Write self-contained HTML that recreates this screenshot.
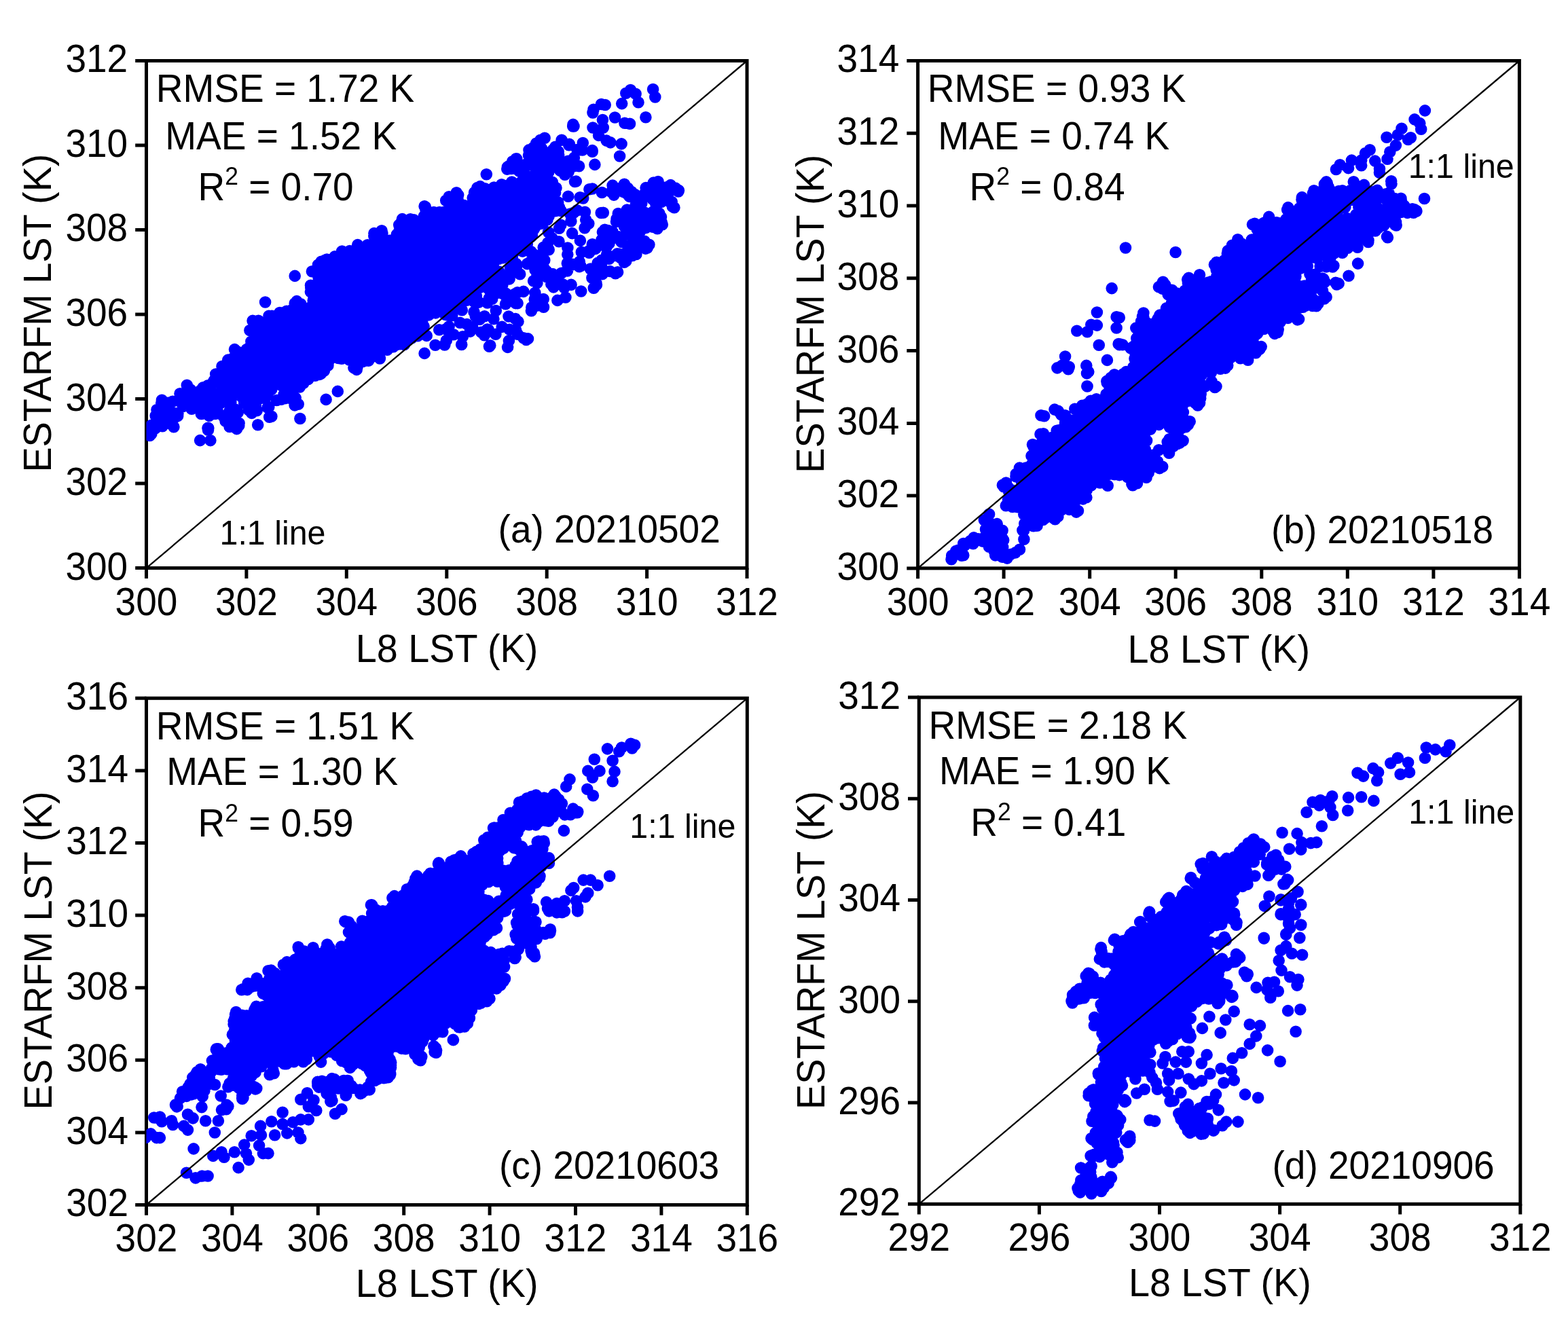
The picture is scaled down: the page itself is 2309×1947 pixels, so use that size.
<!DOCTYPE html>
<html lang="en">
<head>
<meta charset="utf-8">
<title>ESTARFM LST vs L8 LST scatter plots</title>
<style>
html,body{margin:0;padding:0;background:#fff;}
body{width:2309px;height:1947px;overflow:hidden;}
svg{display:block;}
text{font-family:"Liberation Sans", Arial, Helvetica, sans-serif;font-size:55px;fill:#000;}
.fr{fill:none;stroke:#000;stroke-width:5;}
.tk{stroke:#000;stroke-width:5;fill:none;}
.d{stroke:#000;stroke-width:2.3;fill:none;}
.p{fill:none;stroke:#00f;stroke-width:17.6;stroke-linecap:round;stroke-linejoin:round;}
.ax{font-size:55.8px;}
.sm{font-size:48.4px;}
.sup{font-size:35.5px;}
</style>
</head>
<body>
<svg xmlns="http://www.w3.org/2000/svg" width="2309" height="1947" viewBox="0 0 2309 1947">
<rect x="0" y="0" width="2309" height="1947" fill="#fff"/>
<g id="panel-a">
<rect class="fr" x="215.5" y="89.5" width="884.5" height="747.1"/>
<path class="tk" d="M215.5 836.6v15.3M215.5 836.6h-16.3M362.9 836.6v15.3M215.5 712.1h-16.3M510.3 836.6v15.3M215.5 587.6h-16.3M657.8 836.6v15.3M215.5 463.1h-16.3M805.2 836.6v15.3M215.5 338.5h-16.3M952.6 836.6v15.3M215.5 214h-16.3M1100 836.6v15.3M215.5 89.5h-16.3"/>
<clipPath id="clip-a"><rect x="215.5" y="89.5" width="884.5" height="747.1"/></clipPath>
<path class="p" clip-path="url(#clip-a)" d="M345.5 514.6h0M372.1 472.4h0M396 465.3h0M437 443.6h0M457.5 420.2h0M459.4 399.8h0M468.5 390h0M473.1 385.2h0M503.7 370h0M526.7 360.6h0M550.9 343.6h0M562.1 339.8h0M587.7 331.3h0M592.4 322.6h0M604.3 322.8h0M626.4 304.8h0M625.1 303.8h0M656.7 295.3h0M661.2 289.8h0M672.2 283.8h0M674.7 287.1h0M698.6 283.4h0M702.8 276.6h0M707 274.6h0M738.7 271.8h0M766.1 270.7h0M788.7 270.7h0M805.5 275.6h0M814.9 285.2h0M821.7 297.8h0M823.6 305.5h0M806 323.6h0M756.5 372h0M728.8 401.8h0M700.1 428.5h0M662.6 461.1h0M615.1 494.7h0M595.4 507.5h0M559.4 528h0M525.2 544.4h0M472.6 550.4h0M441.4 570h0M427.2 571.2h0M346.4 581.6h0M335.2 575.5h0M326.3 567.1h0M323.5 552.4h0M327 539.5h0M765.6 282h0M769.5 280h0M780.3 280.6h0M787.3 282.2h0M712.2 284.2h0M717.5 286h0M729.7 284.2h0M735 285.2h0M745.6 286.3h0M753.1 287.7h0M759.8 287.9h0M770.8 283.7h0M779 287.5h0M782.2 285.8h0M793.1 288.6h0M799.7 286.5h0M706.1 293.1h0M714.9 291.2h0M724.6 292.7h0M731.6 292.5h0M740.6 291h0M746.6 293.8h0M757.2 293.2h0M766.5 293.7h0M774.5 291.5h0M781.8 294.9h0M790.8 292h0M795.3 295.6h0M802.7 296h0M699.4 300.8h0M705.6 301.6h0M715.3 297.1h0M721.1 301.4h0M726.9 299.4h0M733.7 298.2h0M743.6 297.6h0M750.9 302.4h0M760.7 300h0M771.2 300.4h0M779.4 300.8h0M786.3 297.4h0M793 301.5h0M797.7 302.6h0M806.4 299.8h0M667.6 306.8h0M674.7 306h0M685.9 308.9h0M702.2 307.7h0M710 305.2h0M715.9 305.5h0M726.3 306.1h0M733.3 309.8h0M739.3 307.2h0M749.9 309.4h0M756 306.1h0M762 309.2h0M769.9 304.4h0M780.8 306.8h0M789.5 305.7h0M798 304.4h0M802.7 307.9h0M809.9 305.7h0M665.8 316.8h0M671.6 311.8h0M678.6 313.4h0M687.1 316.7h0M693.7 312.7h0M702.1 314.7h0M714 311.9h0M717.8 313.6h0M728.9 316.3h0M733.6 311.5h0M742.5 312.1h0M750.8 315.1h0M761 312.2h0M766.5 312.5h0M774.4 315.4h0M783.3 314.1h0M794.3 313.7h0M799 316.2h0M651.6 321h0M659.2 319.8h0M667.7 321.8h0M674.9 319h0M685.8 319.7h0M695.1 321.1h0M701.7 319.8h0M710.4 318.3h0M714.2 318.3h0M725.5 322h0M730.5 320.2h0M742.4 321.3h0M745.9 319.1h0M754.3 318.5h0M763.8 318.2h0M774.9 320.3h0M780.5 321.7h0M790 322.7h0M795.7 319.8h0M632.8 325.7h0M640.5 326.3h0M648.8 326.7h0M657.2 324.9h0M665.4 325.6h0M675.1 328.3h0M680.2 327.2h0M689.1 328.8h0M697.9 329.2h0M704.3 330.7h0M714.4 329.8h0M719.8 327.3h0M728.8 330.1h0M736.5 327.8h0M744 330.1h0M751.3 325h0M761.7 330.1h0M769.8 328.3h0M777.9 326.5h0M785 325.1h0M597.7 332.8h0M602.5 333h0M613.4 336.4h0M619.6 335.6h0M630.7 335.2h0M634.8 333.4h0M647 335.6h0M651.1 335.5h0M657.9 337.5h0M668 334.8h0M676.6 331.9h0M685 333.3h0M690.9 336.4h0M697.9 333.3h0M709.9 333.1h0M715.1 334.9h0M722.5 337h0M735.3 331.8h0M740.2 336.1h0M747.7 337.2h0M756.4 332.7h0M764.7 335.5h0M771.6 335.6h0M602 343h0M606.8 340.1h0M616.7 340h0M624.2 344.1h0M631.6 340.6h0M643.3 342.2h0M645.6 341h0M657.3 338.9h0M663.5 342.7h0M674.6 342.1h0M682.7 341.3h0M687.8 343.6h0M695.7 343.2h0M702.7 340.6h0M710.5 341.8h0M718.4 339.8h0M726.7 341.4h0M735.2 341.2h0M747.4 342.6h0M754.6 339.8h0M759.7 339h0M769.5 340.7h0M775 338.7h0M594.8 346h0M603.4 348h0M610.3 349h0M621.6 348.8h0M629.6 345.6h0M635.7 347.7h0M641.8 347.9h0M649.7 348.5h0M660.9 348.3h0M667.3 347h0M673.5 347.6h0M686.7 348.9h0M691 349.5h0M698.5 348.3h0M709.1 351.2h0M715.6 348.9h0M727 350.1h0M733.2 349.2h0M739.9 348h0M747.1 350.5h0M758.7 347.8h0M766.9 345.7h0M561.6 356.1h0M570.4 357.2h0M585.4 353.8h0M590.5 352.5h0M600.9 358.1h0M611.2 353.2h0M617.5 354.9h0M625.2 354.8h0M635 358.3h0M637.7 356.7h0M646.1 352.7h0M655.1 356.8h0M667.4 353.1h0M671.4 352.6h0M680.6 355.3h0M687.6 354.3h0M698.2 357.4h0M703.1 354.8h0M713.1 357h0M723.3 354.7h0M729.6 355.7h0M738.2 353.3h0M742.4 353.1h0M755 353.9h0M760.3 353.1h0M555.6 363.2h0M563.5 361h0M574.8 361.3h0M578 361.3h0M589.8 360.6h0M597.9 362.6h0M605.5 360.4h0M610 360.2h0M619.5 361.9h0M625.5 362.4h0M635.8 361.3h0M644.6 365h0M650.6 364.6h0M659.3 363.9h0M666 365.3h0M676 365.1h0M682.7 361.8h0M693.6 360.4h0M699 363.4h0M711.1 361.3h0M714.5 361.5h0M727.3 360.2h0M733.2 361.6h0M741.3 360.6h0M749.1 364.7h0M538.6 371.3h0M551.7 371.4h0M561.1 371.7h0M565.8 372.2h0M574.6 370h0M586.7 370.6h0M590.6 370.3h0M600 366.4h0M607.4 368.2h0M617.2 367.9h0M625 370.4h0M630.5 367h0M641.6 369.1h0M646.2 367h0M659 369.9h0M663.5 367.4h0M675.4 370.4h0M681.8 368.4h0M687.3 368.7h0M694.3 370.1h0M703.9 371.2h0M711.8 369h0M720.4 371.9h0M727.5 370.5h0M734.8 369.7h0M743.1 371.5h0M517.8 373.7h0M522.4 377.1h0M533.1 377.6h0M538.9 378.1h0M549.8 377.8h0M554.1 376h0M561.5 378.4h0M575.1 378.6h0M577.5 375.3h0M588.6 376.4h0M594.1 377.9h0M603.2 376.2h0M610.1 376.6h0M618.2 373.7h0M628.5 375h0M638.1 374.7h0M643.9 373.5h0M650.7 375.9h0M660.7 375.9h0M670.5 373.8h0M678.5 374.1h0M687.2 376.3h0M691.8 376.9h0M702.6 379h0M707.9 373.3h0M714.3 378.1h0M725.8 377.5h0M730.3 376.4h0M737.6 373.9h0M506.2 382.7h0M514.6 382.5h0M519.1 384.2h0M525.9 386h0M538.4 382.1h0M543.3 385h0M554.1 384h0M557.7 384.7h0M565.7 383.9h0M576.7 385.7h0M585.2 380.3h0M595 384.6h0M600.9 380.2h0M609.8 382.6h0M617.5 386h0M626.9 380.6h0M634.1 382.8h0M641.9 382.4h0M648.1 382.7h0M654.1 382h0M665.8 380.5h0M670.1 385.1h0M681.4 383.4h0M686.1 380.8h0M695.3 385.8h0M704.8 385.7h0M710.7 382.6h0M720.6 385.2h0M726.1 385.4h0M736.2 380.3h0M490.6 390.3h0M501.1 387.8h0M510 390.5h0M518.8 392.6h0M525.5 389.2h0M535.1 391.4h0M539.1 392.2h0M549.8 388.6h0M554.9 387.2h0M564.6 388.6h0M571.2 388.6h0M578.2 390h0M587 388.8h0M595.1 390.1h0M606.6 388h0M614.6 392.2h0M621 390.3h0M629.8 390.3h0M637.4 392.6h0M646 388.6h0M649.7 392.7h0M659.6 391.8h0M666.8 389.8h0M675.6 391.4h0M687.1 390.1h0M692.8 389.1h0M698.8 392.7h0M706.1 392.7h0M717.3 387.5h0M726.8 387.7h0M481.9 398.8h0M485.4 394.4h0M498.2 399.8h0M506.4 396.4h0M511.4 396.1h0M517.5 398.6h0M527 397.5h0M536.6 396h0M545.4 396.7h0M550.8 399.3h0M558.4 394.9h0M566.9 396.8h0M578.1 396h0M582.8 397.9h0M591 397.1h0M598.9 399.2h0M606.5 395.4h0M615.2 396h0M625.8 398h0M634.1 397.2h0M637.9 398.6h0M646.9 395.3h0M655.9 399.9h0M663.6 396.1h0M674.9 399.9h0M679.7 394.8h0M690.1 398.7h0M695.4 398.7h0M703.7 395.7h0M713 398.4h0M471.3 401.1h0M478 403.3h0M481.7 401.9h0M490.4 405.3h0M498.7 401h0M506.7 405.7h0M516.4 404.8h0M524.2 402h0M529.5 402.7h0M537.6 402.5h0M549.1 403.1h0M556.2 404.6h0M563.3 403h0M574.7 404.4h0M579.9 404.1h0M588.2 402.9h0M598.9 402.3h0M607 406h0M614.7 401.9h0M620.4 406.8h0M627.1 401.9h0M637.7 402.3h0M644.9 401.8h0M655.1 402.6h0M658 405h0M667.5 404.3h0M676.4 406.4h0M684.5 403.2h0M689.4 403.9h0M699 404.3h0M709.2 403.7h0M713.9 403.9h0M474.6 412.4h0M482.1 413.1h0M488.8 413.5h0M497.2 410.8h0M503.7 410h0M509.5 408.8h0M522.2 409.2h0M529.3 412.5h0M537.6 410.9h0M543.3 409.5h0M550.5 411.7h0M561.5 413.5h0M567.4 413.4h0M578.9 409.6h0M587.1 411.5h0M595.2 412.5h0M599.4 409.5h0M608.5 410.8h0M613.6 413h0M624.6 410.7h0M633.9 409.3h0M638.6 411.3h0M646.8 409.8h0M653.8 408.1h0M663.5 411h0M675.1 411.7h0M679.9 410.3h0M686.8 410.7h0M699.1 408.6h0M704 411.9h0M467.8 420.1h0M474.9 419.5h0M485.6 417.5h0M491.6 417.4h0M500.1 416.7h0M509.1 417.2h0M515.2 419.4h0M524.1 417.6h0M534.7 417.5h0M539.6 420.1h0M551.3 419.5h0M555.8 418.8h0M565.8 416.5h0M573.7 420.5h0M581.3 418.8h0M588 418.7h0M594.7 419.4h0M604.6 420.6h0M611.4 419h0M617.5 417.3h0M630 416.3h0M637.1 416.1h0M643.8 420.7h0M650.6 420.2h0M657.8 418.3h0M670.3 419.8h0M675.7 418.3h0M685.7 419.3h0M693.9 418.2h0M472 426.6h0M480.8 425.3h0M491.3 423h0M494.7 425.4h0M502.3 427.5h0M511.4 424.3h0M520 426.7h0M530.9 425.8h0M534.4 423.8h0M545.6 423h0M554.7 426.9h0M558.8 423.9h0M566.8 426h0M573.7 425.9h0M581.8 426.7h0M592.7 425.2h0M598 422h0M607.5 427.6h0M617 426.9h0M621.8 422.3h0M629.5 425.9h0M638.5 423.3h0M649.4 425.9h0M655.3 424.5h0M663.1 425.1h0M671.5 423.8h0M678.9 423.4h0M687 421.8h0M470.8 432.7h0M474.7 431.3h0M484.7 430.6h0M492.9 432.4h0M497.5 429.9h0M509.3 429.9h0M513.8 433.2h0M523.4 434.4h0M532.7 429.2h0M541.2 430.2h0M550.3 433h0M557.9 429h0M561.6 433.4h0M570.2 429.8h0M577.6 429.6h0M588.2 434.4h0M595.3 430.2h0M606.4 429.7h0M613.2 432.3h0M623 428.9h0M628.8 430.9h0M638.3 430.1h0M645.7 429.7h0M652.4 434.4h0M658.8 430.3h0M670.9 432.7h0M673.8 429.7h0M682.8 430.4h0M473.1 436.7h0M479.4 435.6h0M490.7 439.1h0M495.7 438.8h0M507 436.3h0M511.7 439.8h0M519.6 439.8h0M530.8 435.8h0M535.1 437.3h0M545.9 440.2h0M553.6 441.1h0M558.5 437.9h0M570.5 440.1h0M574.1 441.4h0M585.8 440.7h0M591.6 439.2h0M603.1 440.9h0M608.9 440.9h0M619.4 440.6h0M625.3 441.3h0M630.3 438h0M640.8 436.3h0M650.1 435.9h0M657.2 437.2h0M663.3 439.2h0M670.5 438.2h0M468.9 447.7h0M477.5 448.3h0M483.1 447.1h0M493.2 445.3h0M497.5 445.3h0M507 446.1h0M516.5 445.5h0M521.7 443.3h0M533 446.6h0M543.3 447.2h0M547.1 445.2h0M556.4 447.3h0M563.8 448h0M572.3 444.9h0M580.3 444.6h0M591.4 442.8h0M595.8 442.9h0M605.5 443.4h0M610.3 445h0M621 447.1h0M628.1 444.2h0M635.6 447.8h0M642.7 442.5h0M654.7 445.4h0M658.2 443.3h0M450.7 455.2h0M455.8 453.3h0M463.6 451.9h0M471.6 453.3h0M479.5 451.5h0M490.5 454.2h0M497.5 454.5h0M503.7 453.3h0M510.9 451.3h0M518 454.2h0M530.9 451.2h0M535.7 450.1h0M542.2 453.2h0M554.7 449.9h0M558.9 454h0M566.7 454.7h0M575.5 452.2h0M582.6 451.1h0M591.9 451.1h0M601.8 449.6h0M609.2 454.2h0M615.4 450.5h0M622.1 449.9h0M634.1 453h0M637.5 452.1h0M649 451.3h0M653.6 451.9h0M433.4 462.3h0M446.4 458.6h0M450.3 461.3h0M463.3 457.4h0M469.9 461.2h0M479 457.6h0M482.1 457.3h0M490.8 461.7h0M502.9 459.2h0M506.2 458.4h0M514.8 460.2h0M525.7 461h0M532 459.1h0M540.2 458.5h0M548.1 460.4h0M557.7 458.3h0M564.8 457.2h0M569.7 458.6h0M579.5 456.5h0M585.9 458.9h0M599 461.4h0M601.6 458.2h0M611.6 458.2h0M618.2 459.9h0M630.4 458.6h0M634.5 457h0M641.5 460.9h0M418.7 465.4h0M424.1 466.4h0M429.5 463.9h0M442.1 466.6h0M448.4 465.3h0M457.9 466.3h0M466.1 468.3h0M474.8 467.6h0M481.4 466h0M488.6 466.7h0M496.5 468.2h0M506.5 463.6h0M513.9 467h0M521 468.7h0M525.7 466.1h0M535.6 468.9h0M542.4 466.6h0M550.3 467.8h0M560.3 467.7h0M567.2 468.6h0M573.4 464.6h0M585.8 468.5h0M594.1 464.9h0M597.9 467.5h0M609.8 463.6h0M619 466.4h0M621.6 466.1h0M631.4 463.9h0M401.8 474.6h0M412.3 475.5h0M423.3 472.9h0M429.4 474.2h0M437.6 472.4h0M445.2 470.6h0M454.8 474.5h0M462.2 473h0M466.6 472.9h0M477.5 473.5h0M482 470.2h0M491.8 471.7h0M498.8 471.5h0M507.9 474.4h0M518.9 474.2h0M521.5 475.4h0M533 474.6h0M541.1 472.3h0M547.4 470.6h0M557.4 470.5h0M565.5 475.7h0M573.4 473.8h0M582.2 475.9h0M590.3 476.1h0M596.2 470.3h0M605.1 474h0M614.6 473.9h0M619.6 470.2h0M381.8 481.1h0M391 478.4h0M399.2 480.8h0M407.3 481.1h0M418.8 483.1h0M426.7 482.6h0M430.9 482.1h0M437.9 480.6h0M445.8 477.7h0M459.1 477.9h0M465.7 480.3h0M469.4 481.9h0M477.8 482.4h0M490.3 480.1h0M496.1 477.3h0M505.6 477.3h0M512.5 482.7h0M521.5 477.8h0M529.7 481.3h0M535.4 481.7h0M544.9 479.6h0M552.5 478.8h0M559.1 482.4h0M567.5 481.7h0M575.6 478.3h0M581.4 482.9h0M593.9 483h0M600.9 477.5h0M606.4 477.4h0M617.1 480.8h0M379.1 487.4h0M385.9 488.2h0M395.9 484.3h0M402.1 489.7h0M414.5 489.3h0M419.7 489.9h0M426.4 488.4h0M439 485.3h0M441.4 484.8h0M449.9 488.9h0M461 486.9h0M466.1 487.9h0M474.2 484.8h0M485 487.9h0M494.2 489h0M498.2 485.9h0M506.3 487h0M513.6 489.2h0M525.5 488.9h0M532.3 489.5h0M542.4 489h0M550.2 485.3h0M555.5 484.4h0M566 486.9h0M575.3 485.8h0M580 489.2h0M591.2 488.6h0M598.7 489.6h0M603 487.7h0M609.8 488.1h0M374.9 496.2h0M385.5 496.3h0M391.5 496.7h0M400.9 492.5h0M409.3 492.8h0M414.1 491.2h0M425.1 492.4h0M430 495.6h0M438.2 495.5h0M447 493.1h0M459 495.9h0M466.4 496.8h0M473 496.6h0M481.1 494.5h0M487.3 493.2h0M496.8 492.5h0M505.2 496.2h0M513.7 492.3h0M517.6 493.2h0M528 496h0M536.7 494.1h0M545 494.3h0M553.5 494.3h0M560.7 492.4h0M566.1 493.6h0M578.7 496.6h0M583.2 494.4h0M592.5 493.7h0M369.9 503h0M377.4 503.8h0M390.8 500.6h0M397.2 500.7h0M402.4 500h0M412 503.1h0M418.1 501.1h0M428.2 501.2h0M438.1 501.5h0M443.3 503.6h0M453 499.5h0M460.7 503.1h0M465.7 501.8h0M476.3 499.6h0M482.3 499.3h0M492 500.4h0M501 499.5h0M509.1 500.7h0M518.2 502.7h0M522.8 503.8h0M532.7 499.9h0M538.9 502.2h0M548 502h0M554.9 503.1h0M563 503.1h0M572 500.3h0M580.9 501h0M588.7 501.3h0M369.6 509.9h0M378.1 506.3h0M386.1 505.4h0M390.2 507.9h0M398.5 508.2h0M407.1 510.5h0M416 509.7h0M427.1 507.5h0M434 507.8h0M439.8 505.6h0M449.3 510.4h0M457.5 506.7h0M464.5 507h0M471.7 509.5h0M477.4 507.7h0M488.5 505.7h0M497.8 506.3h0M503.8 506.3h0M513 507.4h0M521.5 507.4h0M530.1 508.1h0M534 507.8h0M542.9 506.6h0M555.1 507.7h0M561.8 505.8h0M569.2 505.5h0M574.7 505.6h0M363.1 514.6h0M375.1 512.6h0M382.8 517.6h0M390.1 513.4h0M393.5 517h0M401.8 513.5h0M415 515.8h0M422.3 516.8h0M426.5 514.8h0M434 514h0M444.4 516.7h0M451.1 515.8h0M458.2 513.3h0M465.7 515.2h0M476.9 516h0M483.9 517.4h0M493.7 515.2h0M502.6 512.8h0M507.1 515.1h0M517 517.5h0M525.5 512h0M535.1 514.6h0M538.6 516.3h0M549.2 516.9h0M556.7 513.3h0M564.2 514.5h0M360.4 522.8h0M369.4 519.2h0M373.7 519.7h0M383.2 519.8h0M391.1 519.4h0M397.6 521.8h0M409.9 519.6h0M414 523h0M421.9 519.5h0M432.3 520.5h0M442.1 521.7h0M448.5 520.9h0M453.6 523.6h0M463.7 523.6h0M470 521.3h0M480.6 519.6h0M485.8 524.3h0M499 524.7h0M504.7 523.1h0M513 521.5h0M518.4 522.5h0M528.1 522.8h0M533.6 520.4h0M542.1 523.3h0M552.3 520.4h0M354.9 531.3h0M363.9 528.3h0M375 529.5h0M380.2 530.1h0M389.8 527.5h0M393.8 530h0M405.9 529.2h0M410.1 530.1h0M418.4 530.4h0M429.1 529.4h0M433.8 527.8h0M445.8 526.3h0M449.6 528.1h0M462.5 529.4h0M466.8 526.1h0M478.4 530.7h0M485.6 526.8h0M493.9 525.7h0M498.4 527.5h0M511.1 525.8h0M514.4 530h0M526 527.2h0M347.3 537.3h0M351.5 534.1h0M361.2 533.3h0M366.5 533.1h0M377.3 534.9h0M386.9 537.4h0M392.6 534.6h0M399.3 532.9h0M406.1 537.8h0M415.2 532.6h0M427.3 534.8h0M434 535.3h0M443.2 533h0M448.2 536.4h0M453.5 538h0M463.4 536.6h0M469.9 533h0M343.1 540.3h0M351.2 543.2h0M353.4 541.8h0M363.6 541.3h0M369.8 540.9h0M377.5 542.2h0M388.3 540.9h0M398.9 544.8h0M404.4 544.3h0M411.5 544h0M422.1 541.6h0M429.8 541.6h0M434.4 542h0M442.1 543.8h0M450.9 542.4h0M462.2 543.1h0M333.9 550.2h0M347.1 547.3h0M350.5 549.2h0M362.1 549.8h0M369.4 546.7h0M374.6 549.9h0M385.7 546.9h0M389.9 548.3h0M399.9 548.4h0M406.4 546.8h0M417.3 552.1h0M425.2 551.9h0M430.2 550.1h0M439.6 551.5h0M449 550.1h0M335.4 558.2h0M338.8 559.2h0M349.1 553.5h0M354.6 559.1h0M366.2 557.8h0M373.4 553.5h0M383 555.1h0M390 556.6h0M396.3 556.5h0M406.9 558.3h0M411.8 558.4h0M418.4 555.4h0M427.3 553.6h0M435.8 553.3h0M337.7 562.3h0M345.8 562.4h0M353.1 560.9h0M359.3 563.6h0M369.1 563h0M373.6 563.5h0M386.6 561.9h0M390.6 564h0M398.8 560.9h0M405.8 564h0M434.5 561.9h0M342.5 567.3h0M347.3 569h0M808.1 318.5h0M504.5 377.3h0M446.1 561.1h0M376.6 487.2h0M542.8 531.1h0M430 563.4h0M627.7 311.3h0M594.3 497.4h0M768.8 343.8h0M711.4 282.7h0M667.7 449h0M794.2 275.5h0M647.2 312.5h0M696 415.3h0M552 354.6h0M783.3 283.8h0M577.3 356.1h0M700.7 304h0M328.9 551.9h0M688.4 309.2h0M665 311.3h0M345 576.4h0M581.1 357.2h0M821.6 299.3h0M708 421.1h0M330.4 538.6h0M498.9 383.5h0M672.4 448.7h0M503.1 528.3h0M412.8 562h0M488.2 385h0M663 307.1h0M793.8 322.7h0M450.9 546.3h0M790.5 322.2h0M417.7 468.2h0M343.7 527.2h0M563 514.2h0M783.4 329.6h0M633 318.6h0M461.6 440.7h0M400.3 465.2h0M610.5 329.3h0M765.4 275.1h0M346.6 570.4h0M665.4 303.5h0M584.2 355h0M381.4 478.2h0M406 468.9h0M671.4 296.6h0M761.9 353.6h0M526.9 530h0M412.1 465h0M734.3 381.3h0M726.1 278.2h0M391 571.3h0M675.1 447.7h0M673.9 291.5h0M619.9 332.1h0M687.5 422.8h0M354.6 522.9h0M671.7 439.8h0M545 520.7h0M655.6 463.4h0M329.5 562.3h0M592.7 339h0M472.8 399.4h0M384.4 567h0M669.7 288.1h0M748.4 279.2h0M374.5 486.7h0M603.8 486.2h0M708.1 408.7h0M674.2 445h0M598.9 337.1h0M417.2 460.5h0M646.9 320.6h0M380.6 472.2h0M741.4 280.3h0M700.4 298.5h0M566.6 510.4h0M612.4 485.4h0M748.8 367.1h0M778.5 277.4h0M717.3 409.6h0M612.5 491.2h0M589.3 506.8h0M766 280.2h0M624.4 318.5h0M483.1 535.5h0M661.4 451h0M566.1 508.8h0M478.5 383.4h0M682.9 302.3h0M482.9 538.4h0M469.1 409.3h0M768.1 349.8h0M457.4 429.7h0M432.8 569.3h0M546.9 526.1h0M800.7 289.1h0M618.9 485.1h0M398.2 472.3h0M626.8 308.2h0M735.1 284.1h0M743.3 282.5h0M787.9 334.7h0M576 503.1h0M493 377.9h0M778.2 335.1h0M446.3 457.6h0M788.4 274.6h0M692.5 308.7h0M675.2 297.4h0M439.6 555.1h0M375.3 479.2h0M587.5 348.1h0M539.3 528.7h0M427.1 559.6h0M589.8 329.1h0M776.8 279.3h0M426.8 466.8h0M541.3 520.1h0M450.4 552.1h0M675.4 444.2h0M597.5 499.3h0M525.8 537.4h0M679.2 306.9h0M748.7 286.1h0M481.3 382h0M644.8 457.9h0M363.5 565.1h0M622 334.8h0M577.4 354.1h0M504.1 381.2h0M700.6 294.6h0M436.4 447.3h0M713.1 401.3h0M434.2 446.7h0M570.2 515.2h0M786.1 337.9h0M706.2 412.2h0M583.3 507.7h0M562.9 344h0M682.7 426.1h0M505.6 381.1h0M740.6 379.7h0M550.8 347.4h0M496.4 385.1h0M419.2 566.6h0M335.4 558.4h0M454.3 549.2h0M525.7 369.4h0M587.7 340.6h0M688.5 436.9h0M396.6 562.3h0M725.6 402.8h0M600.3 493.9h0M493.8 381.4h0M684.9 308.8h0M759.8 283.8h0M701.4 302.1h0M457.8 424h0M657.3 449.1h0M444.1 451.4h0M669.2 447h0M630.4 326.4h0M353.7 576h0M763.9 354.5h0M688.5 308.3h0M746.7 362.6h0M465.1 541.3h0M486.9 527.4h0M355.6 577.4h0M636.5 314.9h0M470.3 424.5h0M464.6 435.1h0M719.7 288.2h0M632.3 321.6h0M682.5 302.5h0M382.7 480h0M470.7 541.4h0M677 430.9h0M534.1 532.5h0M786.1 278.8h0M466.6 445.6h0M708.4 280.4h0M771.3 275.2h0M471.1 423.4h0M744.6 274h0M806.9 292.2h0M484 393.9h0M776.9 335.8h0M750.3 376.7h0M349.5 517.9h0M807 303.3h0M361.4 571.5h0M795.8 329.5h0M638.8 312.5h0M776.4 345.5h0M621.7 474.8h0M710 277.5h0M429.4 465.1h0M345.5 530.6h0M446.3 552h0M461.2 443.1h0M747.2 285.7h0M573.9 506.8h0M766.2 282.3h0M714.3 277.7h0M641.8 317.2h0M658.7 458.5h0M758.2 364.4h0M759.8 282h0M525.9 368.4h0M609.9 494h0M388.6 573.6h0M652 458.1h0M660.4 310.9h0M696.1 300.1h0M380.6 487.9h0M441.5 455.7h0M330.5 555.1h0M349.9 518.3h0M501.5 379.2h0M778.8 279.9h0M799.6 328.3h0M376.1 477.1h0M523 533.5h0M718.2 394.9h0M675.3 306.6h0M326.4 549.1h0M496.4 380.7h0M675.7 436h0M477.4 546h0M811.4 305.4h0M529.3 524.4h0M429.1 456.8h0M475.9 389.9h0M579.1 510.7h0M808 302h0M375.4 479.9h0M562.5 355.5h0M472 401.2h0M772.6 276.9h0M804.2 293.8h0M532 532.3h0M745.6 285.9h0M549.2 366.6h0M413.8 567.4h0M804.2 309.1h0M495.5 378.7h0M809 281.7h0M748.8 369.4h0M341.8 528.9h0M771 276.2h0M422 458.2h0M720.7 281.9h0M453.8 558.5h0M465.9 429.7h0M659 447.3h0M698.6 305.5h0M468.6 399.3h0M511.7 527.2h0M542.5 372.4h0M465 420.5h0M765.5 341.9h0M329.4 554.3h0M712.9 288h0M520.9 541.6h0M815.5 291.7h0M760.1 276.9h0M660.1 314.5h0M661.7 457.7h0M781.2 271.5h0M725 398.4h0M550 368h0M696.2 291.4h0M584.3 345.5h0M410.9 565.6h0M393.1 564.6h0M335.5 540.7h0M430.6 561h0M587.8 350.1h0M383.1 565.6h0M711.2 287.4h0M562.3 510.8h0M515 369.5h0M473.7 404.4h0M529.2 369.2h0M602.4 499.7h0M479.5 397.2h0M335.5 567.6h0M467.9 543.8h0M658.5 452.6h0M560.6 513.9h0M353.1 527.9h0M333.5 539.5h0M617.2 482.5h0M621.6 473.4h0M797.6 321.5h0M383.8 572.5h0M699.8 306.1h0M552.8 516.3h0M337.3 560.5h0M728.6 400.3h0M589.4 330.4h0M422.9 558.5h0M750 363.1h0M447.2 564.1h0M669.1 302.5h0M620.1 327.4h0M765.5 277.4h0M633.9 315.9h0M618.6 482.4h0M794.5 328.1h0M561.2 343.2h0M524.9 541.7h0M368.9 572.7h0M470.6 551.4h0M592.9 493.3h0M815.8 301h0M525.9 370.2h0M504.7 382.1h0M354.5 529h0M780 341.6h0M701.1 424.3h0M492.7 525.7h0M404.4 561.3h0M573.5 354.4h0M682.7 304.3h0M595.7 499.7h0M367.9 486.5h0M486.3 528.2h0M345.9 529.8h0M647.1 315.5h0M606.4 497.7h0M526.2 540.1h0M654.1 312.2h0M380.3 477.7h0M786.4 283.2h0M742.8 378.3h0M673 294.8h0M709.2 286h0M546.2 362.3h0M812.5 304.3h0M588.1 356.3h0M454.2 458.3h0M770.8 284.1h0M675.7 431.9h0M350.2 529.5h0M390.7 480.6h0M588.2 496.2h0M795.6 285h0M469.9 426.4h0M501.8 523.8h0M765 349.2h0M782.4 333.2h0M328.7 548.3h0M609.5 323.9h0M671.8 452.2h0M711.5 283.2h0M441.2 456.7h0M722 280.9h0M631 326.5h0M493.9 526.1h0M624.1 480.6h0M529 365.2h0M471.6 419.2h0M527.3 536.6h0M355.9 578.7h0M669.3 298.7h0M613.3 487.8h0M772.2 276.6h0M411.9 460.5h0M727.4 276h0M586.1 499.4h0M541.2 360.8h0M770.5 355.9h0M663.5 452.7h0M485.8 525.8h0M798 283.6h0M619.6 485.5h0M368.5 510.1h0M708.8 403.1h0M494.4 386.4h0M782.4 282.5h0M534.3 530.3h0M513.2 378.7h0M519.7 374.9h0M472.2 386.8h0M553.2 358.7h0M466.1 425.9h0M515.5 378.2h0M436.9 457.6h0M376.5 481.4h0M656.3 320h0M791.4 283.1h0M442.9 447.8h0M464 553.2h0M629.1 329.8h0M543.9 525.4h0M812.5 302.8h0M223 626.2h0M231 603.5h0M238.4 589.2h0M275.3 567.3h0M335.8 530.1h0M441.5 557.3h0M439.2 595.3h0M434.1 596.9h0M399.9 613.2h0M396.7 614.2h0M370.7 608.4h0M351.8 626.9h0M348.6 631.6h0M338.1 628.5h0M306.8 630.4h0M306.5 633.2h0M306 630.4h0M255.9 628.7h0M220.3 639.3h0M220.6 641.5h0M350.3 607.6h0M407.5 589.5h0M356.9 540.3h0M271.5 590.7h0M430 577.2h0M364 586.2h0M253.2 592.1h0M385.3 586.2h0M278.1 586.8h0M232.9 619.6h0M304.4 577.9h0M393.8 583.1h0M257.5 614.8h0M307.9 592.5h0M319.2 585.1h0M328.6 612.8h0M328.2 577.1h0M428.7 587.1h0M311.6 587.8h0M355.5 583.9h0M376.4 596.7h0M297.1 609.5h0M337.4 625.2h0M280.6 573.9h0M435.2 586.1h0M261.7 612.5h0M259.3 608.9h0M335.9 588.3h0M403.3 555.6h0M308.1 612.4h0M381.6 584.4h0M313.4 579.9h0M316.7 609.5h0M237.7 593.7h0M316.2 581.9h0M321.4 579.2h0M358.2 573.9h0M295.8 581.5h0M294.9 575.4h0M278.7 592.5h0M395.8 599.4h0M419.5 586.8h0M343.9 553.2h0M327.9 585.2h0M261.9 609.3h0M352.7 562.1h0M414 588.3h0M242.9 606.3h0M351.7 574.2h0M309.7 569h0M398.9 572.8h0M317.7 551h0M366.2 603.8h0M382.1 576.8h0M394 600.4h0M270.4 596.5h0M379.2 574.1h0M374.2 591.3h0M346.9 606.6h0M296.7 601.7h0M373.3 598.3h0M280.1 579.6h0M332.1 620.2h0M369.1 587.9h0M369 560.1h0M348.6 558.9h0M310.2 572.7h0M384.1 574.4h0M298.9 570.9h0M247.7 593.2h0M371.8 549.4h0M338.7 557.9h0M334.5 582.1h0M431.8 571.8h0M228.8 630.8h0M338.5 559.4h0M331.2 586.8h0M296.3 609.5h0M368.2 572.6h0M295.9 607.1h0M326.3 592.9h0M329.7 540.2h0M361.6 585.7h0M357.6 586.4h0M330.4 545.6h0M361.1 562.8h0M389 576.2h0M423.6 561.6h0M235.3 608.1h0M243.1 618.7h0M326.8 584.6h0M338.3 613h0M426.4 569.3h0M276.2 585.1h0M282.2 602.2h0M278.9 586.5h0M231.7 608.9h0M375.4 550.5h0M237.2 615.7h0M370.2 598.6h0M421.6 556.5h0M239.2 627.8h0M399.8 573.6h0M261.5 590h0M353.4 550.4h0M243.5 605.2h0M278.8 597.2h0M337.8 605.6h0M265 579.7h0M335.3 547.3h0M286.9 597.4h0M400 557.7h0M380.3 550.5h0M380.1 550.1h0M232 619.9h0M328.8 588.8h0M336.2 587.6h0M272.4 592.9h0M396.9 555.2h0M336.8 552.7h0M406.6 564.3h0M418 581.3h0M338.7 554.8h0M315.4 560.3h0M292.3 594.9h0M346.1 619.9h0M313.6 563.2h0M352.6 580.8h0M339.9 591.9h0M352.1 623.2h0M244.1 623.8h0M237 601.8h0M361.6 579.3h0M254.2 591.3h0M302 595.7h0M339 594.4h0M428.6 560.6h0M229.2 612.2h0M354.3 554.5h0M331.1 586.5h0M284.8 582.7h0M359.7 593.8h0M314.7 590.3h0M378.4 556.7h0M346.1 602.8h0M349.5 535.8h0M354.4 540.1h0M342.5 562.7h0M384.2 584h0M335.1 539.3h0M230.6 625.5h0M300.9 605.4h0M378.4 578.4h0M312.6 605.5h0M288.6 594.3h0M380.6 574.7h0M319.9 603.1h0M378.2 604.7h0M306.1 567.8h0M364.8 586.8h0M250.8 605.6h0M269.4 598.6h0M335.1 621.6h0M340.3 619.2h0M361 564.3h0M370.6 550.5h0M339.6 580.3h0M428.9 569.1h0M441.9 616.5h0M379.7 625.7h0M497.3 576.4h0M480.1 588.4h0M309.9 648.6h0M294.6 648.6h0M434.2 406.4h0M390.6 445h0M221 628.6h0M222.9 639.1h0M961.6 131.5h0M964.8 143h0M928.5 132.5h0M921.8 137.3h0M936.1 138.2h0M940 150.7h0M915.7 152.6h0M885.5 153.5h0M891.2 154.5h0M874 161.2h0M873 166h0M950.9 172.7h0M905.5 173h0M887.4 176.5h0M919.9 181.3h0M927.5 182.2h0M888.3 188h0M873 188h0M881.6 199.4h0M893.1 207.1h0M898.9 209.9h0M915.1 211.9h0M912.6 230h0M875.9 242.4h0M716.3 256.8h0M836.7 289.3h0M867.9 278.8h0M746.8 249.1h0M760.8 234.1h0M779 220.9h0M789.8 211h0M795.8 206.3h0M802.1 203.2h0M827.1 206.3h0M843.7 186h0M843.9 183.4h0M845 186h0M858.3 210.5h0M872.2 223.2h0M872.2 221.6h0M852.6 244.7h0M846.5 267.5h0M848.3 267.1h0M817.6 283.8h0M766.5 283.1h0M760.1 275.8h0M753.7 268h0M831.8 257.2h0M775.8 260.1h0M752.9 248.5h0M787.8 272.5h0M837.8 213.8h0M791.2 258.3h0M799.9 233.7h0M790.3 239.6h0M797.2 267.2h0M814.2 220.8h0M791.1 266.9h0M817.8 216.3h0M793.9 236.5h0M816.2 245.8h0M776.4 281.6h0M822.2 223.3h0M799.4 222h0M754.6 246.7h0M768.8 255.4h0M805.8 257.8h0M797.5 245.2h0M797.5 218.4h0M799.6 227.2h0M793.1 280.8h0M838.5 212.4h0M857.6 221h0M823 238.7h0M794.3 229.4h0M825 251.4h0M785.6 217.2h0M780.5 260.5h0M771.7 245.6h0M850 220.5h0M845.4 232.4h0M811 231.4h0M852.1 221h0M747.4 245.9h0M748.8 244.9h0M754.7 237.8h0M760 233.7h0M778.5 228.7h0M822.7 228.5h0M838.2 237.9h0M844.9 244.9h0M837.1 253h0M819 276.7h0M804.9 287.7h0M759.6 279.9h0M753.9 244.5h0M813.3 268.3h0M798 283.6h0M805.4 262.9h0M801.9 280.5h0M795.9 268.6h0M792.8 246.1h0M766.2 269.4h0M795.4 252.7h0M758.3 242h0M780 242.2h0M829.7 239.3h0M836.4 237.3h0M783.5 236h0M775.6 258.8h0M807.7 253.9h0M775 241.8h0M802.3 272.1h0M764.3 251.7h0M778.2 263.5h0M786.2 244.9h0M774.7 275.2h0M814.4 272.2h0M808.9 240.3h0M807.5 251.9h0M782.8 239.9h0M811.9 237h0M854.1 290.8h0M872.3 278h0M902.1 273.1h0M919.4 271.3h0M962.3 269.1h0M969.1 267.5h0M987.5 272.6h0M994.8 277.1h0M999.4 280.4h0M998.9 282h0M989.2 297.3h0M988.6 299.9h0M974.4 327.7h0M970.3 331.8h0M961.6 334.3h0M953.2 365h0M951.1 364.4h0M931.2 376.5h0M921.8 384.6h0M919.2 386.2h0M908.9 373.9h0M909.3 350.6h0M858.7 292h0M952.5 316h0M928.5 284h0M934.2 307.5h0M964.1 279.5h0M940 306h0M926.8 370.3h0M941.3 321.1h0M948.9 317.4h0M935 309.1h0M974.8 296.7h0M965.6 299.8h0M938.7 309.5h0M938 335.6h0M935.1 362h0M962.3 316.3h0M982.3 275.5h0M974.7 292h0M919.3 333.2h0M915.1 356.4h0M917.5 282.4h0M940.9 363.3h0M951.1 276.6h0M914.2 277h0M924.4 277h0M970.6 314h0M977.8 281.5h0M932 352.7h0M931 346.8h0M926.1 376.4h0M923.5 323.3h0M929.1 362.3h0M937.3 305.6h0M941.7 309.5h0M961.6 311.9h0M981 277.4h0M926 344.9h0M941.8 324.6h0M926.9 289.4h0M921 328.8h0M963.6 323.3h0M960.1 315.1h0M935.9 291.7h0M944.8 299.5h0M971.5 291.7h0M941.4 343h0M985.7 276.7h0M927 368.1h0M930 282.5h0M921.7 284.2h0M942.4 323.5h0M964.2 312.9h0M936.4 301.2h0M957.1 275.7h0M949.4 313.1h0M974.1 297.4h0M955.1 288.6h0M954.9 316.2h0M936.1 322.8h0M967.9 289.4h0M935.3 286.6h0M984.9 283.5h0M987.9 274.4h0M949.7 284.7h0M967.2 319.2h0M886.4 283.5h0M947.8 288.3h0M944.4 330.6h0M912.9 375.2h0M911.6 374.1h0M927.8 367.1h0M951.4 335.4h0M900.2 282.8h0M940.1 329.3h0M961.1 293.5h0M927.1 288.9h0M904 287.1h0M925.1 364.6h0M941 327.4h0M950.5 330.3h0M814.7 308.1h0M702.3 421.3h0M664.4 455.4h0M628.2 494.4h0M625.1 520.4h0M654.8 508h0M720.5 510.2h0M747.6 511.4h0M774.9 500.5h0M777.5 498.9h0M763 473.6h0M782.4 457.8h0M800.5 452.3h0M820.9 442.4h0M832.9 438h0M855.7 429h0M874.3 424.3h0M878.4 419.5h0M906.3 402.8h0M909.6 400.7h0M922.6 381.7h0M936.9 374.5h0M950.7 366.1h0M955.9 360.2h0M975.3 330.7h0M990.4 304.4h0M992.9 305.8h0M717.6 485h0M812.8 350.5h0M706.5 470.4h0M769.5 370.1h0M762.1 446.6h0M853.3 385.4h0M825.8 331.2h0M692.4 488.1h0M751.4 393.5h0M817.1 408h0M841.3 390.3h0M712.5 489.1h0M933.2 333.6h0M708.7 489.3h0M887.5 355.9h0M785.6 413.8h0M733.2 408.1h0M849.8 309.7h0M732.9 406.8h0M704.7 421.9h0M723.4 440.1h0M835.9 365h0M817.9 310.8h0M790.7 407.1h0M896.9 381.3h0M907.5 326.4h0M727.3 434.1h0M935.5 312.6h0M739.9 419.4h0M681.3 495.9h0M674.4 453.7h0M726.9 469.7h0M713.3 493.8h0M853.1 392.7h0M942.2 341.4h0M835.3 387.7h0M890.6 338.3h0M897 358.5h0M781.8 370.5h0M659.4 486.6h0M877.9 416.9h0M785 373.9h0M807.5 342h0M780.6 370.9h0M892.3 364h0M781.9 348.8h0M749 466h0M701.4 436.3h0M835.8 374.8h0M736.5 431.2h0M908.1 322.3h0M656.4 484.8h0M854.4 354.4h0M750.7 402h0M831 423.8h0M871.9 409.3h0M791 408h0M804.8 321.2h0M893.6 374.7h0M659.2 464.1h0M698.5 444.5h0M794.1 445.5h0M695.6 481.3h0M828.8 418.8h0M826.7 402.2h0M744.5 447.8h0M706.8 423.3h0M760.5 392.8h0M698 459.4h0M881.8 401.4h0M720.1 439.8h0M914 379.8h0M805 407.8h0M801 394.9h0M823.5 336.3h0M693.1 483.4h0M758.9 469.6h0M734.8 400h0M761.9 430.7h0M811.8 418.4h0M973.5 319.4h0M770.9 497.8h0M800.2 440.5h0M724.7 440.2h0M872.3 359.7h0M862.7 323.7h0M724.4 436.4h0M776.3 388.6h0M668 492.7h0M951.3 320.6h0M760 388.5h0M798.1 386.2h0M687.6 477.6h0M787.9 431.3h0M780.2 386.2h0M757.2 396.5h0M646.7 485.7h0M876.8 366.4h0M839.5 315h0M895.6 339.5h0M946.8 335.6h0M769.3 369.8h0M836.3 395.3h0M754.4 437.3h0M920.9 334.7h0M869.4 396h0M687 442.2h0M790.7 450.1h0M783.4 347h0M744.9 432.1h0M757.7 400.1h0M896.4 341.8h0M867.4 369.5h0M855 391.7h0M835.4 399h0M800.2 364.4h0M790 414.9h0M730.3 457.5h0M867.5 372.3h0M892.3 346.3h0M887.4 341.7h0M749.4 501.9h0M902.1 348.3h0M933.9 328.7h0M700.2 465.5h0M750.1 410.9h0M936.5 346.7h0M910.3 314.5h0M661.1 481h0M804.6 403.5h0M724.8 421.3h0M720.5 426.8h0M721.8 508.8h0M886 353.3h0M906.2 376.4h0M750.3 485.2h0M804.8 399.4h0M680.3 456.7h0M717.3 423.9h0M759.4 446.6h0M938.4 310.7h0M885.5 391.8h0M795 376.2h0M844.8 313.3h0M741.8 433.4h0M733.6 412.2h0M790.9 416.9h0M765.7 403.8h0M739.2 481.4h0M677.4 475.2h0M840.9 325.7h0M717.4 486.6h0M698.2 430.7h0M887.2 403.6h0M713.5 465.7h0M923.4 309h0M793.6 440.7h0M823 355.7h0M902.1 341.4h0M758.1 433h0M870.1 368.7h0M792.6 445.7h0M813.9 403.6h0M759.5 485.6h0M770.9 429.4h0M776.3 359.3h0M826.3 310.6h0M861.4 312.2h0M795.1 383.7h0M788 397.5h0M933.6 355.2h0M719.3 485.6h0M856.3 371.2h0M801.8 383.2h0M922.7 371.6h0M861 335.7h0M806.7 357.8h0M842.6 343.6h0M949.1 355.3h0M641 508.3h0M787.2 440.7h0M866.8 329.2h0M885.2 313.5h0M815.1 422.9h0M898.2 399.5h0M705.1 445.1h0M968 336.8h0M911.6 348.8h0M754.3 379.3h0M808.2 367.7h0M753 402.2h0M841.1 419.4h0M746.6 443.3h0M717.7 446h0M880.1 387.4h0M921.6 323.6h0M927.3 370.2h0M698.2 441.6h0M665.8 464.7h0M843.7 389.2h0M729.9 492.3h0M885.8 383.4h0M888.3 313.3h0M657.3 501.4h0M762.2 492.2h0M741.6 406.2h0M782.8 452.8h0M893.3 363.2h0M679.7 507.5h0"/>
<line class="d" x1="215.5" y1="836.6" x2="1100" y2="89.5"/>
<text transform="translate(215.5 905.8) scale(1 1.04)" text-anchor="middle">300</text>
<text transform="translate(188.2 853.5) scale(1 1.04)" text-anchor="end">300</text>
<text transform="translate(362.9 905.8) scale(1 1.04)" text-anchor="middle">302</text>
<text transform="translate(188.2 729) scale(1 1.04)" text-anchor="end">302</text>
<text transform="translate(510.3 905.8) scale(1 1.04)" text-anchor="middle">304</text>
<text transform="translate(188.2 604.5) scale(1 1.04)" text-anchor="end">304</text>
<text transform="translate(657.8 905.8) scale(1 1.04)" text-anchor="middle">306</text>
<text transform="translate(188.2 479.9) scale(1 1.04)" text-anchor="end">306</text>
<text transform="translate(805.2 905.8) scale(1 1.04)" text-anchor="middle">308</text>
<text transform="translate(188.2 355.4) scale(1 1.04)" text-anchor="end">308</text>
<text transform="translate(952.6 905.8) scale(1 1.04)" text-anchor="middle">310</text>
<text transform="translate(188.2 230.9) scale(1 1.04)" text-anchor="end">310</text>
<text transform="translate(1100 905.8) scale(1 1.04)" text-anchor="middle">312</text>
<text transform="translate(188.2 106.4) scale(1 1.04)" text-anchor="end">312</text>
<text transform="translate(658 975.2) scale(1 1.04)" text-anchor="middle" class="ax">L8 LST (K)</text>
<text transform="translate(75 461.1) rotate(-90) scale(1 1.04)" text-anchor="middle" class="ax">ESTARFM LST (K)</text>
<text transform="translate(229.7 150.1) scale(1 1.04)">RMSE = 1.72 K</text>
<text transform="translate(243.2 219.7) scale(1 1.04)">MAE = 1.52 K</text>
<text transform="translate(291.4 294.5) scale(1 1.04)">R<tspan class="sup" dy="-21.8">2</tspan><tspan dy="21.8"> = 0.70</tspan></text>
<text transform="translate(323.5 801.6) scale(1 1.02)" class="sm">1:1 line</text>
<text transform="translate(733.6 798.8) scale(1 1.04)">(a) 20210502</text>
</g>
<g id="panel-b">
<rect class="fr" x="1351.6" y="89.5" width="885.8" height="747.4"/>
<path class="tk" d="M1351.6 836.9v15.3M1351.6 836.9h-16.3M1478.1 836.9v15.3M1351.6 730.1h-16.3M1604.7 836.9v15.3M1351.6 623.4h-16.3M1731.2 836.9v15.3M1351.6 516.6h-16.3M1857.8 836.9v15.3M1351.6 409.8h-16.3M1984.3 836.9v15.3M1351.6 303h-16.3M2110.9 836.9v15.3M1351.6 196.3h-16.3M2237.4 836.9v15.3M1351.6 89.5h-16.3"/>
<clipPath id="clip-b"><rect x="1351.6" y="89.5" width="885.8" height="747.4"/></clipPath>
<path class="p" clip-path="url(#clip-b)" d="M1522 658.1h0M1536.5 638.7h0M1558.3 605.4h0M1582.8 602.2h0M1629.8 561.4h0M1641 551.7h0M1650 507h0M1647.2 506.5h0M1648.6 507.8h0M1672.8 483.1h0M1682.5 466.1h0M1683.9 461h0M1711.5 425.1h0M1706.4 422.6h0M1710.2 419.7h0M1712.6 415.3h0M1715.7 419.5h0M1748.7 411.7h0M1750.6 409.2h0M1766.5 404.8h0M1788.4 389.7h0M1791.5 386.2h0M1808.1 369.4h0M1814.5 361.3h0M1822.7 352.7h0M1844.5 330.6h0M1847.6 329.3h0M1868.6 319.4h0M1896.8 305.6h0M1917.3 290.6h0M1934.9 280.8h0M1950.4 271.1h0M1953.1 267.9h0M1954.3 269.8h0M1994.7 270.6h0M2003.9 277.1h0M2008 278.4h0M2005.1 287.7h0M1962.5 336.4h0M1944.1 373.4h0M1937.8 379.6h0M1925.3 392.1h0M1932.9 450.5h0M1932 449.4h0M1912.6 470.1h0M1910.6 470.9h0M1881.3 489.6h0M1877.1 491.4h0M1857.2 510.6h0M1854.8 514.4h0M1849.3 519.8h0M1837.7 530.3h0M1804.4 542.1h0M1789 570.5h0M1791 569.1h0M1786.9 568.2h0M1766.6 593.2h0M1763.8 597h0M1752.2 620.7h0M1749.5 625.6h0M1746.1 628.8h0M1742.1 649h0M1737.1 652.3h0M1721.6 667.3h0M1711.7 687.3h0M1707.6 689.6h0M1688.1 703.3h0M1674.5 711.8h0M1668 714.8h0M1631.2 715.3h0M1599.9 732.6h0M1587.5 752.2h0M1584.9 754.1h0M1557.8 760.9h0M1553.7 764.7h0M1527.1 774.2h0M1525.9 766.4h0M1522.5 749h0M1518.8 712h0M1945.8 288.1h0M1957.8 290.7h0M1979.7 289.7h0M1988.1 288.3h0M1934.4 293.7h0M1942.3 296h0M1950.4 294.7h0M1957.1 297.3h0M1968.2 297.2h0M1974.9 297.4h0M1923.7 301.5h0M1932 303.6h0M1941.8 301.1h0M1947 304.2h0M1953.6 300h0M1962.2 299.8h0M1920.6 311.6h0M1925.5 311h0M1934.2 310.3h0M1945.5 309.9h0M1953.1 308.5h0M1956.3 309.3h0M1967.8 307.3h0M1901.8 314.5h0M1908.5 318.2h0M1915.1 313.7h0M1921.4 314.1h0M1928.8 314h0M1940 313.8h0M1948.8 317.5h0M1957.2 317.9h0M1893.9 322.9h0M1902 324.1h0M1909 321.1h0M1919 320.5h0M1926.6 325.4h0M1937.6 321.2h0M1940.4 325h0M1954.1 323.6h0M1957.1 321.5h0M1875.3 332.2h0M1880.5 330.5h0M1889 331.3h0M1900 330.7h0M1905.6 332.7h0M1913 327.4h0M1924.4 327.5h0M1928.7 329.7h0M1940.2 332.3h0M1948.6 327.4h0M1866.1 336.5h0M1869.5 337h0M1881.8 336.2h0M1888.1 339.4h0M1894.2 338.8h0M1903.5 334.7h0M1908.6 339.5h0M1919.1 336.6h0M1929.8 337.4h0M1935.3 335.6h0M1944.8 335.4h0M1951.1 338.5h0M1856.9 343.6h0M1866.9 345.7h0M1875.1 344h0M1880.4 345.6h0M1892.9 344.6h0M1901.3 344.5h0M1908.6 345.9h0M1916 341h0M1925.6 346.8h0M1929.5 341.2h0M1938.3 341.4h0M1946.5 341.4h0M1855.1 350.4h0M1861.2 349.4h0M1871 348.2h0M1880.3 349.2h0M1886 348.3h0M1894.1 353.4h0M1902 348.3h0M1910.4 353.4h0M1916.8 349.8h0M1925.5 351.9h0M1935.1 348.4h0M1945.5 349.7h0M1849.6 360.6h0M1861 356h0M1867 354.9h0M1873 355.8h0M1886.2 356.6h0M1889.8 355.1h0M1896.9 360.7h0M1908.7 360.2h0M1917.3 359.4h0M1921.8 355.7h0M1929.9 355.1h0M1937.3 359h0M1824.5 365.4h0M1838 367h0M1846.9 363.2h0M1855.2 364.5h0M1861.2 365.6h0M1872.6 364.5h0M1879.5 366.2h0M1890 365.3h0M1892.6 364.7h0M1904.3 363.6h0M1912.4 363.8h0M1920 365.3h0M1928.3 367.2h0M1936.5 365.9h0M1818.2 374.2h0M1824.5 373.9h0M1834.8 368.6h0M1841.8 374.5h0M1852.6 373h0M1861.2 368.6h0M1866.1 371.3h0M1877.7 374h0M1881.2 374.5h0M1891.6 370.4h0M1896.8 371.1h0M1907.4 371.3h0M1914.2 374.2h0M1923.1 370.4h0M1933 370h0M1820.5 381.2h0M1834 377.6h0M1838.8 377.1h0M1849 378.4h0M1853.3 380.8h0M1865.9 375.8h0M1871 376.8h0M1880.1 377.6h0M1886.1 377.3h0M1895.9 378.5h0M1903.2 379.6h0M1911.1 381.2h0M1918.9 380.2h0M1811.6 386h0M1821.7 386h0M1827.3 386.3h0M1836.1 384.9h0M1841.9 386.5h0M1850.6 382.6h0M1857.3 384.6h0M1868.4 386.3h0M1875.2 387.3h0M1882.2 384.5h0M1892.8 386.5h0M1898.8 387.7h0M1904.4 385.6h0M1917.4 387.7h0M1805.9 391.4h0M1812.9 391.2h0M1826.2 391.5h0M1833.3 395.2h0M1840.5 390.4h0M1846.9 390.3h0M1853.8 391.3h0M1861.3 393.4h0M1871.4 391.1h0M1877.8 390.2h0M1885 392h0M1892.7 392.5h0M1901.8 394h0M1909.9 394.5h0M1803.6 399.6h0M1809.3 399.5h0M1819.3 397.4h0M1826.9 401.3h0M1836.1 398.2h0M1841.7 400h0M1851.6 398h0M1859.1 398.7h0M1868.1 401.5h0M1874.5 399.5h0M1883.7 400.3h0M1889.7 397.7h0M1901.8 397.1h0M1808 405.4h0M1816.3 405.4h0M1825 405.5h0M1833.2 405h0M1837.3 405.2h0M1845 408.4h0M1858.3 405.7h0M1861.7 408.5h0M1873.4 404.7h0M1878.1 406.2h0M1885.1 404.5h0M1894.7 403.9h0M1797.7 415.4h0M1805 414.5h0M1812.6 411.3h0M1819.2 411.7h0M1825.5 415.8h0M1833.7 415h0M1845.3 412.5h0M1848.4 411.2h0M1860.2 414.4h0M1866.4 413.7h0M1873.3 414.1h0M1885 414.8h0M1891.7 413.6h0M1896.3 411.7h0M1762.1 420.1h0M1766.5 419.8h0M1789.9 421.1h0M1798.8 421.3h0M1806.4 420.9h0M1813.5 420h0M1823.2 417.1h0M1829 419.8h0M1840.9 421.9h0M1849.4 421.9h0M1858.1 418.2h0M1861.2 417.9h0M1873 418.2h0M1878.2 417.9h0M1889.7 418.3h0M1893.7 420.6h0M1756.7 426.4h0M1765.2 429h0M1768.4 425.8h0M1777.9 425.6h0M1784.5 425.5h0M1794.3 426.7h0M1803.5 429.9h0M1808.9 424.8h0M1821.7 425.7h0M1827.5 425.8h0M1837.7 429.6h0M1843.7 424.5h0M1850.5 428.2h0M1859.7 425.7h0M1866.7 424.3h0M1874.7 428.9h0M1882.6 426.8h0M1889.3 428.2h0M1748.6 435h0M1761.3 436.4h0M1769.3 434.8h0M1777.1 432.6h0M1783.7 431.9h0M1793.9 434h0M1797.3 436.8h0M1808 432.2h0M1817.4 434.7h0M1824 436.2h0M1830.2 432.6h0M1839.7 432.1h0M1848.5 433.8h0M1853.5 431.6h0M1861.3 434.4h0M1873.8 435.7h0M1881.4 434.3h0M1889.1 432.9h0M1894.5 436.3h0M1733.8 440.6h0M1740.8 438.5h0M1747.9 442.7h0M1754 438.4h0M1762.6 442.4h0M1772.9 438.2h0M1778.2 443.3h0M1786 438.3h0M1797.5 442.7h0M1803 442h0M1812.8 442.8h0M1817.4 442.2h0M1829.8 442.6h0M1835.4 440.2h0M1846.2 443.8h0M1853.1 440.9h0M1861.6 443.1h0M1867.3 438.6h0M1876 438.6h0M1882.3 441.2h0M1891.3 441.7h0M1901.2 443.5h0M1728.7 445h0M1736.6 450.6h0M1742.7 448.2h0M1750.3 450h0M1757.6 445.4h0M1767.3 447.4h0M1775.7 446h0M1785.9 448h0M1790.6 449.2h0M1796.5 450.3h0M1809.3 446.3h0M1815 445h0M1825 450.6h0M1831.9 450.6h0M1839.1 450h0M1849.3 450.3h0M1855 447.8h0M1860.5 450.5h0M1868.8 448.2h0M1879.9 445.8h0M1886.4 446.6h0M1892.3 447.2h0M1725 456.4h0M1730.6 455.3h0M1738.9 454.9h0M1745.9 453.7h0M1758 457h0M1761 452.4h0M1773.5 454.3h0M1780.1 455.3h0M1787.9 457.1h0M1793.2 456.8h0M1801.8 452.1h0M1810.1 454.8h0M1821.1 455.2h0M1830.1 452.8h0M1834.6 455.1h0M1843.8 455.9h0M1851.3 452.3h0M1861 456.4h0M1864.7 456.6h0M1872.3 455.8h0M1884 453.5h0M1888.8 453.2h0M1720.7 462h0M1725.6 459.4h0M1737.5 459.9h0M1743.3 463.6h0M1751.2 461.5h0M1757.3 464.2h0M1767.9 462.6h0M1774.6 462.9h0M1782.6 459.7h0M1790.4 463.2h0M1801.5 461.7h0M1808.2 464.2h0M1816.2 464.5h0M1821.8 463.8h0M1832.8 462h0M1839.8 459.6h0M1844.4 458.8h0M1857.6 461h0M1863.9 461.3h0M1873.6 463h0M1878.5 462.4h0M1885.6 464.3h0M1713.5 466h0M1722.3 468.3h0M1733.6 470.9h0M1741.2 467.1h0M1749.2 467.2h0M1755.8 468.7h0M1761.7 468.8h0M1769.9 470.3h0M1777.7 470.2h0M1785.4 465.6h0M1794.9 470.8h0M1804.1 467.1h0M1811.3 467.5h0M1820.3 467.3h0M1825.3 471.5h0M1832.5 466.4h0M1842.2 467.5h0M1851.6 468.5h0M1857.2 470.5h0M1868.5 466.6h0M1873.3 466.2h0M1883.4 469.4h0M1689.2 475.7h0M1697.4 478.4h0M1702.9 473.5h0M1713.7 473.1h0M1719.4 477.5h0M1725 474.1h0M1736.2 473.1h0M1745.5 477h0M1751.6 477.1h0M1757.1 477.6h0M1767.5 474.8h0M1777.2 475.2h0M1780.5 476.7h0M1788.5 475.8h0M1797.6 474.9h0M1806.8 476.7h0M1816.1 474.6h0M1821.7 477.1h0M1828.7 476h0M1840.7 476.2h0M1844.4 473h0M1856.1 477.2h0M1864.1 478.4h0M1872.5 475h0M1694.3 482.7h0M1701.7 482.7h0M1707.9 485h0M1714.9 481.3h0M1726.1 485.4h0M1729.1 484.5h0M1740.9 480.7h0M1745.7 479.7h0M1757.3 479.9h0M1765.3 484.2h0M1774.2 480.1h0M1781.1 479.9h0M1785 484.5h0M1793.1 483.8h0M1806.2 482.3h0M1810.8 484.8h0M1820.1 485.3h0M1828.4 482.1h0M1832.6 484.8h0M1844.8 480.2h0M1852.4 481h0M1858.9 480.3h0M1689.8 487.6h0M1694.4 489.9h0M1703.3 486.9h0M1709.9 490.9h0M1717.1 489.2h0M1724.9 486.8h0M1738.2 489h0M1743.1 486.8h0M1749.3 489.4h0M1761.9 492h0M1766.7 489.4h0M1773.6 491.3h0M1781.1 488.2h0M1789.4 490.8h0M1801.5 489h0M1806.3 491.8h0M1812.9 490.9h0M1822.2 491.8h0M1829.8 491.6h0M1841.4 488.2h0M1685.4 495.2h0M1693.4 499h0M1701.4 495.9h0M1705.8 496.3h0M1714.7 497.3h0M1720.8 495h0M1728.8 494h0M1738.2 496.5h0M1749 495.5h0M1757.6 496.2h0M1766 495.3h0M1770.2 494.2h0M1781 496.8h0M1790 496.2h0M1796.9 494.2h0M1805.9 493.7h0M1809.4 499.2h0M1816.7 499h0M1830.3 493.6h0M1834.8 498h0M1687.1 505.6h0M1697.8 503.9h0M1705.1 501.3h0M1712.7 504.4h0M1720.8 502.9h0M1725.7 502.5h0M1733.3 504.1h0M1744.4 503.9h0M1753 501.9h0M1759.9 505h0M1768.1 501.2h0M1774 502h0M1782.2 504.3h0M1790.6 501.4h0M1802 503.7h0M1809.7 502.8h0M1813 500.6h0M1825.8 500.3h0M1828.7 503.8h0M1838.7 500.4h0M1676.8 509.5h0M1683.6 511.5h0M1690.7 510.3h0M1696.6 509h0M1704.7 510.1h0M1715.2 508.4h0M1722.5 507.2h0M1734 512.3h0M1738.2 513.1h0M1748.7 510.2h0M1754.1 511.3h0M1765.3 511.8h0M1771 512.3h0M1777.6 511.9h0M1790.2 507.4h0M1793.3 511.2h0M1804.3 507.9h0M1808.4 512.7h0M1822.2 512.6h0M1824.7 511.6h0M1835 509.3h0M1842.1 511.4h0M1681.2 519.4h0M1686.7 518.5h0M1697.2 519.9h0M1701.6 518.2h0M1713.7 518.5h0M1716.5 519h0M1728.9 517.6h0M1732.5 514.5h0M1740.3 517.4h0M1751.9 514.6h0M1761.3 516.5h0M1765.1 517.6h0M1773.9 515.3h0M1781.6 518.8h0M1788.9 515.5h0M1797.1 518h0M1808.4 516.6h0M1813.2 514.2h0M1825.9 517.6h0M1828.7 517.9h0M1681.6 524.5h0M1693 521.8h0M1697.1 522.7h0M1705.8 523.1h0M1716.8 523.1h0M1724.8 524.9h0M1733.8 524.5h0M1742.1 523.2h0M1747.6 522.2h0M1753.5 523.1h0M1765.4 526.4h0M1771 523.1h0M1778.3 524.4h0M1787 526.9h0M1796.4 523.1h0M1803.7 523.8h0M1814 522.1h0M1679.4 531.7h0M1688.6 532h0M1696.8 528.4h0M1701.1 532.2h0M1711 532.1h0M1720.7 532.5h0M1728.6 530.4h0M1737.7 531.9h0M1743.2 532.8h0M1750.3 530h0M1759.9 533.8h0M1765.4 529.6h0M1772.9 531.8h0M1783.2 530.8h0M1790.4 530.1h0M1799.8 528.8h0M1682 537.2h0M1688.6 537h0M1699.9 539.3h0M1707 540.4h0M1716.3 539.3h0M1725.3 537h0M1732.9 537.7h0M1738 538.8h0M1748.5 535.1h0M1756.6 540.5h0M1760.5 540.5h0M1770.8 540.4h0M1778.6 537.5h0M1788.2 536.6h0M1681.8 542h0M1685.5 545.7h0M1696.5 543.1h0M1702.3 547.7h0M1713.9 543.9h0M1720.5 547.6h0M1728.2 544.3h0M1737.9 545.2h0M1744.3 547.2h0M1748.6 542.4h0M1756.7 543.4h0M1770.1 546h0M1774.5 545.4h0M1669.5 552.9h0M1676.4 549.5h0M1680.4 549.1h0M1691 550.4h0M1702.2 549.3h0M1708 550.5h0M1713.4 553.6h0M1725.2 551.5h0M1731.2 549.4h0M1739.9 553.2h0M1749.6 553.6h0M1757.1 549.8h0M1765.8 549.2h0M1769.7 551.9h0M1647.2 560.8h0M1653.4 557.1h0M1660.5 560.6h0M1670.1 559.3h0M1679.2 558.9h0M1685.9 556.3h0M1697.1 558.3h0M1702.4 558.8h0M1708.6 560.1h0M1718.3 557.6h0M1725.9 555.9h0M1736.7 559.6h0M1745.1 558.4h0M1753.5 558h0M1759.5 560.5h0M1766.1 558.4h0M1641.6 565.2h0M1651.9 568.4h0M1661.5 564.6h0M1670 566.1h0M1677.2 564.4h0M1684.1 566.9h0M1694.2 567.6h0M1699.9 563h0M1708.6 563.3h0M1717.9 568.2h0M1725.5 563.2h0M1731.9 566.3h0M1741 567.7h0M1745.1 563.7h0M1752.3 568.4h0M1763.2 566.1h0M1636.6 573.3h0M1648.1 570.1h0M1653.2 571.5h0M1662.1 572.4h0M1671.8 571.4h0M1676.4 569.8h0M1689.4 570.6h0M1697.9 572h0M1701.3 572.9h0M1708.7 570.9h0M1719.8 571.7h0M1724.8 573.4h0M1733.8 575.2h0M1741.4 570.5h0M1750 574.3h0M1761.5 574.3h0M1628.9 580.8h0M1632.7 580h0M1644.9 581.1h0M1651.8 580.9h0M1661.1 581.3h0M1665.7 582.3h0M1677.6 576.9h0M1682.1 576.9h0M1691.4 577.3h0M1698.9 578.5h0M1707.8 578.3h0M1713 576.4h0M1725.7 578.7h0M1732.1 576.8h0M1736.7 579.6h0M1748.1 582h0M1753.9 581.6h0M1629.8 589.2h0M1641.4 584.3h0M1649.4 583.4h0M1653.4 585.6h0M1661.4 588.2h0M1673 588h0M1679.9 587.2h0M1689.8 588.1h0M1696.3 589.3h0M1700.3 585.9h0M1711.4 587.8h0M1717.1 586h0M1727.5 587h0M1737 586.1h0M1746.1 584.4h0M1618.8 595.8h0M1628.8 591h0M1635.6 594.1h0M1641.8 593.7h0M1648.6 594.6h0M1659.8 595.8h0M1669.7 592h0M1672.6 594.2h0M1684.4 594.7h0M1690.2 592.7h0M1701.1 593.9h0M1705.9 590.9h0M1716.6 592h0M1725.9 595.3h0M1730.9 591.5h0M1736.4 593.5h0M1608.6 598h0M1614.5 602.1h0M1624 603h0M1632 598.2h0M1639.4 601.5h0M1650.3 599h0M1653.2 602.2h0M1664.6 597.9h0M1671.1 602.9h0M1678.9 600.4h0M1684.9 603.1h0M1694.5 600.4h0M1702.1 602.8h0M1710.8 601.1h0M1721.1 602.1h0M1727.3 602.2h0M1736.5 599.2h0M1594.4 606.4h0M1601.2 608.3h0M1610.1 606h0M1616.4 605.6h0M1625.3 604.8h0M1633.6 609.1h0M1643.3 609.6h0M1651.6 607h0M1659.7 608.3h0M1665.6 605.7h0M1676.1 608h0M1683.3 606.7h0M1693.3 604.9h0M1696.9 608.1h0M1709 606.1h0M1718.1 605.9h0M1721.8 608h0M1731.7 604.3h0M1736.8 604.8h0M1589.8 611.2h0M1598.1 611.5h0M1606.7 615.2h0M1615.3 613.9h0M1626.2 613.9h0M1634 615.2h0M1638.8 616.2h0M1645.5 612.2h0M1657.7 613.2h0M1663.1 615h0M1673.8 614.3h0M1682 615.3h0M1688.1 614.7h0M1693.8 616.3h0M1701.6 616.5h0M1712.7 613.1h0M1717.2 615.8h0M1728.3 616.1h0M1733.4 612h0M1568.6 623.9h0M1585.8 622.1h0M1596.8 618.6h0M1602.1 621h0M1613.8 619.3h0M1617.2 620h0M1625.3 623.6h0M1637.8 618.1h0M1644.3 620.1h0M1649 623h0M1658 618h0M1665.8 622.8h0M1673.3 623.9h0M1683.7 622.9h0M1693.1 622.5h0M1700.4 618.8h0M1724.9 619.6h0M1734.1 621.9h0M1736.7 621.3h0M1567.1 630.1h0M1572.3 630.4h0M1584.6 630.5h0M1589.3 625.7h0M1599.2 626.1h0M1608.3 628.8h0M1618 626.4h0M1623.6 630.7h0M1632.3 626.4h0M1641.5 627.6h0M1648.5 626.8h0M1656.6 630.8h0M1665.4 628.3h0M1670.3 625.8h0M1679.7 626.4h0M1689.5 626.2h0M1566.2 632.9h0M1574.2 634.3h0M1579.7 636.8h0M1584.9 637.2h0M1595 632.4h0M1602.1 636.6h0M1610.5 637h0M1621.5 637h0M1628 636.3h0M1636.9 637.1h0M1646 632.1h0M1654.1 637.7h0M1658.7 635.7h0M1669.4 636.6h0M1672.9 636.8h0M1681.8 636.1h0M1548.5 644.5h0M1567.3 642.6h0M1577.4 641.8h0M1585.7 640.2h0M1588.5 640.5h0M1597.6 642.1h0M1609.8 643.7h0M1615.7 639.2h0M1623.9 643h0M1632.6 639h0M1637.6 642.1h0M1647.8 644.4h0M1657.8 643.2h0M1663 643.2h0M1671.1 639.8h0M1680 642.2h0M1547.2 650.8h0M1557 645.7h0M1561.1 647.4h0M1570.3 647.2h0M1581.5 650.9h0M1585.2 646.6h0M1593.7 647h0M1600.9 646h0M1613.7 648h0M1620.1 651h0M1630 650.1h0M1635.1 648.6h0M1641.4 647.7h0M1654.1 646h0M1662.1 646.9h0M1668.8 647.9h0M1677.9 648h0M1545.1 655.6h0M1549.2 655.2h0M1560.2 657.9h0M1567.7 656.1h0M1575.8 657.2h0M1583.1 652.9h0M1588.7 654.3h0M1600.5 656.2h0M1609.9 658.3h0M1614.1 657.6h0M1624.3 657.5h0M1632.8 655.7h0M1641.3 657.8h0M1645.2 658.2h0M1656.4 653.2h0M1660.3 654.7h0M1672.9 655h0M1540.6 662.8h0M1549 664.3h0M1552.5 660.4h0M1560.7 662h0M1569.1 663.8h0M1578.8 664.1h0M1588.4 661.4h0M1597.7 662.3h0M1600.4 661.9h0M1608.8 661.1h0M1620.7 659.6h0M1629.6 664.9h0M1635.2 663.6h0M1644.4 662.5h0M1649.2 664.7h0M1660.6 661.5h0M1670.2 663.9h0M1672.7 660.5h0M1685.5 663.9h0M1532.7 672.4h0M1540.4 671.6h0M1551.4 671.2h0M1561.4 670h0M1569.1 669.8h0M1575.1 671.1h0M1582.6 669h0M1590.4 669.8h0M1601.2 670.2h0M1604.5 666.8h0M1615.5 669.7h0M1621 667.1h0M1628.7 668.2h0M1637.7 670.7h0M1647.9 667.1h0M1654.2 669.4h0M1664.2 669h0M1670.5 666.6h0M1676.8 670.7h0M1689.3 670.9h0M1695.5 671.1h0M1532.1 679.3h0M1542 678.9h0M1550 675h0M1552.7 677.4h0M1560.4 676.4h0M1573.2 675h0M1577.6 674.8h0M1587.6 677h0M1593.9 678.2h0M1603.3 676h0M1608.4 676.1h0M1618.4 674.4h0M1629.5 678.5h0M1633.8 674.6h0M1644.9 676.4h0M1653.8 679h0M1660.2 675.4h0M1667.4 676.9h0M1677.4 675.1h0M1682.8 675.5h0M1693 675.2h0M1530 681h0M1533.2 684.5h0M1540.4 684.3h0M1550.9 684.1h0M1561.1 682.4h0M1568.9 683.3h0M1577.5 681.3h0M1583.4 686.1h0M1591.9 683.4h0M1597.5 682.2h0M1605.2 682.8h0M1615.5 681.4h0M1620.4 683.9h0M1631.6 682.7h0M1636.9 680.9h0M1645.9 685.5h0M1652.9 680.9h0M1660.7 680.6h0M1671.6 683.6h0M1681.2 685.3h0M1685.8 683h0M1697 683h0M1539.6 689.7h0M1547.3 687.8h0M1554 691.1h0M1563.8 689.1h0M1572.7 687.4h0M1576.4 689.2h0M1584.3 690.6h0M1598 691.7h0M1600.6 690.4h0M1613.2 691.8h0M1621.3 688.4h0M1627.9 690.5h0M1633 692.2h0M1641 690.1h0M1650.7 689h0M1656.9 690.2h0M1664.5 693.1h0M1673.4 688.3h0M1683.4 690.4h0M1533.4 695.2h0M1545.4 695h0M1549.4 698.8h0M1557.6 698.4h0M1569.8 697.4h0M1575.2 695.5h0M1585.9 698.8h0M1590.3 697.4h0M1601.5 696.8h0M1606.3 697.3h0M1617.2 698.6h0M1621.1 697.1h0M1633.4 698.2h0M1662.4 697.1h0M1668.3 699.1h0M1676.8 697.2h0M1531.9 702.8h0M1537.3 704.4h0M1549.2 702.3h0M1555.7 704.3h0M1564 702.9h0M1572.6 702.2h0M1581.4 706.1h0M1586.5 702.6h0M1595.1 705.1h0M1604.4 704.9h0M1612.8 704.2h0M1618.9 701.1h0M1625.5 704.4h0M1666.6 701.8h0M1538.2 713.8h0M1545.3 711.7h0M1553.7 714h0M1557.7 708.4h0M1568.3 710.5h0M1576 710.1h0M1583.1 711h0M1588.4 713.2h0M1597 709.3h0M1608.9 708.8h0M1533.5 717.5h0M1541.9 716.5h0M1546.5 718.2h0M1556.4 720.1h0M1564.9 715.9h0M1570.5 719.5h0M1582 717.2h0M1588.6 716.3h0M1538.2 726.4h0M1541.7 724.6h0M1549.7 723.8h0M1559.6 724.6h0M1568.9 725.6h0M1577.3 725.2h0M1581.4 723.1h0M1588.7 722.3h0M1537.4 734.3h0M1544.9 732.5h0M1554 729.1h0M1560.3 733.7h0M1573.1 729.3h0M1579 729.4h0M1585.1 734.6h0M1530.2 738.5h0M1534.1 735.8h0M1542.4 739.6h0M1549 736.4h0M1560.5 737.2h0M1567.8 736h0M1574.7 737.2h0M1584.6 736.2h0M1537.6 743.9h0M1549 742.9h0M1554.9 745.9h0M1535.6 752.4h0M1553.8 751.1h0M1533.2 653.3h0M1845.1 488.1h0M1859.2 331.1h0M1734.1 653.6h0M1961.8 310.5h0M1796.8 537h0M1835.3 366.2h0M1828.7 359.2h0M1830.7 523.7h0M1770.2 569h0M1525.1 704.2h0M1909.9 446.9h0M1688.6 649h0M1611 595.3h0M1707.4 470.4h0M1732.3 431.7h0M1706.7 625.4h0M1764.9 578.4h0M1665.3 702.1h0M1744.7 626.9h0M1685.6 643.7h0M1741.5 594.4h0M1765.2 561.8h0M1923.6 390.2h0M1950.2 275.9h0M1717.8 453.8h0M1850.4 335h0M1727.2 632.3h0M1968.7 315.5h0M1680.1 489h0M1947.9 336.1h0M2000.3 275.8h0M1891 468.1h0M1575.4 619.8h0M1668.8 540.7h0M1860.3 475.4h0M1734.5 631h0M1894.2 417.3h0M1842 516.5h0M1729.5 450.7h0M1592.1 608.9h0M1606.2 590.2h0M1658.3 547.6h0M1849.7 490.2h0M1535 737.4h0M1577.1 619h0M1771.8 425.2h0M1686.6 488.8h0M1891 422.5h0M1562.3 751.5h0M1843.6 362.9h0M1978.3 287.8h0M1720.1 656h0M1641.3 698.7h0M1532.9 666.4h0M1899.6 452.1h0M1935.2 365.9h0M1633.1 563.6h0M1720.2 433.9h0M1785.4 423.1h0M1680.6 473.3h0M1566.7 632.1h0M1593.5 725.7h0M1791.9 407h0M1860.8 328.5h0M1802.7 383.6h0M1909.8 396h0M1719.9 658.4h0M1742.5 593.1h0M1845.6 496.3h0M1841 484.3h0M1749.9 432.3h0M1840.6 513.8h0M1574.5 750.4h0M1735 609.3h0M1682 481.4h0M1619.7 711h0M1566.6 612.3h0M1594.8 734.9h0M1590.3 613.5h0M1736.7 600.1h0M1777.5 419.3h0M1880.5 333.7h0M1849.1 518.8h0M1851.1 337.5h0M1534.4 672.5h0M1926.4 375.6h0M1588.3 731.3h0M1685.1 665.8h0M1828.3 358.9h0M1680.4 520.8h0M1530 668.1h0M1851.7 490.8h0M1741 597.8h0M1699.3 677.5h0M1543.7 752h0M1568.4 739.2h0M1557.9 636.4h0M1848.4 493.5h0M1793.1 414.6h0M1822 517.8h0M1734.8 616.1h0M1527.4 671.7h0M1722 646.7h0M1861.2 484.5h0M1735.7 628.6h0M1946.6 337.1h0M1807.4 374h0M1582.1 740.7h0M1727.8 657.2h0M1578.7 737.7h0M2000.8 288.1h0M1600.3 721.8h0M1774.6 569.1h0M1846.7 362.1h0M1839.8 491.9h0M1852.5 478.2h0M1621.9 592.1h0M1604.5 594.7h0M1825.2 368.4h0M1680.8 520.2h0M1677.2 548h0M1717.6 619.8h0M1840.9 486.5h0M1805.4 540h0M1933.4 284.6h0M1814.1 521.5h0M1960.4 315.2h0M1938.9 370.2h0M1565 744.3h0M1824.4 517.1h0M1856.1 479.5h0M1801.6 413.7h0M1532.7 707.1h0M1617.5 591.6h0M1843 498.7h0M1808.9 382.5h0M1716.9 422.7h0M1898.5 434.8h0M1838.5 515h0M1911.7 387.7h0M1540.8 748.8h0M1627.9 585.7h0M1987.5 284.1h0M1539.9 754.6h0M1793.3 420.9h0M1906.6 445.3h0M1748.2 590.9h0M1940.7 294h0M1533.6 730.2h0M1727.2 444.6h0M1942 356.7h0M1655.2 694.9h0M1873.5 333.4h0M1953.8 346h0M1745.8 431.3h0M1814.7 370.9h0M1929.4 298.8h0M1524.9 713.4h0M1635 579.2h0M1603.2 711.4h0M1704.7 679.8h0M1797.1 543.2h0M1581.4 744.4h0M1790.2 392.2h0M1988.3 286.9h0M1538.7 763.2h0M1730.9 641.9h0M1812.4 387.4h0M1597.2 723.5h0M1723.1 660.2h0M1908.2 393.6h0M1812.4 526.6h0M1975.6 291.1h0M1684.8 668.3h0M1523.8 727.1h0M1651.8 696.8h0M1667.3 554.8h0M1668.9 510.4h0M1707.9 464.1h0M1786.1 425.3h0M1531.5 656.7h0M1902.9 447.4h0M1700.2 676.4h0M1682 700.4h0M1524.6 756.2h0M1987.6 287.3h0M1929.7 374.1h0M1702.3 687.4h0M1664.6 698.1h0M1794.5 538.7h0M1718.6 659.5h0M1784.1 425.3h0M1917.8 297.1h0M1892.6 326.3h0M1760.1 577.8h0M1535.8 742.1h0M1940.3 373.8h0M1970.9 309.1h0M1686.2 499h0M2002.1 288.4h0M1659.7 550.1h0M1730 451.7h0M1893.7 461.6h0M1755.7 590.6h0M1696.7 672.9h0M1734.4 646.7h0M2001.8 284.8h0M1854.9 345.8h0M1688.8 628.8h0M1617.4 706.4h0M1684 468.3h0M1636.2 562.5h0M1907.9 407.2h0M1693.9 478.2h0M1703.9 684.1h0M1637.8 562.8h0M1537.7 656.1h0M1732.4 649.3h0M1896.7 468.4h0M1535.4 647.6h0M1691.2 696.4h0M2002.4 281.7h0M1736 648.9h0M1808.9 373.6h0M1691.9 479.7h0M1552.9 747.8h0M1930.4 376.9h0M1575.3 622.3h0M1900.4 453.2h0M1745.7 428.7h0M1728 632.8h0M1604.8 600.4h0M1768.2 580.3h0M1856.5 477.8h0M1971.9 298.8h0M1912.8 313.3h0M1725.9 427.3h0M1848.3 510.3h0M1614.5 587.7h0M1762.1 565.5h0M1672 520.9h0M1942.4 286.3h0M1979.6 306.2h0M1561.9 641.2h0M1699.9 671.8h0M1789.7 534.2h0M1907.3 393.9h0M1553.7 644.1h0M1675.2 525.9h0M1829.6 523.8h0M1594.6 716h0M1630.2 563.7h0M1581.9 731.7h0M1758.3 423.5h0M1913.2 306.9h0M1934.9 376.5h0M1820.1 365.9h0M1784.1 561.9h0M1664.5 704.6h0M1666.9 712.9h0M1823.5 355.2h0M1690.5 685.6h0M1552.1 763.6h0M1823.4 364.1h0M1986.1 285.6h0M1807 523.1h0M1786.9 567.3h0M1654.2 550.8h0M1980.9 305.1h0M1924.1 297h0M1897 426h0M1959.8 323.3h0M1671 528.3h0M1938.7 290.3h0M1882.2 485.2h0M1728.3 629.7h0M1701.8 477.5h0M1957.7 289.4h0M1744.8 586.7h0M1728.4 433.8h0M1706.4 662.8h0M1986.9 293.2h0M1907 398.5h0M1642.3 555.1h0M1637.5 556.5h0M1942 357.7h0M1907.5 394.9h0M1660.3 702.5h0M1750.2 422.9h0M1834.5 364.3h0M1731.5 629.2h0M1803.9 524.7h0M1600 606.5h0M1885.4 474.1h0M1686.3 495.2h0M1713.6 617.3h0M1962.3 313.4h0M1717.5 454.2h0M1745.1 619h0M1977.2 292.2h0M1598.6 599.8h0M1851.4 491.2h0M1995 290.8h0M1743 437.3h0M1660.6 701.6h0M1533.7 659.9h0M1972.9 296h0M1890.6 424.5h0M1680.6 491.4h0M1675.6 501.3h0M1683.5 466.7h0M1724.7 430.2h0M1958.1 314.6h0M1894.1 456.2h0M1987.3 285.9h0M1881.6 474.1h0M1558.4 749.2h0M1593.5 597.4h0M1857.3 344h0M1954.8 284.2h0M1876.6 479.4h0M1735.5 644.8h0M1879.5 327.9h0M1635.7 556.4h0M1735.5 644.3h0M1868.5 482h0M1982.2 298.9h0M1845.2 353.1h0M1694.3 632.1h0M1945 350h0M1523.6 696.2h0M1536.4 663.4h0M1528.1 711.4h0M1902.3 410.7h0M1846 359.6h0M1678.3 495.6h0M1926.3 382.5h0M1791.2 397.5h0M1726.5 628.1h0M1656 550.3h0M1759.8 578.1h0M1699 670.1h0M1760.4 593.9h0M1669.6 512.9h0M1950.2 340.4h0M1671.3 528h0M1544.1 753.6h0M1665 512.7h0M1797.8 396.5h0M1677.3 535.9h0M1600.6 595.3h0M1556.2 634.2h0M1673.8 498.3h0M1943.2 355.8h0M1534.5 651.1h0M1686.4 662.1h0M1839.1 505.5h0M1653 507.8h0M1862 328h0M1767.7 586.4h0M1805.8 388.8h0M1853.5 354.5h0M1881.1 328.1h0M1740.3 630.4h0M1613.9 709.8h0M1896.6 464h0M1671.1 712.1h0M1914.8 446.3h0M1843.6 505.6h0M1742.4 607.1h0M1569.1 619.4h0M1846.9 507.4h0M1665 512.9h0M1819.3 368.6h0M1722.6 658.8h0M1826.6 527.7h0M1568.6 622.3h0M1562.8 610.9h0M1672.3 547h0M1593.8 727.9h0M1561.9 742.7h0M1726.9 446.3h0M1915.3 395h0M1895.7 309h0M1901.6 463.4h0M1672.8 706.5h0M1805.6 535.7h0M1899.9 411.9h0M1767.3 579.8h0M1938.1 291.1h0M1760.8 421.9h0M1639.4 555.8h0M1694.2 620.2h0M1792.8 538.7h0M1966.3 316.4h0M1530.5 752.7h0M1559.8 633.6h0M1529.1 705.6h0M1676.8 493.5h0M1805.3 532.2h0M1960.5 326.6h0M1955.7 292.4h0M1527 691.1h0M1570.3 624.7h0M1680.2 646.4h0M1765 579.4h0M1783.4 414.8h0M1759 571h0M1579.9 748.6h0M1706.7 617.4h0M1662.3 703h0M1525 695.8h0M1799.5 389.4h0M1685 630.3h0M1677.5 641.2h0M1669 699.3h0M1728.4 654h0M1679.8 531h0M1723.6 621.7h0M1534.8 736.8h0M1898.4 454h0M1528.2 688.6h0M1682.6 538.1h0M1852.8 337.8h0M1966.4 322.3h0M1656.3 697.3h0M1803.5 396.7h0M1946.4 357.9h0M1700.4 624.9h0M1819.1 361.6h0M1985.2 294.5h0M1939.7 291.4h0M1683.8 695.8h0M1968.6 284.2h0M1908.1 402h0M1956.1 275.2h0M1917 293.8h0M1529.1 684.5h0M1843.4 353h0M1663.1 697.1h0M1523.9 754.9h0M1904.7 456.6h0M1988.1 280.9h0M1709 469.6h0M1761.7 570.4h0M1749.4 416.8h0M1755.7 430.3h0M1689.2 674h0M1607 714.9h0M1851.2 485h0M1842.4 492.7h0M1841.8 498.6h0M1973 290.8h0M1936.2 373.6h0M1825 515.6h0M1525.5 716h0M1526.2 685.3h0M1722.4 629h0M1812.7 524.4h0M1718.2 459.3h0M1779.1 416h0M1703.8 614.1h0M1729.6 631.1h0M1846.1 486.5h0M1725.2 446.8h0M1991.4 294.3h0M1975 287h0M1705.3 469.3h0M1901.3 398.2h0M1907.3 436.7h0M1971.5 281.5h0M1724.8 619.5h0M1959.1 340.2h0M1940.5 287.3h0M1744.9 428h0M1527.9 682.2h0M1899.8 448.1h0M1529.7 657.2h0M1976.8 280.7h0M1958.2 330.9h0M1681.4 664h0M1897 463.5h0M1993.9 281.1h0M1868.7 479.3h0M1804 537h0M1593.6 612.2h0M1944.7 358h0M1891.8 408.6h0M1825.8 369.8h0M1858.9 333.2h0M1573.4 748.7h0M1759.9 416.7h0M1599.5 716.7h0M1680.2 503.5h0M1911.1 314.2h0M1588.3 609.7h0M1718.2 660.2h0M1917.8 291.7h0M1777.8 417.8h0M1590.3 725.6h0M1839 514.8h0M1843.3 511.8h0M1874.3 487.1h0M1960.4 281.5h0M1529.5 656.6h0M1677.2 518h0M1845.1 499.1h0M1729.5 454.1h0M1737.2 632.6h0M1676.9 653.4h0M1706.7 622.4h0M1827.1 515h0M1719.2 651h0M1865.1 331.9h0M1860.4 479.4h0M1683.1 647.9h0M1858.4 334.6h0M1989.6 284.6h0M1766.1 416.6h0M1869.8 324.7h0M1811.7 379.9h0M1522.5 733.4h0M1634.1 573h0M1557 645.6h0M1783.4 548.9h0M1807.7 538.3h0M1568.5 611.8h0M1762.5 414.1h0M1942.9 364.1h0M1648.4 699.6h0M1646.8 697h0M1566.6 747.5h0M1744.1 592.5h0M1710.1 611.5h0M1839.9 512.3h0M1844.3 510.9h0M1852.6 339.5h0M1401.7 818.2h0M1407.6 811.6h0M1418.7 800.5h0M1449.4 766h0M1456.6 757.2h0M1478.1 716.7h0M1476.4 714.4h0M1481.5 711h0M1501.4 689.1h0M1519 671.4h0M1531.6 663.4h0M1544 677.2h0M1543.5 748.5h0M1536 765.5h0M1521.7 774.8h0M1507.9 794.2h0M1501.5 809.2h0M1495.3 813.9h0M1483.1 822.1h0M1475.6 820.1h0M1465.7 817.9h0M1418.8 817.8h0M1416.2 818.2h0M1401 823.7h0M1401.3 822.9h0M1485.4 735.6h0M1517.6 773.3h0M1511.5 734.5h0M1524.9 759.5h0M1538.9 755.4h0M1481.3 744.8h0M1487.1 729.9h0M1507.3 727.8h0M1518.3 747.4h0M1517 768.1h0M1466 799.7h0M1415.6 816.7h0M1487.4 724.7h0M1513.2 738.8h0M1467.6 796.8h0M1446.9 797.1h0M1475.5 814.8h0M1476.1 781.3h0M1491 746.5h0M1514.3 728.4h0M1485.3 718.5h0M1511.3 768.8h0M1540 698.1h0M1502.9 741.1h0M1497.7 746.4h0M1428.6 796.9h0M1410.2 813.3h0M1503 723.9h0M1475.5 791.9h0M1520.9 707.6h0M1420.8 803.1h0M1458.1 782.4h0M1520.3 766.4h0M1509.3 709.9h0M1501.1 692.4h0M1526.8 699.5h0M1495.9 722.6h0M1440.9 793.7h0M1528.6 758.1h0M1454.5 795.9h0M1506.6 738.2h0M1476.2 812.7h0M1485.4 723.3h0M1456.7 775.4h0M1511.3 747.3h0M1478.1 715.4h0M1534.7 758.7h0M1511.3 703.1h0M1451.5 779.5h0M1513.3 769.7h0M1501.4 696.8h0M1507.9 733.2h0M1537.8 716.9h0M1537.4 683.1h0M1488.1 816.5h0M1505.7 700.1h0M1410.5 810.6h0M1450.5 790.6h0M1524 708.7h0M1535.9 761.8h0M1520.1 722.4h0M1504.9 708.4h0M1532.3 711.2h0M1509.1 696.4h0M1508.8 771.3h0M1433.1 798.4h0M1461.4 776h0M1465.4 795.1h0M1511.4 716.2h0M1526.4 683.8h0M1456.5 805.2h0M1517.4 730.1h0M1509.7 696.2h0M1525.6 720.9h0M1522.2 773.9h0M1525.6 699.8h0M1499.6 737.7h0M1453.5 765.4h0M1434 791.9h0M1521.3 758.5h0M1507.6 781.2h0M1519.3 693.9h0M1448.8 794.5h0M1512.1 739.7h0M1454.9 781.5h0M1539.2 716.9h0M1510.8 692.9h0M1496 701.9h0M1519.3 755.8h0M1511.3 728.2h0M1536.2 683.4h0M1533.8 715.6h0M1476.7 805.9h0M1505.4 714.6h0M1433 800.8h0M1530.2 759.1h0M1515.4 769.3h0M1512.2 772.1h0M1515.8 716h0M1439.8 795.6h0M1514.9 700.8h0M1535 678.9h0M1484.5 735.8h0M1504.4 709.5h0M1530.6 764.7h0M1537 691h0M1520.4 731.4h0M1419.1 802.7h0M1468.2 771.6h0M1515.4 723.5h0M1511.9 742.4h0M1510.6 689.1h0M1461.7 772.3h0M1515.1 753.6h0M1508.4 702.7h0M1513.9 754.6h0M1538.7 674h0M1524 755.4h0M1534.4 688.3h0M1431.1 795.4h0M1507.8 757.6h0M1477.7 795.5h0M1452.4 767.3h0M1519.2 725.2h0M1527.4 674.2h0M1526.8 770h0M1527.3 745.4h0M1469.2 807.3h0M1525.5 701.7h0M1516 770.1h0M1471.7 781.3h0M1518.6 766.9h0M1509.1 706.9h0M1498.5 746.8h0M1464.1 811.5h0M1536.5 693h0M1518.8 684.8h0M1455.6 778.3h0M1506.6 699.7h0M1503.3 739.1h0M1496.3 698h0M1508 701h0M1505.9 781h0M1472.4 788h0M1977.1 326.8h0M2020.8 282.8h0M2028 280.3h0M2049 270.7h0M2063 292.2h0M2082.8 308.5h0M2085.9 311.1h0M2085.6 310.3h0M2081.5 313.2h0M2056.1 332h0M2042.5 348.4h0M2043.4 349.7h0M2015 354h0M2014.8 356.5h0M1999 364.3h0M1976.7 372.3h0M1963.9 391.2h0M1962.4 393h0M1956.4 390.6h0M1940.7 376.8h0M1977 334.1h0M2004 302.4h0M1998 325.6h0M1982.2 354.1h0M1999.7 350.8h0M2018.9 314.6h0M1976.2 332.5h0M2021.7 294.8h0M2017.3 322h0M2063.6 312.4h0M1958.7 359.4h0M1965.2 372.5h0M2011.7 325.6h0M2048.5 310.3h0M2020.7 330.3h0M1952.2 369.2h0M1949.7 374.9h0M2022.8 293.2h0M2054.3 331h0M2030.4 288.8h0M2001.4 311h0M1998.3 363.1h0M2011.4 345h0M2026.4 294.9h0M2050.4 306.3h0M1988.2 344.8h0M1985.5 340.3h0M2012.3 317.3h0M2046.1 306.9h0M2051.4 317.2h0M2029.6 318.3h0M1961.2 356.8h0M2036.6 328.7h0M2026.7 281.8h0M1968.9 349.2h0M1968.6 363.5h0M2037.8 289.5h0M2025.3 340h0M2020 293.9h0M2054 292.6h0M2053.2 297.5h0M1983.1 324.7h0M2040.3 291.1h0M2045.1 284.4h0M2009.9 339.2h0M2055.6 327.1h0M1988.4 329.7h0M2072.5 313.4h0M2067.7 303h0M2042.2 305.4h0M1986.7 359.8h0M2079.9 307.9h0M2053.9 329h0M1977.4 347h0M2015.5 290.6h0M1959.5 378.2h0M1970 360.7h0M1978.8 330.4h0M1988.8 356.4h0M1983.6 321.6h0M1969.8 365.1h0M1999.9 343.4h0M2029 324.2h0M2017.2 341.9h0M2013.5 322.9h0M1956.2 381.4h0M2029.6 335.6h0M2001.9 336.6h0M2017.6 293.8h0M2013.8 325.8h0M2013.4 334.2h0M2037.9 331.9h0M2067.4 305.3h0M2016 305.2h0M2068.7 307.2h0M2021.9 299.5h0M2012.7 307.6h0M1976.1 350.3h0M1984.9 348.9h0M2054.5 318.9h0M1982.9 347.8h0M1982.6 360.2h0M2008.9 337.8h0M2067.6 303h0M2005.1 322.7h0M2058.4 305.1h0M2007.8 331h0M2020.9 330.3h0M1960.5 365.4h0M2056.8 296h0M2050.3 293.2h0M2007 335.4h0M1984.6 365.2h0M2000.8 304.7h0M1994 329.5h0M2038.2 309.6h0M1964.2 366.6h0M1983.8 352.6h0M1994.7 326.1h0M1990.8 339.9h0M1973.4 348h0M1957.5 384.8h0M2044.3 324.7h0M2028.8 306.7h0M2000.7 353.3h0M2014.6 313.2h0M2016.6 314.6h0M1946.6 375.3h0M2015.5 335.9h0M1996.8 316.3h0M2040.8 285.9h0M2013.1 309.9h0M1972.4 364.8h0M1953.9 372.8h0M2038.6 291.8h0M2063.6 297h0M1980.3 356.2h0M2018.1 296.8h0M2050.9 300.5h0M1931.6 406.5h0M1947.6 410.1h0M1968.4 419h0M1971.2 417.6h0M1966.8 416.4h0M1952 437.5h0M1950.1 440h0M1938.4 450.7h0M1918.7 452.2h0M1917.9 436.1h0M1920.7 421h0M1932.1 438.9h0M1924.9 438.1h0M1931.3 412.7h0M1940.5 447.7h0M1927.5 424.2h0M1944.6 425h0M1929.4 438.7h0M1943.9 423.8h0M1922.8 450h0M1938 422.2h0M1937.4 416.1h0M1930.4 427.5h0M1931.7 427.7h0M1920.7 426.7h0M1923 447.3h0M1947.5 428.3h0M1934.6 421.8h0M1927.9 439.5h0M1927.7 426.2h0M1943.3 419.8h0M1923.1 428.4h0M1913.7 453.1h0M1934 449.4h0M1940.9 447.3h0M1953.1 437.4h0M1953.1 392.9h0M1944.1 392.2h0M1928.9 403.7h0M1911.7 420.7h0M1903 442.2h0M1948.9 410.9h0M1916.5 441.4h0M1937.4 446.9h0M1944.9 410.3h0M1930.8 445h0M1931.9 442.7h0M1925.7 443.4h0M1909.2 431.4h0M1909 442.3h0M1913.5 430.9h0M1906.4 437.5h0M1933.6 443.7h0M1908 437.3h0M1935.3 448.1h0M1916.7 436.3h0M1936.1 404.2h0M1932.2 440.1h0M1937.6 411.6h0M1912.7 443.9h0M1914 447.1h0M1917.3 443.8h0M1913.6 448.8h0M1939.2 443.7h0M1951 415.4h0M1926.5 438.7h0M1909.1 440.9h0M1945.6 410.8h0M1928 443.7h0M1927.3 444h0M1939.3 409.8h0M1920.2 440.6h0M1657.5 365h0M1731.1 371.5h0M1637.2 424.6h0M1615.4 460h0M1644.1 466.7h0M1648.3 467.7h0M1644.1 483h0M1585.8 487.2h0M1601.1 488.7h0M1606.8 478.2h0M1615.4 479.1h0M1618.3 508.2h0M1630.4 530.4h0M1599.8 538.4h0M1600.5 549.9h0M1601.1 569h0M1568.6 525h0M1574.3 540.3h0M1563.8 538.4h0M1556.9 541.9h0M1573.1 543.8h0M1602.8 547.6h0M1600.8 568.7h0M1533 611.7h0M1537.7 612.7h0M1553 603.1h0M1532 639.4h0M1520.5 654.7h0M1967.5 249.5h0M1973.2 242.8h0M1985.6 247.6h0M1990.4 236.1h0M2004.7 243.8h0M2004.7 236.1h0M2010.5 225.6h0M2017.2 220.8h0M2024.8 237.1h0M2031.5 248.5h0M2031.5 254.3h0M2043 234.2h0M2046.8 223.7h0M2055.4 214.1h0M2042 202.3h0M2058.3 198.8h0M2064 189.3h0M2073.6 205.5h0M2077.4 202.7h0M2083.1 175.9h0M2090.8 181.6h0M2092.7 190.2h0M2098.4 162.9h0M2097.5 292.5h0M1999.6 388.1h0M1986 406.3h0M2048.7 266.7h0M1993.3 267.7h0M2008.6 272.4h0M1999 277.2h0"/>
<line class="d" x1="1351.6" y1="836.9" x2="2237.4" y2="89.5"/>
<text transform="translate(1351.6 906.1) scale(1 1.04)" text-anchor="middle">300</text>
<text transform="translate(1324.3 853.8) scale(1 1.04)" text-anchor="end">300</text>
<text transform="translate(1478.1 906.1) scale(1 1.04)" text-anchor="middle">302</text>
<text transform="translate(1324.3 747) scale(1 1.04)" text-anchor="end">302</text>
<text transform="translate(1604.7 906.1) scale(1 1.04)" text-anchor="middle">304</text>
<text transform="translate(1324.3 640.3) scale(1 1.04)" text-anchor="end">304</text>
<text transform="translate(1731.2 906.1) scale(1 1.04)" text-anchor="middle">306</text>
<text transform="translate(1324.3 533.5) scale(1 1.04)" text-anchor="end">306</text>
<text transform="translate(1857.8 906.1) scale(1 1.04)" text-anchor="middle">308</text>
<text transform="translate(1324.3 426.7) scale(1 1.04)" text-anchor="end">308</text>
<text transform="translate(1984.3 906.1) scale(1 1.04)" text-anchor="middle">310</text>
<text transform="translate(1324.3 319.9) scale(1 1.04)" text-anchor="end">310</text>
<text transform="translate(2110.9 906.1) scale(1 1.04)" text-anchor="middle">312</text>
<text transform="translate(1324.3 213.2) scale(1 1.04)" text-anchor="end">312</text>
<text transform="translate(2237.4 906.1) scale(1 1.04)" text-anchor="middle">314</text>
<text transform="translate(1324.3 106.4) scale(1 1.04)" text-anchor="end">314</text>
<text transform="translate(1794.8 975.5) scale(1 1.04)" text-anchor="middle" class="ax">L8 LST (K)</text>
<text transform="translate(1212.8 462.2) rotate(-90) scale(1 1.04)" text-anchor="middle" class="ax">ESTARFM LST (K)</text>
<text transform="translate(1365.8 150.1) scale(1 1.04)">RMSE = 0.93 K</text>
<text transform="translate(1381.3 219.7) scale(1 1.04)">MAE = 0.74 K</text>
<text transform="translate(1427.5 294.5) scale(1 1.04)">R<tspan class="sup" dy="-21.8">2</tspan><tspan dy="21.8"> = 0.84</tspan></text>
<text transform="translate(2073.7 262.3) scale(1 1.02)" class="sm">1:1 line</text>
<text transform="translate(1872 799.8) scale(1 1.04)">(b) 20210518</text>
</g>
<g id="panel-c">
<rect class="fr" x="215.5" y="1028.3" width="884.8" height="746.2"/>
<path class="tk" d="M215.5 1774.5v15.3M215.5 1774.5h-16.3M341.9 1774.5v15.3M215.5 1667.9h-16.3M468.3 1774.5v15.3M215.5 1561.3h-16.3M594.7 1774.5v15.3M215.5 1454.7h-16.3M721.1 1774.5v15.3M215.5 1348.1h-16.3M847.5 1774.5v15.3M215.5 1241.5h-16.3M973.9 1774.5v15.3M215.5 1134.9h-16.3M1100.3 1774.5v15.3M215.5 1028.3h-16.3"/>
<clipPath id="clip-c"><rect x="215.5" y="1028.3" width="884.8" height="746.2"/></clipPath>
<path class="p" clip-path="url(#clip-c)" d="M318.4 1545.5h0M318.3 1545.8h0M342.4 1523.8h0M344.2 1504.1h0M346.6 1494.3h0M347.6 1490.5h0M377.5 1482.3h0M364.1 1457.6h0M357.8 1456.7h0M355.8 1457.7h0M365.1 1448.2h0M378.1 1440.7h0M395 1429.7h0M399.3 1429.1h0M417.4 1420.8h0M422.5 1416.9h0M439.5 1396.4h0M439.2 1394.7h0M461.1 1395.7h0M481.9 1392.6h0M481.9 1391h0M513.5 1372.9h0M507.8 1356.7h0M508.7 1357.6h0M513.4 1358.1h0M533.5 1356.3h0M547.6 1332.9h0M546.4 1332.7h0M577.9 1322.5h0M580.8 1319.6h0M599.2 1309.7h0M611.9 1294h0M614 1290.1h0M633.7 1286.3h0M646 1270.9h0M645.5 1272.6h0M645.6 1272.3h0M664.3 1269h0M668.9 1266.7h0M678.6 1260.9h0M697 1257.2h0M712.8 1237.2h0M718.2 1233.3h0M726.5 1219.5h0M727.8 1219h0M741 1207.5h0M751.4 1197.3h0M764.5 1181.8h0M769.1 1180.2h0M776 1175.8h0M782.5 1173.4h0M789.3 1171h0M816.1 1170.1h0M818.2 1172.9h0M822.8 1177.5h0M827.4 1183.5h0M843.9 1191.1h0M846.9 1194h0M850.3 1196.8h0M850.8 1195.5h0M847.8 1196.8h0M840 1199.8h0M807.8 1209.2h0M789.1 1214.9h0M793 1239h0M797.6 1239.3h0M801.2 1241.9h0M807.5 1265.6h0M807.9 1267.8h0M794.5 1292.7h0M785.5 1338.7h0M785.5 1341.4h0M789 1357.7h0M809.9 1373.7h0M808.1 1372h0M786.5 1403.7h0M786.1 1407.4h0M783.1 1404.5h0M759.2 1409.7h0M758.1 1411.5h0M742.6 1424h0M743.5 1441.2h0M741.4 1445h0M737.1 1450.7h0M731.2 1455.9h0M721 1470.7h0M716.9 1474.7h0M691.4 1499.3h0M688.4 1507.2h0M684 1512h0M677.2 1512.9h0M641.5 1543.5h0M642.6 1547.1h0M640.1 1549.4h0M640.1 1549.2h0M620.8 1556.3h0M618.2 1561.2h0M615.8 1559.8h0M574.5 1566.3h0M575.5 1568.9h0M574.3 1583.3h0M570.5 1585h0M566.6 1587.5h0M446.5 1563.8h0M403.3 1580.8h0M402 1576.5h0M321.3 1544.9h0M788.8 1182.6h0M776.7 1186.6h0M789.3 1189h0M793.4 1185h0M805.4 1187.5h0M812.1 1184.6h0M816.2 1188.2h0M775 1194.1h0M784.9 1195.9h0M792.8 1194.5h0M801.2 1195.1h0M808 1192.4h0M812.1 1191.8h0M765.6 1203.3h0M772.7 1201.7h0M781.4 1203.6h0M787.2 1202.3h0M792.2 1202.4h0M759.9 1207.4h0M765.4 1208.9h0M777.4 1206.2h0M780.1 1206.9h0M755.2 1213.8h0M742.8 1223.6h0M753.7 1219.9h0M739.3 1227.8h0M748.5 1228.3h0M728.9 1236.8h0M737 1235.2h0M744.2 1236h0M749.7 1233.9h0M724.3 1240.5h0M730.5 1244.2h0M739.4 1240.3h0M728.5 1251.3h0M714.3 1256.4h0M721.5 1256.4h0M793 1258.9h0M712.6 1266h0M720.6 1263.7h0M777.2 1262.6h0M784 1263.9h0M793.3 1265.2h0M704.8 1273h0M717.8 1268.6h0M720.1 1268.8h0M781.5 1271.3h0M785.7 1270.8h0M680.1 1279h0M687.4 1275.4h0M692.3 1278.6h0M702.3 1278.5h0M708.2 1279h0M717.9 1279.2h0M775.4 1274.2h0M783 1276.8h0M653.2 1286.4h0M665.5 1285.2h0M673.5 1284.3h0M685.4 1284.8h0M689.4 1284.2h0M698.5 1286.8h0M705.6 1282.9h0M715.8 1281.8h0M723.4 1286.8h0M731 1282.7h0M762.3 1282.8h0M769.3 1281.6h0M779.2 1286.1h0M648.9 1293.8h0M653.1 1290.6h0M665.3 1288.1h0M668.2 1291.4h0M678.9 1293.5h0M688.5 1291.3h0M697.9 1291.1h0M703 1292.1h0M710.2 1290.2h0M719.4 1290.1h0M735 1288.6h0M742.1 1290.4h0M751.2 1291.5h0M761.2 1293.8h0M766.8 1290.7h0M775.6 1294h0M781.9 1291.2h0M637.6 1297.9h0M645.6 1296.4h0M650.2 1299.3h0M657.2 1296.8h0M669.1 1297.9h0M676.6 1296.4h0M680.9 1297.1h0M689 1300.8h0M697.6 1298.3h0M704.6 1298.2h0M745.6 1296.4h0M752.1 1298.9h0M761.9 1295.9h0M772.1 1295.5h0M621.7 1305.7h0M629 1306.9h0M639.3 1306.2h0M645.4 1304.5h0M656 1304h0M659.9 1306.9h0M672.5 1303.6h0M676.1 1307h0M687.5 1302.2h0M693.3 1302.5h0M760 1306.3h0M768.9 1305.6h0M620.5 1313.8h0M625.7 1309.9h0M635.7 1313.9h0M645.4 1309.8h0M652.6 1313.8h0M660.3 1310.8h0M665 1313.8h0M673.8 1311h0M683.2 1311h0M692.9 1310.2h0M696.1 1312.2h0M765.7 1309.3h0M608.2 1320.3h0M612.6 1321.7h0M624.2 1316.3h0M632.9 1318.1h0M636.9 1321.5h0M647.3 1320.4h0M652.7 1320.4h0M660.2 1317.2h0M670.1 1315.8h0M679.4 1317h0M685.7 1320h0M694.4 1321.1h0M761.6 1320.1h0M603.7 1324.8h0M609.6 1327.4h0M621.1 1328.3h0M628 1324.5h0M636.5 1327.1h0M642.9 1326.5h0M650 1326h0M658.3 1323h0M665.9 1324.6h0M677.8 1325.6h0M682.1 1324.1h0M689.3 1324.8h0M696.7 1322.7h0M747.2 1328.3h0M753.9 1328.2h0M592.5 1334.2h0M597.7 1334.2h0M609.7 1332.3h0M613.5 1332.7h0M625.5 1330.4h0M627.9 1332.4h0M639.8 1334.2h0M646.1 1335.5h0M653.2 1334.1h0M660.4 1329.8h0M668.7 1330h0M678.9 1332.9h0M685 1335.2h0M694.1 1330.5h0M700.9 1334h0M741.9 1334.4h0M750.6 1331.5h0M761.3 1330.2h0M589.1 1337.2h0M594.8 1337.3h0M602.4 1337.6h0M612 1337.4h0M620.3 1339.5h0M624.5 1338.6h0M634.9 1342h0M642 1337.8h0M653.7 1341.8h0M660.3 1338.2h0M664.9 1338.1h0M672.3 1336.8h0M682.9 1339h0M691.2 1338.7h0M695.9 1340.6h0M707.8 1339.8h0M715.2 1340.7h0M725.8 1341.8h0M732.2 1338.9h0M767.9 1340.2h0M572.4 1345.8h0M585.9 1347.6h0M590.6 1346.3h0M600.7 1348h0M604.8 1347.5h0M614.1 1346.6h0M621.3 1345.7h0M629.9 1345.7h0M636 1344.7h0M647.3 1343.8h0M652.9 1347.8h0M661.5 1345.4h0M669.3 1348.5h0M676.4 1347.3h0M689 1344.7h0M694.4 1348.2h0M703.6 1345.7h0M708.1 1346.1h0M718.1 1347.7h0M725.6 1345.9h0M553.4 1351.6h0M560.2 1353.6h0M570.1 1353.2h0M578.8 1353.9h0M586.1 1355.2h0M593.1 1355.9h0M603.2 1350.7h0M609.8 1353.6h0M618.3 1353.8h0M625.8 1352h0M636.7 1352.1h0M644.1 1355.2h0M651.4 1353.1h0M661.5 1353h0M669.1 1350.7h0M674.5 1354.2h0M680.2 1355.6h0M688.3 1354h0M697 1355.9h0M707.2 1355.2h0M714.9 1354.4h0M723.9 1352.1h0M552.3 1358.4h0M560.6 1359.1h0M564.3 1360.7h0M572.4 1360.6h0M584.6 1360.9h0M590.6 1357.5h0M599 1357.9h0M607.8 1358.1h0M615.3 1359.4h0M622.1 1361.3h0M628.9 1358.3h0M641.5 1359.3h0M648.9 1362.5h0M654.8 1358.2h0M660.4 1362.6h0M668.6 1360.3h0M679.1 1358h0M686.7 1358.3h0M695.1 1360.3h0M702.1 1358.5h0M710.3 1358.5h0M716.6 1358.7h0M540.3 1369.2h0M548.7 1367.8h0M554.5 1369.2h0M564.6 1369.5h0M569.7 1370h0M579.1 1369.9h0M584.6 1370h0M596.6 1365.7h0M604.9 1365.6h0M609.1 1367h0M617.3 1367.2h0M629.3 1368.3h0M636.1 1366.6h0M644.6 1369h0M652 1369.9h0M660.8 1366.7h0M664.4 1368.1h0M676.9 1366.3h0M683.4 1369.2h0M692.6 1364.3h0M698.8 1364.3h0M704.5 1369.1h0M714.4 1367.9h0M772.7 1365h0M524.1 1373.1h0M532.7 1376.9h0M545.2 1372h0M551.4 1374.6h0M556.2 1373.5h0M568.4 1375h0M573.6 1375.7h0M581.6 1374.4h0M590.4 1377h0M599.8 1376h0M607.9 1373.4h0M617.7 1375.4h0M624 1372.8h0M628.8 1374.6h0M640.8 1375.9h0M646 1372h0M655 1376.4h0M660.8 1375.6h0M668.9 1373h0M676.2 1372.9h0M686.2 1377h0M697.6 1372.3h0M701.7 1376.8h0M709.1 1373.1h0M768.5 1373h0M772.8 1375.7h0M782.7 1374.5h0M524.9 1382.8h0M532.9 1379h0M539.9 1382.6h0M546.9 1383.5h0M557.3 1382.5h0M564.8 1382h0M573.1 1378.9h0M580.1 1382.3h0M587.5 1379.7h0M592.3 1381.7h0M604.8 1379.7h0M609.2 1379.4h0M616.4 1382.1h0M629.7 1382.9h0M634 1382.3h0M640.3 1383.1h0M649.8 1378.1h0M659.7 1378.9h0M665.5 1378.4h0M674.5 1381.4h0M684.7 1378.3h0M692.8 1378.8h0M697.2 1381.9h0M772.2 1381.6h0M778.3 1381.2h0M528.5 1387.8h0M537.8 1390.5h0M544.6 1387.9h0M552.8 1385.8h0M556.5 1388.4h0M566.9 1386.3h0M573.4 1385.1h0M585.3 1389.3h0M593.5 1390.9h0M598.5 1389.4h0M606.2 1389.9h0M616.9 1385.8h0M620 1386.3h0M631.4 1387.3h0M635.9 1390h0M648.6 1387.8h0M652.1 1390.3h0M663.1 1385.4h0M669.8 1388.8h0M681.2 1387.9h0M687.7 1386.2h0M693.3 1390.5h0M702.2 1385.6h0M775.8 1389.2h0M520 1396.9h0M532.7 1394.7h0M536.6 1395.8h0M545.1 1394.5h0M552.5 1397.8h0M563.2 1394.1h0M568.4 1396.3h0M581 1397h0M584.5 1394.1h0M593.7 1396.5h0M600.8 1395.6h0M613.7 1396.6h0M615.9 1392.4h0M624.6 1396.1h0M635.5 1395.1h0M642.6 1394.4h0M651.5 1395.8h0M661.4 1396.3h0M668.7 1397.4h0M676.9 1396.2h0M680.1 1396h0M693 1394.5h0M701.1 1393h0M516 1401h0M524.7 1399.5h0M534.8 1404.7h0M544 1400.5h0M552.5 1399.9h0M556.5 1400.7h0M566.3 1403h0M574.5 1403.2h0M580.4 1404.5h0M589.9 1403.9h0M596.1 1403.8h0M605.2 1404h0M616.7 1402.9h0M621.5 1398.9h0M629 1404.3h0M636.8 1402.8h0M647.4 1402.8h0M653 1399.7h0M660.5 1404.8h0M670.2 1402.8h0M679.3 1400.2h0M684.3 1399h0M697 1399.7h0M705.7 1401.1h0M712.2 1399.7h0M449.5 1411.3h0M458.6 1410.2h0M483.9 1408h0M488.6 1411.7h0M498.8 1406.9h0M503.9 1409.7h0M515 1405.9h0M522.7 1410.2h0M531.1 1407.2h0M538.9 1409.4h0M547.8 1406.7h0M556.7 1411.5h0M564.3 1410.9h0M570.1 1411.2h0M577 1407.2h0M587.5 1411.2h0M592.4 1407.1h0M600.1 1408.4h0M608.7 1406.9h0M620.4 1409.3h0M629.5 1408.2h0M635.9 1405.9h0M645.6 1407.2h0M650.7 1408.9h0M661.6 1408.8h0M669.8 1409.5h0M673.2 1410.8h0M681.1 1411.8h0M690.6 1407.2h0M701.6 1407.7h0M706.3 1407.9h0M715.9 1405.9h0M722.1 1406.8h0M441.3 1418.5h0M457.3 1416.1h0M461 1416.9h0M469.4 1414.1h0M478.1 1415.9h0M487.9 1413.2h0M496.3 1416.5h0M502.7 1416.8h0M512.7 1412.8h0M518.7 1416.8h0M528.1 1416.6h0M533 1418.5h0M544.6 1414.1h0M550.5 1418.5h0M557.1 1415.2h0M569.6 1418.1h0M573.3 1417.1h0M582 1416.7h0M592.5 1413.5h0M597.2 1414h0M605.5 1412.9h0M612.7 1415.2h0M622.4 1413.2h0M631.4 1418.4h0M639.3 1414.9h0M648.1 1415.4h0M652.9 1415.6h0M660 1416.8h0M668.8 1414.9h0M681.6 1417.3h0M688.9 1416.6h0M695.7 1417h0M705.7 1413.9h0M712.5 1414.5h0M717.4 1417.7h0M727.5 1417.8h0M433.3 1424.4h0M444.7 1420.2h0M451.4 1420.8h0M460.1 1424.5h0M468.6 1421h0M472.4 1423.6h0M483.3 1420.5h0M489 1423.2h0M496.5 1423.5h0M505.3 1421.2h0M514.4 1422.9h0M524.2 1419.8h0M532.2 1421h0M537.6 1423.5h0M548 1423.3h0M557.3 1420.9h0M561.7 1423.6h0M569.4 1420.6h0M577.2 1424.3h0M588.8 1424h0M597.6 1424.4h0M601.7 1421.5h0M612.2 1420h0M619.5 1420.2h0M624.2 1422.7h0M632.8 1425.2h0M645.1 1422.4h0M649.1 1420.4h0M658.9 1422.8h0M666.1 1424h0M675.1 1424.3h0M680.5 1420.1h0M690.2 1422.6h0M697.4 1423.7h0M705.2 1421.6h0M714.7 1423.9h0M724.5 1421.9h0M730.6 1425.2h0M425.3 1429.4h0M433.6 1430.2h0M437.6 1429.4h0M448.2 1431h0M452.7 1427.7h0M465.6 1427.2h0M472.8 1428.6h0M477.4 1428.1h0M486.7 1432.5h0M492.8 1431.7h0M501.8 1427.6h0M512.3 1428.6h0M517 1429.1h0M528.8 1431.8h0M535.3 1426.6h0M544.5 1430.2h0M553.3 1432.3h0M557.8 1431.7h0M568.8 1428.2h0M574.1 1428.8h0M582 1428.9h0M588.5 1427.9h0M601.3 1429h0M607.7 1431.9h0M616.4 1428h0M625.4 1431.4h0M633.8 1431h0M640.4 1431.5h0M645.4 1430.5h0M654.2 1431.6h0M660.7 1429.8h0M669.9 1431.5h0M677.9 1431.6h0M689 1431.9h0M692.7 1432.2h0M704.3 1430.6h0M711.8 1426.9h0M721.1 1429.9h0M726.6 1428.6h0M421.4 1433.7h0M427.4 1436.1h0M436.2 1436.1h0M440.4 1436.7h0M452.8 1438.2h0M458 1434.8h0M468.3 1438.3h0M473.2 1438.8h0M485.8 1436.1h0M490.2 1437.8h0M501.5 1434.7h0M505.7 1435.5h0M516.3 1434.6h0M523.2 1436.5h0M531.9 1434.4h0M541.6 1439.5h0M547.2 1438.3h0M553 1439h0M563.2 1438.1h0M573.1 1435.7h0M581.4 1434.8h0M584 1436.5h0M597.3 1438.9h0M605.6 1436.6h0M613.5 1436.9h0M616.7 1437.3h0M628.7 1436.1h0M635.5 1435.1h0M641.5 1436h0M651 1436.3h0M656.4 1433.5h0M665.9 1437.8h0M676.4 1434.9h0M681.4 1436.6h0M688.9 1437.1h0M701.3 1434.7h0M707.4 1437.8h0M716.4 1437.8h0M724.1 1435.1h0M409.7 1442.9h0M414 1443h0M422 1444.6h0M430.2 1441.4h0M441.1 1443.9h0M443.9 1445.5h0M456.2 1442.6h0M463.7 1446h0M470.3 1443h0M477.7 1443.8h0M487.9 1444.8h0M497.6 1441.3h0M502.1 1445.5h0M512.6 1444h0M519.9 1442.5h0M529.5 1443.7h0M534.3 1441.5h0M540.6 1445.8h0M552.7 1440.6h0M557.8 1443.3h0M566.8 1442.6h0M577.2 1442.5h0M583.1 1446h0M591.7 1443.3h0M597.9 1442.8h0M607.5 1445.2h0M613.4 1442.7h0M622.2 1442.6h0M633.4 1443.7h0M637.5 1442.4h0M648.8 1441.4h0M656 1440.6h0M661 1440.8h0M672.7 1441.3h0M677.2 1440.8h0M685.5 1444.8h0M696.2 1445.9h0M705.6 1443.7h0M713.4 1441h0M721.4 1443h0M725 1444.9h0M404.6 1450.8h0M410.6 1452.7h0M419.5 1449.4h0M426.3 1453h0M437 1452.9h0M443.2 1448.2h0M448.9 1449.7h0M460 1447.4h0M468.7 1452.1h0M475 1447.4h0M484.7 1449.9h0M491.9 1450.8h0M500.2 1449.8h0M509.6 1453.1h0M517.4 1451.1h0M521.8 1449.6h0M529.5 1452.8h0M540.6 1452.1h0M548.8 1453.3h0M556 1449.3h0M564.4 1448.9h0M571.5 1448.3h0M581 1450.3h0M585.5 1452.9h0M592.4 1452.9h0M604.4 1448.3h0M612.4 1450.8h0M621.3 1450.9h0M626.4 1453h0M632.4 1452h0M640.5 1449h0M648.6 1452.6h0M658.5 1451.7h0M665.4 1451.7h0M675.8 1448h0M682.8 1451.7h0M689.2 1451.3h0M697.5 1449.6h0M709.4 1453h0M717.9 1449.9h0M390.9 1456.3h0M396.9 1459.9h0M406.7 1459h0M413.4 1459.8h0M421.2 1459.7h0M431.6 1460.1h0M440.5 1458.1h0M447.1 1459.4h0M454.5 1454.9h0M465.4 1459.1h0M472 1458.8h0M477.3 1457.1h0M488.8 1460.1h0M497.4 1455.3h0M504 1457.6h0M510.3 1455.3h0M516.7 1457.1h0M526.8 1455.9h0M534.1 1457.6h0M544.4 1457.8h0M548.8 1459.6h0M558.1 1460.1h0M569.8 1455.1h0M575.4 1460.1h0M582.2 1457.6h0M589.8 1454.5h0M597.1 1455h0M605.6 1458.1h0M615.3 1460h0M624 1456.5h0M633.6 1458.1h0M639.1 1459.5h0M647.9 1456.5h0M655.5 1456.1h0M665.7 1455.8h0M673.7 1454.7h0M675.9 1457.6h0M685.1 1457.3h0M692.6 1459.3h0M703.9 1458.4h0M403.2 1463.4h0M413.3 1462.8h0M416.7 1462.2h0M424.8 1464.8h0M436.7 1462.2h0M442.9 1464.7h0M451.2 1463.7h0M459.1 1461.3h0M464.2 1463.8h0M473.3 1465.8h0M481.3 1466.2h0M489.3 1461.8h0M498.7 1463.5h0M505.9 1465.8h0M513.2 1465.2h0M524.9 1463.9h0M530.9 1466.8h0M539.5 1462.3h0M544.3 1461.7h0M553.9 1461.8h0M563.8 1463.8h0M569.7 1464.3h0M581.5 1462.7h0M584.8 1463.1h0M593.8 1466.7h0M604.1 1463.8h0M608.9 1461.5h0M616.6 1466.3h0M627.8 1462.2h0M635.6 1461.6h0M642.9 1463.2h0M648.5 1465.7h0M660.2 1464.3h0M664.9 1465.2h0M674.5 1465.2h0M680.4 1466.6h0M687.9 1462.6h0M698.3 1462.4h0M704.4 1465.3h0M400.1 1469.8h0M409.7 1470.8h0M411.9 1468.7h0M424.2 1473.3h0M431.7 1469.1h0M441.1 1472.5h0M444.6 1470.4h0M455.9 1468.2h0M460.1 1470.3h0M473.1 1474.1h0M477.8 1473.6h0M488.6 1473.3h0M495.4 1474h0M503.7 1473.8h0M511.3 1469.3h0M519 1471h0M525.9 1470.4h0M534.9 1471.7h0M541.2 1469.8h0M550.9 1471.2h0M558.4 1472.1h0M565 1471.3h0M573.5 1472.8h0M584.1 1472.8h0M591 1469.6h0M601.4 1471.2h0M606.1 1469.9h0M614.3 1472.4h0M624.8 1471h0M632.3 1469.4h0M638.6 1470.3h0M645.7 1470.3h0M656.4 1472.6h0M661.1 1469.6h0M672.6 1472.1h0M679.9 1472h0M688 1469.8h0M692.2 1470.3h0M700.1 1473.9h0M404.4 1477.1h0M412 1478.8h0M417 1475.2h0M427.9 1478.7h0M433.6 1476.3h0M445 1480.5h0M449.3 1478.6h0M459.3 1477h0M464.1 1477h0M475.7 1478.7h0M482.9 1475.8h0M489.2 1476.9h0M498.4 1477.3h0M509.3 1475.8h0M517.8 1476.5h0M525 1476.5h0M531.4 1477.3h0M536.1 1479.9h0M548.7 1476.7h0M556.5 1478h0M565.8 1475.4h0M570.2 1476.4h0M579.6 1479.7h0M588.9 1478.4h0M594.2 1479.9h0M600.5 1476.6h0M612.4 1477.7h0M621.8 1475.6h0M626.6 1476.4h0M631.9 1475.6h0M640.4 1477.3h0M650.5 1478.1h0M657.6 1479.3h0M667 1481h0M672.9 1478.1h0M682.8 1477.3h0M693 1476.3h0M396.9 1485.1h0M405.8 1485.3h0M412.7 1484.9h0M423.6 1482.8h0M429.7 1486.1h0M439.2 1485.7h0M448.6 1485.4h0M453.2 1484.7h0M464.9 1485.4h0M472.4 1484.2h0M478.6 1487.8h0M488.8 1485.9h0M492.5 1485.7h0M500.1 1487.6h0M513.7 1486.4h0M517.5 1487.1h0M524.9 1487h0M535 1482.1h0M545.2 1484.6h0M552.9 1486.1h0M559.1 1487.2h0M565.1 1487.4h0M573.9 1482.2h0M581.9 1482.4h0M588.3 1485.8h0M596.6 1483h0M605.6 1483.7h0M617.4 1487.4h0M625.1 1487.9h0M630.5 1486.8h0M637.6 1487.6h0M648.7 1486.4h0M653.2 1482.6h0M665.4 1485.3h0M671.5 1487.2h0M676.7 1486.2h0M686.7 1486.7h0M388.7 1490.5h0M396.9 1492.2h0M403.5 1492.7h0M408.6 1493.6h0M417.6 1494.1h0M428.6 1493h0M436.8 1491.6h0M443.9 1494.7h0M449 1489.5h0M458.3 1492h0M464.8 1490.3h0M477.1 1491.3h0M480.8 1490h0M491.3 1490.1h0M498.7 1492.2h0M506.5 1492h0M516.9 1489h0M525.5 1490.1h0M528.1 1493.5h0M539.3 1492.2h0M545.2 1493.6h0M553.7 1493.3h0M561.2 1492.4h0M571.8 1491.2h0M578.8 1489.3h0M587.7 1493.1h0M592.8 1492.2h0M604.3 1489.5h0M612.9 1494.2h0M616.2 1490.4h0M624.4 1490.5h0M632.4 1491.9h0M641.4 1490.7h0M650.6 1491.2h0M660.6 1493.3h0M664.6 1490.3h0M671.9 1490.9h0M680.5 1493.1h0M357.7 1500.1h0M368.2 1497.1h0M375.7 1499.8h0M383.8 1496h0M390.5 1497.8h0M399.5 1497.9h0M404.6 1499.9h0M413.6 1500.6h0M421.7 1499.1h0M432.7 1496.6h0M440.3 1496.3h0M449.5 1496h0M456.2 1498.1h0M461 1498.2h0M470.9 1498.4h0M476.6 1499h0M485.7 1501.7h0M494.2 1498.5h0M501.2 1501.7h0M509.8 1499.7h0M520.9 1498.2h0M528.4 1497.5h0M532.5 1496.1h0M542.6 1501.1h0M549.1 1498.5h0M560.5 1497.5h0M564.8 1499h0M574.4 1501.5h0M585.3 1497.3h0M591.2 1498.4h0M596.1 1498.5h0M609.4 1497.7h0M615.4 1500.1h0M620.3 1501.4h0M628.5 1497.7h0M640.2 1496h0M646.1 1496.6h0M654.7 1496h0M660.8 1497.2h0M668.4 1496.4h0M677 1499h0M353.5 1508.7h0M365.2 1508.7h0M373.5 1504.3h0M380.8 1506.5h0M385.1 1508.8h0M395.8 1507.6h0M403.2 1503.3h0M413.1 1503.8h0M417.4 1506.5h0M425 1505.6h0M436.2 1503.4h0M443.8 1503.4h0M450.7 1506.7h0M460 1503.1h0M465 1508.6h0M474.2 1505.3h0M482.1 1507h0M492.3 1506.7h0M498.3 1506.2h0M507 1503.9h0M517.6 1508.6h0M524.5 1508.7h0M530.7 1507.8h0M537.3 1507.2h0M548.2 1508.4h0M556.9 1508.1h0M561.5 1507.5h0M570.7 1504.7h0M578.1 1507.6h0M588.9 1507.9h0M595.9 1503.8h0M600.8 1506.2h0M609.1 1504.8h0M616.5 1503.7h0M628.2 1504.1h0M637 1504.8h0M645 1504.6h0M649.5 1505.2h0M655.9 1505.4h0M666.2 1502.9h0M357.9 1514h0M369.5 1513.6h0M375.9 1515.3h0M384.5 1512.4h0M390.6 1514.3h0M397.8 1510.4h0M407.6 1514.6h0M413.4 1513.8h0M425.2 1510.5h0M428.7 1512.7h0M437.9 1515.4h0M449.9 1512.4h0M456.6 1513.5h0M460.9 1515.6h0M468.9 1510.2h0M478.6 1509.8h0M486.8 1512.2h0M497.6 1512.2h0M505 1514.4h0M511.4 1511.1h0M517.7 1512.7h0M526.2 1513.6h0M534.9 1511.7h0M543.5 1515.7h0M549.1 1511.7h0M555.9 1510.3h0M564.2 1512.3h0M576.9 1513.9h0M585.7 1514.7h0M591.4 1513.2h0M596 1512h0M605.4 1513.4h0M612.3 1513h0M622.1 1512.7h0M630.3 1510.3h0M356.1 1519.8h0M363.5 1518.6h0M371.4 1522.4h0M380.6 1522.4h0M385.4 1519.7h0M394.2 1518.7h0M404.7 1517.7h0M411.2 1521.3h0M421.5 1516.8h0M425.5 1519.6h0M437.5 1517.6h0M444.9 1519h0M451.2 1522.2h0M456.3 1518.6h0M464.8 1517.5h0M473.7 1520.9h0M483.4 1517.4h0M492.7 1519.7h0M496.7 1521.6h0M508.8 1517.9h0M517.5 1521.5h0M521.2 1516.7h0M533.1 1521.6h0M536.5 1521.2h0M548.5 1520.4h0M556.9 1522.6h0M561.8 1521.7h0M573.4 1518.5h0M580 1520.8h0M589 1520h0M593.5 1518.2h0M603.1 1517.5h0M613 1522h0M617.3 1520.8h0M627.9 1517.4h0M360.5 1524.5h0M366.5 1529.5h0M374.8 1525.9h0M384.9 1528.9h0M390.1 1524.3h0M399.7 1528h0M409.4 1527.5h0M413.7 1526.7h0M421.6 1526.3h0M430.7 1529h0M441.3 1529.1h0M446.7 1529.4h0M452.7 1529.1h0M463.7 1528.8h0M470.4 1529.5h0M476 1528.7h0M488.8 1525.8h0M496.8 1524.9h0M504.4 1526.4h0M510.3 1524.8h0M520.7 1528h0M524.4 1529.4h0M533.2 1525.8h0M542.4 1527h0M553.2 1529.2h0M559.7 1525.8h0M564.5 1524h0M575 1527.1h0M582.6 1529.5h0M590.4 1525.7h0M598.4 1524.6h0M609.5 1527.1h0M615.1 1526.1h0M621.4 1525.5h0M353.9 1531.9h0M364.9 1530.6h0M370.5 1535.7h0M380.6 1534.8h0M385.7 1531.9h0M396.1 1532.3h0M404.2 1532.6h0M412.4 1533.9h0M420.8 1536.4h0M426.1 1536.4h0M431.9 1535.8h0M440.1 1533.8h0M450.2 1535.1h0M457.8 1531.8h0M468.6 1533.8h0M476.4 1533.4h0M480.1 1535.1h0M489.2 1533.3h0M495.9 1532.1h0M507.9 1535.1h0M515.7 1533.2h0M524.3 1534.5h0M529.1 1533.7h0M539.5 1534.9h0M545.1 1532.4h0M553.9 1531.1h0M562 1534.9h0M571.3 1531.5h0M580.3 1531.2h0M588.4 1531.4h0M592.5 1532h0M603 1532.1h0M613.2 1536.1h0M617.6 1535h0M353.8 1538.6h0M360.1 1537.7h0M365.5 1538.1h0M372.8 1540.6h0M380.9 1542.2h0M388.5 1541.2h0M401 1538.2h0M405.2 1542h0M414.7 1543h0M421.9 1539.8h0M433.6 1539.5h0M441.7 1542.8h0M445.1 1540.7h0M457.5 1538.1h0M465 1542.1h0M472.4 1541h0M476.5 1543.2h0M484.5 1542.1h0M496.2 1539.3h0M504 1539.9h0M512.4 1537.7h0M521.5 1539.7h0M528.7 1540.3h0M536.7 1539.2h0M543.1 1537.6h0M550.8 1537.9h0M561 1541.5h0M566.4 1543.3h0M606.5 1541h0M380.5 1545.4h0M385.9 1549.3h0M396.7 1550.2h0M400.6 1545.6h0M408.5 1548.7h0M420.3 1548.2h0M428.6 1547.5h0M435.2 1549.9h0M443.8 1548.3h0M451.4 1547.3h0M460.4 1547.8h0M464.6 1546.9h0M474.4 1547h0M483.2 1546.5h0M490.2 1546.9h0M504.4 1544.5h0M516.2 1546.7h0M522.6 1547.9h0M530.1 1545.8h0M536 1549.6h0M549.5 1546.1h0M554.7 1546.3h0M560.2 1549.7h0M613 1545h0M401.3 1553.8h0M409.4 1552.8h0M417.7 1554.4h0M424 1553.6h0M429.5 1552.1h0M441.2 1553.4h0M517.6 1553h0M526 1556h0M536.6 1555.5h0M545.2 1555.2h0M548.6 1551.6h0M556.9 1552.8h0M405.4 1562.8h0M411.1 1562.9h0M419.3 1558.9h0M548.4 1561.5h0M554.1 1559.9h0M556.5 1565.2h0M562.1 1572.8h0M457.8 1545.1h0M800.3 1202.9h0M731.1 1242.7h0M763.4 1329.7h0M732.9 1271.1h0M449.2 1407.3h0M610.3 1299.3h0M717.4 1376.1h0M642 1515.1h0M718.7 1326.5h0M666.7 1289.1h0M479.4 1542.3h0M579.3 1541.2h0M612.9 1299.6h0M739.4 1248.6h0M387.3 1482.8h0M460.5 1406h0M644.3 1511.9h0M593.5 1318.9h0M750.4 1207.7h0M781.9 1396.7h0M613.8 1545.8h0M732.4 1298.2h0M589.9 1330.7h0M767 1277h0M616.9 1536.4h0M512.7 1560.4h0M813.8 1193.3h0M715.5 1236.7h0M724 1352h0M524.6 1556.1h0M512.6 1548.2h0M524.7 1564h0M383.9 1492.6h0M528.5 1384.2h0M561.3 1347.7h0M785.6 1293.4h0M360.9 1537.7h0M614 1533.9h0M768.3 1208h0M395.7 1458.7h0M613.8 1536.6h0M772.9 1386h0M495.1 1546.7h0M577.2 1533.4h0M728.8 1286.6h0M824.3 1186.9h0M715.4 1375.9h0M426.1 1552h0M631.1 1514.6h0M471.2 1415.9h0M486.4 1548.9h0M565.1 1573.8h0M568.5 1565.9h0M759 1275h0M740.2 1412.4h0M716.1 1405h0M744 1302.3h0M638.8 1540.8h0M519.4 1375.2h0M713.1 1325.4h0M420.2 1432.5h0M517.4 1363.8h0M786.6 1293.3h0M554.7 1578.3h0M720.9 1246h0M523.1 1386.8h0M737.1 1332.1h0M724.1 1407.8h0M730.5 1437.2h0M802.6 1208.4h0M744.3 1219.9h0M714.3 1329.6h0M701.7 1254.2h0M349.5 1535h0M356.6 1495.4h0M563.3 1345h0M626.5 1300.7h0M810.7 1177.1h0M605.7 1310.6h0M570 1568h0M812.6 1179.2h0M771.3 1213.8h0M808.7 1197.8h0M568.9 1350.7h0M789.8 1295.1h0M701.5 1260.8h0M776.2 1178.6h0M704.9 1313.3h0M766.4 1283.4h0M592.6 1325.9h0M790.4 1201h0M694.4 1487.8h0M744 1305h0M607.5 1318.8h0M726.9 1369.6h0M734.7 1327.2h0M735.4 1329.6h0M616.9 1556.6h0M371.6 1541.2h0M707.4 1469.7h0M722.8 1346.2h0M601.2 1322.5h0M341.3 1543h0M763 1321.9h0M771.1 1196.6h0M615.1 1306.3h0M355 1521.1h0M801.3 1175h0M762.2 1226.1h0M769.4 1300.3h0M741.4 1249.3h0M539.7 1361.1h0M706.2 1376.2h0M742.5 1342.1h0M502.7 1394h0M585.1 1541.1h0M771.8 1352.5h0M363 1544.5h0M642.4 1289.2h0M764.2 1349.5h0M727.2 1251.8h0M771.1 1343.7h0M668.9 1504.7h0M757.7 1223.3h0M398.4 1438.3h0M720 1356.7h0M379.1 1545.5h0M723 1456.3h0M697.8 1323.2h0M447.5 1559.7h0M768.2 1360.2h0M767.4 1211.2h0M474.4 1546.1h0M785.6 1207.5h0M372.2 1547.4h0M740.4 1216.8h0M707.8 1467h0M720.3 1362.2h0M533.5 1364.5h0M657.1 1278.3h0M609.1 1314.9h0M514.3 1555.1h0M476.3 1550.5h0M607.6 1304.4h0M345.5 1518h0M750.4 1285.7h0M637.9 1524.6h0M610.9 1317.4h0M729.5 1225.8h0M611.2 1308.5h0M423.7 1420.9h0M708.1 1477.3h0M617.8 1558.3h0M760.7 1382h0M570.9 1552.8h0M761.9 1268.5h0M552.1 1355.4h0M786.3 1294.6h0M567.6 1578.2h0M781.9 1382.2h0M767.2 1388.6h0M709.6 1324h0M618.2 1554h0M726.4 1453.5h0M346.9 1530h0M805.2 1267.2h0M734.3 1247.9h0M727.6 1351h0M762.6 1346.4h0M484.2 1545.2h0M629.8 1293.9h0M392.4 1465.7h0M732.2 1219.3h0M640.3 1514.8h0M707.3 1250.7h0M732.6 1264.2h0M826.1 1194.8h0M385.2 1547h0M784.9 1279.8h0M629.6 1296.6h0M739.9 1241.2h0M644.6 1519.6h0M551.2 1575.8h0M600.1 1317.1h0M724.2 1358.8h0M548.2 1351h0M685.7 1496h0M714 1453h0M754.1 1401.3h0M550.9 1348.3h0M406.1 1439.5h0M728.7 1334.4h0M801.9 1374.5h0M558.5 1552.6h0M745.3 1289.2h0M719.2 1456.5h0M674.9 1271.6h0M736 1252.3h0M716.9 1448h0M607.9 1314.9h0M732.7 1351.8h0M716.7 1248.3h0M729.4 1427.1h0M720 1330.6h0M591.4 1544.1h0M725.8 1445.3h0M535.6 1359.3h0M678.3 1496.2h0M655.8 1506.2h0M706.8 1372.5h0M751.9 1216.3h0M535.4 1363.9h0M418.7 1566.8h0M746.1 1207.9h0M568.8 1539.2h0M751.5 1331.2h0M601.6 1309.4h0M388.8 1548.1h0M713.4 1453.7h0M421.9 1566.7h0M476.1 1552h0M376.5 1550.7h0M778.2 1181.5h0M611.3 1546.6h0M606.4 1316.3h0M519.9 1381.1h0M404.7 1433.4h0M568.4 1550.8h0M729.2 1436.1h0M369.7 1542.3h0M770.7 1331.8h0M787.1 1181h0M723.8 1355h0M821.2 1188.9h0M768.2 1246.9h0M729.2 1252.8h0M373 1452.3h0M718 1329.4h0M728.3 1258.8h0M658.4 1277.6h0M730.1 1451h0M475.9 1542.5h0M764.1 1251.1h0M351.9 1506.3h0M609.4 1308.1h0M515.7 1556.6h0M601.3 1541h0M553.2 1339.8h0M368.1 1549.8h0M483.8 1408.6h0M703.4 1265.1h0M542.6 1356.8h0M401.4 1473.1h0M439 1550.7h0M748.8 1223h0M644.3 1284.2h0M707.1 1388.2h0M549.7 1564.5h0M768.5 1309h0M798.8 1202.9h0M676.9 1270.9h0M583.3 1540.3h0M790.9 1269.6h0M576.3 1347.6h0M615.6 1537.9h0M518.5 1371.4h0M783.4 1252.8h0M773.2 1271.2h0M739.1 1248.2h0M577.6 1335.8h0M758.6 1198.6h0M716.2 1467.1h0M766.6 1314.1h0M741.2 1220.5h0M563.7 1341.9h0M551.9 1350h0M676.7 1264.5h0M363.7 1548.1h0M521.1 1396.5h0M745.2 1240.8h0M400.3 1558.2h0M636.8 1300.1h0M419.4 1436h0M654 1280.7h0M591.7 1333.4h0M726.5 1230.2h0M744.5 1341.4h0M716.7 1293h0M799.6 1242.6h0M731.1 1234.7h0M472.1 1404.7h0M797.7 1180h0M446.6 1557.9h0M516.2 1560.3h0M377.4 1552.9h0M721.1 1359.7h0M699.2 1326.1h0M786.5 1252.3h0M524.1 1387.6h0M792.6 1210.8h0M782 1400.2h0M788.1 1264.3h0M491.5 1549.4h0M776.6 1298h0M736 1295.4h0M619.3 1304.8h0M715.6 1458.2h0M401.4 1462.2h0M346.4 1532.6h0M817 1179.4h0M788.7 1368.6h0M394.1 1457.2h0M414 1556.5h0M526.8 1560.6h0M634.6 1302.1h0M367 1539.7h0M475.5 1403.2h0M729.8 1413.3h0M774 1388.5h0M433.5 1424.4h0M831.7 1199.9h0M801.5 1176.8h0M412 1442.7h0M398.1 1448.9h0M616.1 1552.3h0M640.3 1289.5h0M682.4 1506.2h0M446.1 1414.1h0M617.3 1542.2h0M772.6 1265.2h0M523.8 1550.8h0M586.8 1531.3h0M356.1 1527.4h0M792.4 1373h0M468.2 1410h0M571.2 1544.2h0M462.3 1544.8h0M432.7 1563.8h0M763 1329h0M725.4 1435.3h0M813.1 1174.9h0M729.7 1436.2h0M769.9 1367.3h0M775 1271.7h0M631.8 1299.2h0M467.5 1414.2h0M480.8 1545.9h0M788.6 1179.5h0M743.9 1327.9h0M529.5 1370.1h0M434.4 1413.4h0M799.4 1201h0M688.1 1501.9h0M744.5 1299.5h0M383.1 1448.4h0M560.9 1354.3h0M727.4 1261.9h0M734.6 1405.6h0M451.4 1560.1h0M773.6 1350.9h0M377.2 1451.6h0M768.8 1365.3h0M385.7 1448.5h0M491.6 1549.4h0M716.6 1298.1h0M622.3 1530.5h0M790.6 1201.1h0M792 1268.1h0M480.5 1397h0M788.1 1279h0M518.6 1552.1h0M402 1438.5h0M472.5 1546.5h0M495.8 1554.3h0M789 1208.5h0M436 1418h0M680.7 1500.9h0M534.5 1358.7h0M439.8 1553.6h0M721.7 1291h0M532.5 1566.4h0M761.7 1362.6h0M586.9 1531.9h0M774.9 1204.8h0M756.8 1248.6h0M517.4 1363.8h0M703.4 1388.3h0M780.7 1263.2h0M578.6 1533h0M347.2 1507.6h0M782.1 1395.1h0M792.1 1207.8h0M715.5 1336.7h0M597.2 1544.7h0M448.1 1401.1h0M571.7 1547.6h0M561.8 1351.2h0M352.3 1536.6h0M567.1 1556.9h0M567.1 1582.3h0M549.7 1572.7h0M646 1289.7h0M727.7 1338.1h0M525.1 1552.7h0M377.5 1493.6h0M369.2 1541.3h0M761.9 1192.3h0M778.6 1373.2h0M441.7 1417.6h0M535 1555.3h0M712.5 1377.6h0M345.6 1500.5h0M422.4 1554.7h0M677.2 1500.2h0M796.9 1276.3h0M363.2 1495.7h0M775.1 1188.7h0M597.4 1316.3h0M739.4 1335.9h0M672.6 1270.6h0M732.5 1440.7h0M710 1291.9h0M735.9 1436.2h0M779.8 1387.6h0M765.6 1218.7h0M433.5 1415.5h0M715.6 1367.3h0M375.9 1485.1h0M768.6 1274.1h0M764 1200.7h0M524.2 1559.8h0M547.4 1564h0M731.5 1366.8h0M503 1555.7h0M779.1 1214.7h0M778.2 1264h0M731.4 1224.2h0M623.6 1529.4h0M773.6 1387.9h0M759.1 1376.3h0M365.5 1456.1h0M762.2 1276h0M700.5 1259.6h0M578.4 1535h0M440.5 1409.3h0M689.4 1486.2h0M763.3 1398.1h0M710.2 1303.1h0M632.1 1513.7h0M669.9 1507.8h0M494.8 1408.6h0M646.3 1281.8h0M348.3 1521.1h0M521.1 1383.7h0M722 1351.4h0M490 1404.6h0M538.5 1562.6h0M669.9 1266.6h0M434.2 1426.9h0M387.3 1463.1h0M742.1 1414.7h0M547.6 1345.1h0M732.7 1449.9h0M392.6 1564h0M528.2 1383.1h0M717.6 1249.1h0M744.4 1306.4h0M715.7 1473.6h0M515.6 1388.2h0M526.4 1380.4h0M775.1 1196.3h0M719.4 1298.7h0M348.6 1536.8h0M681.6 1279.1h0M387.7 1451.5h0M384.1 1551h0M726.3 1274.8h0M777.4 1267.9h0M370.4 1453h0M455.2 1402.3h0M478.2 1550h0M671.4 1285.5h0M407.3 1442.6h0M742.8 1330.6h0M763.4 1360.4h0M537.2 1555.5h0M617.4 1303.8h0M557.7 1548.8h0M705.3 1478.4h0M422 1433.2h0M403.6 1479.3h0M718.7 1330h0M693.6 1311.9h0M515.6 1394.3h0M798.2 1249.9h0M400.1 1452.5h0M403.2 1445h0M769.7 1182.4h0M677.2 1269.8h0M779.9 1205.9h0M557.1 1351.9h0M374.6 1487.8h0M510.1 1402.5h0M701 1321.7h0M772.4 1252.8h0M529 1372.8h0M589.2 1537.5h0M739.3 1216.5h0M344.1 1508.4h0M734.5 1329.2h0M586 1328.8h0M765.3 1386h0M701.6 1304.8h0M571.8 1341.4h0M737 1235.6h0M811.9 1174.8h0M701.4 1269.2h0M713.7 1379.5h0M547.8 1574.2h0M753.2 1325.1h0M678.4 1500.2h0M726.5 1237.1h0M562.2 1567.3h0M362.4 1547.8h0M702.7 1303.1h0M396.7 1441.6h0M773.5 1352.3h0M381.3 1552.7h0M742.1 1221.9h0M736 1253h0M520.7 1376h0M739.8 1296h0M795.2 1240.7h0M630.7 1289.6h0M567.3 1579.4h0M739.7 1404.4h0M794 1180h0M793 1206.9h0M778.4 1294.6h0M787.9 1281.5h0M741.5 1282.4h0M438.4 1552.7h0M608.1 1304.5h0M622.2 1534h0M743.3 1234h0M763.5 1375.7h0M635.9 1289.5h0M621.1 1304.7h0M361.8 1538.5h0M633.6 1515.1h0M675.6 1512.8h0M684.5 1267.1h0M670.7 1500.9h0M759.6 1238.4h0M442.6 1550h0M493.3 1547h0M790.2 1382.7h0M780 1362.1h0M617.3 1311.8h0M704.3 1320.8h0M667 1278.9h0M611 1552.9h0M344.8 1521.2h0M568.8 1557.6h0M759.6 1276.8h0M722.7 1402.6h0M396.9 1471.2h0M706.5 1378.3h0M501.3 1550.8h0M789.7 1255.1h0M812.5 1185.4h0M470.2 1555.8h0M745.1 1318.8h0M670.4 1270.8h0M735.9 1448.8h0M605.1 1318h0M352.7 1511.7h0M516.6 1375.6h0M672.3 1504.3h0M731.2 1239.7h0M791 1252.7h0M777.4 1363h0M749.5 1281.7h0M715.4 1449.5h0M703.2 1327.5h0M457.7 1406.1h0M484 1396.2h0M522.3 1388.8h0M702.8 1333.1h0M567.7 1347.9h0M631.2 1298.7h0M593.2 1327.4h0M749.8 1400.8h0M799.9 1373.5h0M814.1 1203h0M760.6 1358.9h0M592.3 1322.9h0M767.7 1264.3h0M602 1326.9h0M753.2 1313.2h0M583.5 1338.2h0M392.2 1489.1h0M765.3 1352h0M693.1 1268.7h0M693.9 1314.5h0M363.6 1498.4h0M739.9 1299.3h0M642.2 1518.7h0M537.9 1569.6h0M699.2 1305.8h0M554.3 1574.7h0M557.8 1576.8h0M354 1539.8h0M613 1306.6h0M574.5 1340.5h0M724.8 1279.3h0M647.9 1295h0M746.5 1215.1h0M704.4 1393.7h0M806 1177.4h0M649.7 1513.4h0M485.2 1396h0M732.9 1446h0M732.1 1283.9h0M780.4 1390.9h0M703.3 1392.4h0M766.5 1308.9h0M749 1317.7h0M696.8 1475h0M788.7 1180.2h0M742.8 1236.5h0M611.8 1296.9h0M656 1507.4h0M603.1 1543.1h0M716.3 1450.8h0M389.7 1561.6h0M690.5 1496h0M385.5 1560.2h0M387 1456.6h0M776.1 1299.9h0M341.1 1545.2h0M573.8 1341.8h0M476 1409.9h0M761.2 1282.5h0M773.1 1268.4h0M258.5 1627.2h0M268.6 1607.7h0M283.8 1586.9h0M290.3 1578.7h0M295.2 1574.7h0M312.4 1562.1h0M319 1547.1h0M318.8 1544.8h0M334.2 1550.6h0M350.1 1553.9h0M384.9 1570.8h0M397.1 1582.7h0M401.8 1578.2h0M376.1 1579.2h0M375.9 1601.6h0M377 1602.5h0M376.1 1603.9h0M356.8 1613.9h0M356.7 1617.3h0M358 1616.7h0M335.9 1629.3h0M333.1 1633.7h0M326.5 1634.6h0M297 1630.6h0M260.4 1629.9h0M261.2 1629.4h0M288.1 1587.6h0M335.9 1600.8h0M370.3 1584.5h0M331 1562.8h0M341.7 1572.4h0M286.2 1588.4h0M285.4 1596.5h0M285.7 1593.9h0M280 1596.4h0M343.5 1555.3h0M339 1575.1h0M321.5 1559.6h0M279.2 1609.8h0M356.1 1562h0M293.8 1599.6h0M265.5 1617.4h0M339.9 1560.1h0M373.1 1600.3h0M322.6 1570.1h0M300.9 1606.2h0M366.2 1564.6h0M324.7 1566.6h0M277.4 1600.9h0M369.2 1583.8h0M371.2 1576.5h0M284.9 1611h0M297.1 1582.5h0M297.9 1582.8h0M362.9 1583.5h0M356.2 1587h0M367.4 1568.3h0M359.2 1592.9h0M366.5 1562.4h0M274.7 1614.4h0M312.5 1572.4h0M363 1599.8h0M288.6 1597.9h0M334.2 1553h0M308 1596.5h0M301.1 1585.6h0M318.7 1570.6h0M311.7 1573.1h0M373.9 1571.9h0M343.6 1588.2h0M338.5 1554.4h0M346.2 1558.6h0M345.9 1585.6h0M297.1 1595.9h0M322.4 1574.8h0M347.1 1574.5h0M359.2 1603.1h0M376.6 1568h0M299.6 1578.8h0M298.2 1614.9h0M333.8 1627.4h0M355.7 1573.6h0M375.6 1577.6h0M279.4 1607.3h0M316.5 1597.5h0M288.9 1581.2h0M309.6 1593.7h0M357.1 1608.3h0M357.2 1608.6h0M353.5 1598.7h0M282 1611.9h0M338 1595.6h0M310 1580.1h0M305.5 1588.9h0M333.2 1561.9h0M283.9 1602.5h0M326.3 1574.3h0M334.4 1574.8h0M303.9 1587.4h0M292.5 1588h0M279.9 1610.4h0M295.2 1596h0M291.3 1592.4h0M325.2 1614h0M294.2 1591.7h0M325.8 1575.3h0M343.6 1598.3h0M347.4 1556.6h0M355.3 1593.9h0M308.4 1587.7h0M339.8 1560.6h0M351.9 1602.4h0M333.4 1569.6h0M294.4 1604.7h0M352 1589h0M298 1578.8h0M339.9 1595.6h0M322.2 1559.2h0M226.8 1646h0M235.4 1645h0M238.2 1651.7h0M252.6 1650.8h0M254.5 1656.5h0M270.7 1658.4h0M276.5 1664.1h0M285.1 1691.9h0M316.3 1668h0M302.7 1650.8h0M321.4 1650.8h0M222 1669.9h0M230.6 1675.6h0M235.4 1675.6h0M214.3 1675.6h0M276.5 1641.2h0M284.1 1646.9h0M362.5 1606.8h0M377.8 1603h0M356.8 1618.3h0M472.6 1564.1h0M520.1 1534h0M527.1 1533.2h0M556.9 1542.6h0M564.9 1548.2h0M574.2 1560.4h0M575.5 1572.2h0M574.6 1579.8h0M570.1 1584h0M539 1605.4h0M532.7 1609.5h0M509.2 1613.3h0M489 1621.1h0M487.3 1615.9h0M467.9 1598.9h0M467.8 1595.6h0M474.1 1592.3h0M488.8 1588.6h0M505.8 1604h0M506.2 1602.7h0M535.2 1543.7h0M544.4 1576.7h0M525.8 1548.4h0M474.5 1596.4h0M556.3 1587.8h0M556 1589.3h0M509.5 1601.3h0M566.3 1552.7h0M495.4 1601.7h0M549.3 1569.3h0M532.3 1565.2h0M550.2 1590.2h0M541.7 1556.1h0M480.6 1593.7h0M516 1560h0M552.2 1586.7h0M476.4 1594.5h0M555.9 1583.8h0M508.1 1555.5h0M544.1 1561.1h0M559.1 1556.8h0M526.6 1536.6h0M483.1 1593.9h0M498.9 1601.4h0M503.6 1562.5h0M561.7 1584.1h0M511.1 1605.8h0M541.8 1601h0M541.8 1548.2h0M545.9 1553.2h0M520 1602.5h0M554.9 1583.8h0M561.8 1561.5h0M530 1605.1h0M519.9 1544.1h0M521.4 1560.5h0M553.5 1556.3h0M489.7 1599.3h0M551.4 1550.4h0M572.1 1577.7h0M497.1 1600.3h0M549.8 1544.3h0M534.2 1557.7h0M502.1 1558.4h0M521.2 1535.2h0M572.6 1567.5h0M521.2 1558.4h0M544.7 1563.7h0M519.8 1567.7h0M551.7 1578.5h0M510 1605.8h0M546.5 1593.4h0M561.7 1581.6h0M509.2 1550.9h0M504.4 1601.3h0M560.3 1563.7h0M512.3 1591.5h0M274.6 1727.2h0M288 1734.9h0M297.5 1732h0M306.1 1732h0M313.8 1702.4h0M326.2 1696.7h0M330 1704.3h0M345.3 1696.7h0M351.1 1719.6h0M359.7 1686.1h0M362.5 1698.6h0M366.3 1708.1h0M370.2 1672.8h0M381.6 1687.1h0M383.6 1658.4h0M384.5 1671.8h0M387.4 1698.6h0M395 1698.6h0M399.8 1651.7h0M404.6 1671.8h0M416.1 1638.3h0M416.1 1655.5h0M422.8 1668.9h0M431.4 1652.7h0M439 1668h0M442.8 1676.6h0M442.8 1648.9h0M454.3 1648.9h0M442.8 1619.2h0M452.4 1609.7h0M454.3 1629.7h0M462 1620.2h0M465.8 1635.5h0M493.5 1640.2h0M503.1 1633.6h0M467.7 1593.4h0M469.6 1601.1h0M481.1 1610.6h0M486.8 1622.1h0M492.5 1589.6h0M498.3 1603h0M505.9 1591.5h0M509.8 1612.5h0M517.4 1599.1h0M530.8 1610.6h0M544.2 1604.9h0M551.8 1591.5h0M546.1 1580h0M515.5 1572.4h0M523.1 1564.7h0M509.8 1564.7h0M525 1534.1h0M536.5 1541.8h0M549.9 1564.7h0M553.7 1557.1h0M565.2 1587.7h0M574.8 1581.9h0M575.7 1564.7h0M570.9 1572.4h0M561.4 1541.8h0M830.4 1223.4h0M833.7 1158.4h0M839 1147.9h0M864.8 1162.2h0M873.4 1171.8h0M865.8 1135.4h0M872.5 1145h0M883 1135.4h0M875.3 1118.2h0M894.5 1102.9h0M902.1 1120.2h0M905 1136.4h0M902.1 1150.7h0M915.5 1101h0M928.9 1095.3h0M934.6 1097.2h0M930.8 1102h0M911.7 1106.8h0M897.7 1290.3h0M859.1 1296.1h0M869.6 1296.1h0M880.1 1303.7h0M844.7 1307.5h0M840.9 1311.4h0M865.8 1315.2h0M862 1320.9h0M848.6 1326.7h0M831.4 1326.7h0M819.9 1330.5h0M850.5 1336.2h0M831.4 1342h0M819.9 1343.9h0M804.6 1328.6h0M806.5 1338.1h0M772.1 1343.9h0M783.6 1340h0M787.4 1357.2h0M810.3 1368.7h0M802.7 1374.5h0M791.2 1239.7h0M800.8 1238.7h0M798.9 1250.2h0M789.3 1252.1h0M808.4 1263.6h0M791.2 1269.3h0M783.6 1263.6h0M808.4 1271.2h0M795 1290.3h0M789.3 1299.9h0M779.7 1309.4h0M775.9 1324.7h0M766.3 1328.6h0M810.5 1370.6h0M802.8 1375.4h0M787.5 1357.2h0M787.5 1408.8h0M667.5 1531.6h0M651.8 1519.7h0M642.2 1550.3h0M619.3 1561.8h0M575.3 1563.7h0M571.5 1586.7h0M850.6 1341.9h0M827.7 1343.8h0M808.6 1341.9h0M772.2 1343.8h0M667.3 1531.4h0"/>
<line class="d" x1="215.5" y1="1774.5" x2="1100.3" y2="1028.3"/>
<text transform="translate(215.5 1842.5) scale(1 1.04)" text-anchor="middle">302</text>
<text transform="translate(189 1791.4) scale(1 1.04)" text-anchor="end">302</text>
<text transform="translate(341.9 1842.5) scale(1 1.04)" text-anchor="middle">304</text>
<text transform="translate(189 1684.8) scale(1 1.04)" text-anchor="end">304</text>
<text transform="translate(468.3 1842.5) scale(1 1.04)" text-anchor="middle">306</text>
<text transform="translate(189 1578.2) scale(1 1.04)" text-anchor="end">306</text>
<text transform="translate(594.7 1842.5) scale(1 1.04)" text-anchor="middle">308</text>
<text transform="translate(189 1471.6) scale(1 1.04)" text-anchor="end">308</text>
<text transform="translate(721.1 1842.5) scale(1 1.04)" text-anchor="middle">310</text>
<text transform="translate(189 1365) scale(1 1.04)" text-anchor="end">310</text>
<text transform="translate(847.5 1842.5) scale(1 1.04)" text-anchor="middle">312</text>
<text transform="translate(189 1258.4) scale(1 1.04)" text-anchor="end">312</text>
<text transform="translate(973.9 1842.5) scale(1 1.04)" text-anchor="middle">314</text>
<text transform="translate(189 1151.8) scale(1 1.04)" text-anchor="end">314</text>
<text transform="translate(1100.3 1842.5) scale(1 1.04)" text-anchor="middle">316</text>
<text transform="translate(189 1045.2) scale(1 1.04)" text-anchor="end">316</text>
<text transform="translate(658.2 1910.3) scale(1 1.04)" text-anchor="middle" class="ax">L8 LST (K)</text>
<text transform="translate(75.8 1399.9) rotate(-90) scale(1 1.04)" text-anchor="middle" class="ax">ESTARFM LST (K)</text>
<text transform="translate(229.7 1088.9) scale(1 1.04)">RMSE = 1.51 K</text>
<text transform="translate(245.2 1155.5) scale(1 1.04)">MAE = 1.30 K</text>
<text transform="translate(291.4 1232.3) scale(1 1.04)">R<tspan class="sup" dy="-21.8">2</tspan><tspan dy="21.8"> = 0.59</tspan></text>
<text transform="translate(927.3 1233.8) scale(1 1.02)" class="sm">1:1 line</text>
<text transform="translate(735 1736.1) scale(1 1.04)">(c) 20210603</text>
</g>
<g id="panel-d">
<rect class="fr" x="1353.3" y="1027" width="885.5" height="746.3"/>
<path class="tk" d="M1353.3 1773.3v15.3M1353.3 1773.3h-16.3M1530.4 1773.3v15.3M1353.3 1624h-16.3M1707.5 1773.3v15.3M1353.3 1474.8h-16.3M1884.6 1773.3v15.3M1353.3 1325.5h-16.3M2061.7 1773.3v15.3M1353.3 1176.3h-16.3M2238.8 1773.3v15.3M1353.3 1027h-16.3"/>
<clipPath id="clip-d"><rect x="1353.3" y="1027" width="885.5" height="746.3"/></clipPath>
<path class="p" clip-path="url(#clip-d)" d="M1617.3 1580.8h0M1623.4 1547.9h0M1611.4 1510.3h0M1611.6 1498.4h0M1579.2 1477h0M1578 1474.3h0M1579.6 1465.2h0M1584.3 1460.4h0M1599.2 1437.4h0M1602.6 1433.4h0M1604.1 1433.7h0M1609.2 1438h0M1626.2 1416.9h0M1619.4 1412.4h0M1620.8 1412.4h0M1621.4 1395.6h0M1620.9 1397.8h0M1622.2 1401.4h0M1640.4 1384.8h0M1641.5 1383.2h0M1664.9 1375.9h0M1669 1372.5h0M1678.7 1357.9h0M1679.1 1357.5h0M1691.9 1345.4h0M1692.7 1343.1h0M1716.7 1328.4h0M1719.8 1323.9h0M1721.6 1322.3h0M1741.8 1318.1h0M1747 1312.5h0M1753.2 1293.6h0M1753.7 1292.7h0M1753.7 1292.5h0M1768.2 1272.6h0M1771.4 1271.5h0M1784.4 1261.8h0M1806.2 1264.4h0M1825.5 1254.5h0M1831.2 1248.7h0M1838.1 1241.8h0M1844.4 1237.9h0M1846.2 1236h0M1856.4 1243.1h0M1861.8 1247.6h0M1878.8 1259.2h0M1882.8 1266.7h0M1892.8 1276.4h0M1890.9 1277h0M1887.2 1280.1h0M1870.1 1286.7h0M1867.9 1289.2h0M1848 1290h0M1837 1302.4h0M1815.5 1328h0M1817.7 1346.8h0M1820.2 1359.6h0M1820.6 1362.2h0M1803 1380.2h0M1805.3 1384.7h0M1800.8 1386.4h0M1820.4 1405.4h0M1824.2 1408.4h0M1825.7 1410.4h0M1832.5 1432h0M1837.3 1434.7h0M1835.6 1436.6h0M1835.9 1437.7h0M1806.9 1450.8h0M1813.7 1468.4h0M1815 1467.5h0M1814.4 1466.3h0M1795.7 1474.5h0M1793.1 1477.8h0M1753.2 1499.9h0M1751.5 1521.5h0M1753.2 1526.6h0M1752.1 1528.3h0M1748.5 1527.6h0M1726.6 1530.6h0M1719.6 1534.1h0M1716.7 1537h0M1693.9 1549.8h0M1688.4 1565.9h0M1693.8 1568h0M1682.9 1577h0M1652.5 1598.6h0M1655.9 1619.8h0M1657.6 1621.6h0M1656.2 1622.6h0M1649.8 1648.9h0M1663.6 1673.3h0M1663.9 1674.8h0M1663.8 1679.3h0M1660.9 1682.2h0M1646.3 1704.8h0M1636.5 1734.7h0M1632.3 1742.5h0M1625.6 1749.1h0M1621.7 1754.5h0M1607.2 1758h0M1590.6 1756.1h0M1588.2 1753.9h0M1587 1749.9h0M1591.8 1738.3h0M1591.8 1720h0M1591.6 1720h0M1606.1 1702.3h0M1608 1701.6h0M1608.9 1678.4h0M1607 1676.5h0M1608 1651.3h0M1609.8 1644.2h0M1603.1 1613.8h0M1603.4 1610h0M1608.2 1605.7h0M1617.6 1582.5h0M1842.8 1251.5h0M1848.7 1252.8h0M1836.7 1262.2h0M1842.3 1262.4h0M1855.2 1258.2h0M1825 1267.7h0M1802.7 1275.6h0M1813.4 1272.8h0M1823 1275.7h0M1826.4 1277.3h0M1787.5 1282.8h0M1791.4 1283.8h0M1800.5 1282.3h0M1810 1278.7h0M1818.3 1282.6h0M1824.6 1281.8h0M1778.5 1288.3h0M1786.8 1286.8h0M1794.7 1288h0M1802.6 1285.8h0M1810.3 1286.6h0M1820.6 1285.9h0M1825.8 1288.3h0M1774.7 1297h0M1786 1297.5h0M1793 1298.1h0M1799.8 1295h0M1807 1297.2h0M1816.5 1294.1h0M1822.7 1296.8h0M1773.5 1304h0M1782.9 1301.5h0M1789.3 1302.1h0M1794.3 1304.5h0M1805.2 1304.3h0M1810.9 1302.7h0M1771.5 1312.3h0M1778.9 1308.6h0M1782.6 1308.2h0M1792.4 1309.5h0M1800.9 1308.5h0M1810.8 1308.1h0M1767.6 1316.6h0M1772.1 1315.4h0M1780.4 1318.1h0M1788.4 1319.1h0M1794.6 1315.2h0M1804.8 1315.8h0M1755.6 1324.3h0M1761.5 1321.1h0M1766 1324.8h0M1774.7 1321.4h0M1786.6 1325.5h0M1789.9 1326h0M1800.8 1322.5h0M1806.3 1322.6h0M1748.7 1329.4h0M1755.5 1329.3h0M1765.2 1333h0M1775.3 1332.3h0M1782.7 1328.9h0M1791.5 1328.8h0M1794.4 1330.2h0M1728.3 1338.2h0M1734.4 1339.4h0M1743.9 1336.9h0M1755 1335.8h0M1758.8 1339h0M1769.2 1334.6h0M1773.8 1336.2h0M1781.7 1339.1h0M1790.7 1335.7h0M1800 1337.2h0M1734.9 1342.3h0M1742.6 1346.6h0M1746.4 1346.5h0M1756 1342.3h0M1762.8 1341.2h0M1772.6 1343.3h0M1782.7 1346h0M1786 1343.4h0M1796 1342.1h0M1718.2 1352.5h0M1729 1349.8h0M1739 1353.2h0M1744.9 1353.9h0M1754.7 1352.4h0M1759.4 1348h0M1769.7 1352.4h0M1775.7 1350.8h0M1785 1349.4h0M1793.8 1351.3h0M1800 1348.6h0M1709.6 1356.5h0M1716.7 1357.1h0M1726.9 1359.3h0M1732.7 1359h0M1740.2 1359.7h0M1747.2 1358.1h0M1757.2 1357.2h0M1761.9 1355.9h0M1773.5 1356.1h0M1798 1357.1h0M1696.4 1366.6h0M1703.7 1363.2h0M1712.1 1362.4h0M1719.5 1365.2h0M1728.9 1365.4h0M1735.4 1361.9h0M1741.8 1363.8h0M1750.8 1365.2h0M1759.2 1366.4h0M1769.2 1365.8h0M1701.7 1374.3h0M1708.2 1373h0M1717 1371.1h0M1724.4 1372.3h0M1729.8 1370.6h0M1742.1 1370.3h0M1748.5 1370.3h0M1755.8 1372.6h0M1691.3 1377.4h0M1698.8 1381.1h0M1704.3 1376.5h0M1710.9 1380.6h0M1720.2 1377.5h0M1728.3 1381.2h0M1735.2 1375.8h0M1747.3 1377.6h0M1752 1381.5h0M1759.3 1376.2h0M1675.6 1383.3h0M1683.5 1385.8h0M1692.1 1384.6h0M1699.4 1385.5h0M1710.3 1385.2h0M1718.2 1385.5h0M1722.4 1383.6h0M1734.7 1385.5h0M1739.9 1385.7h0M1750.7 1384.8h0M1755.8 1384.8h0M1761.7 1385.8h0M1654.9 1393.7h0M1666.1 1393.2h0M1674.2 1393.7h0M1677.7 1390.7h0M1688.9 1395.3h0M1694.9 1393h0M1702.4 1394.6h0M1712.3 1392.6h0M1721.7 1390.3h0M1730 1394.3h0M1738.8 1391.2h0M1743 1390.5h0M1755 1392.1h0M1760 1392.6h0M1769.8 1391.4h0M1775.7 1394.1h0M1655.4 1399.2h0M1661 1398.2h0M1669.6 1401.3h0M1677.7 1396.4h0M1684.3 1399.4h0M1689.9 1401.2h0M1699.6 1398.2h0M1709.4 1399.9h0M1716.6 1401.6h0M1724.8 1398.5h0M1730 1399.8h0M1739.8 1399.7h0M1747.7 1396.5h0M1753.9 1397.4h0M1762.2 1401.5h0M1773.1 1397.9h0M1658.1 1408.9h0M1665.8 1405.5h0M1672.7 1407.9h0M1682.5 1405.6h0M1687.8 1407.1h0M1695 1408.7h0M1701.6 1407.3h0M1712.6 1404.5h0M1721.1 1406.2h0M1731.4 1408.7h0M1737.2 1408.6h0M1746.9 1404.4h0M1754.6 1408.4h0M1763.6 1407.9h0M1768 1404.6h0M1777.6 1404.6h0M1651.5 1414h0M1658.4 1413.4h0M1667.2 1415.9h0M1678.5 1413.1h0M1686.2 1412.6h0M1692.8 1411.3h0M1702.8 1414.9h0M1710.2 1410.8h0M1718.6 1410.4h0M1725 1413.2h0M1730 1412.8h0M1743 1414h0M1747.5 1415.2h0M1755.8 1415.7h0M1764 1410.8h0M1775.5 1410.7h0M1779.2 1414.9h0M1646.2 1419.3h0M1658.9 1420.2h0M1662.6 1418.6h0M1673.5 1418.9h0M1683 1417.6h0M1690.9 1421h0M1698.6 1419.3h0M1702.1 1418.3h0M1713.4 1417.4h0M1718.3 1421.9h0M1730.9 1422.4h0M1738.7 1420.6h0M1746.9 1421.4h0M1753 1419.8h0M1757.8 1417.8h0M1767.1 1420h0M1774.4 1423h0M1785.1 1421.7h0M1655.6 1427.9h0M1662.8 1429.1h0M1669.9 1426.5h0M1675.2 1425.1h0M1684.9 1425.4h0M1694.1 1426.1h0M1701.1 1427.4h0M1709.4 1425.1h0M1715.2 1428.3h0M1722.9 1428.2h0M1735.4 1426.5h0M1743.4 1427.8h0M1751.3 1427.3h0M1758.2 1428.2h0M1762.8 1427.3h0M1773.1 1426.9h0M1781.6 1429.6h0M1655.4 1435.5h0M1665.1 1432.8h0M1674.4 1431.5h0M1681.2 1432.2h0M1685.9 1433.9h0M1696.8 1434.8h0M1703.9 1436.7h0M1714.3 1432h0M1717.7 1436.8h0M1728.1 1431.7h0M1734.7 1435.3h0M1742.7 1433.3h0M1753.7 1433.2h0M1761.6 1436.8h0M1770.4 1434.8h0M1777.4 1432.9h0M1785.5 1435h0M1654.7 1439.9h0M1663 1442.9h0M1667.9 1440h0M1674.2 1443.2h0M1684.3 1440.1h0M1690.7 1439.4h0M1702.9 1438.8h0M1709 1441.8h0M1716.8 1441h0M1724 1439.2h0M1734.6 1443.4h0M1741 1439.5h0M1751.1 1439.2h0M1754.7 1441.8h0M1766.6 1441.4h0M1770.3 1443.9h0M1778.6 1440.1h0M1606.8 1450.4h0M1650.6 1446.6h0M1659.1 1446.8h0M1667 1446h0M1672.3 1445.7h0M1678.5 1448.1h0M1687.8 1448.2h0M1694.9 1446.8h0M1703.6 1450.3h0M1710.1 1447.4h0M1722.8 1448.4h0M1727.2 1450.9h0M1734.3 1445.8h0M1741.7 1447.6h0M1754.8 1446.6h0M1759.4 1449.7h0M1766.1 1445h0M1777.6 1445.5h0M1784.8 1445.8h0M1793.3 1450h0M1603.6 1454.9h0M1611.2 1453.9h0M1630.1 1455.5h0M1636.3 1454.7h0M1645.3 1456h0M1649.8 1456.9h0M1660.4 1453.9h0M1671.4 1456.4h0M1675.7 1452h0M1684.3 1454.5h0M1691.9 1452.4h0M1701.1 1453.4h0M1710.2 1455h0M1715.4 1456.8h0M1724.3 1452.4h0M1731.3 1452.2h0M1740.2 1457.3h0M1751.3 1455.8h0M1754.6 1453.3h0M1762.9 1454.1h0M1773.5 1452h0M1780.6 1454.4h0M1789.6 1456.8h0M1796 1455.5h0M1623.7 1459.5h0M1634.9 1464.2h0M1642.4 1462.6h0M1651.5 1462.1h0M1657.7 1462.7h0M1666.8 1463.9h0M1671.5 1460h0M1680.9 1462.3h0M1687.8 1464h0M1698.7 1462.9h0M1704.9 1463h0M1710.8 1463.6h0M1718.4 1464.2h0M1729.4 1460.5h0M1734.8 1462.4h0M1744.4 1463h0M1750.2 1464h0M1760.2 1461.4h0M1770.1 1462.4h0M1776.3 1460.5h0M1784.4 1459h0M1791.2 1463.7h0M1635.4 1470.4h0M1644.7 1468.6h0M1650.4 1469.6h0M1661.8 1467.5h0M1665.9 1466.3h0M1675.2 1471.7h0M1686.1 1471.1h0M1694.1 1466.5h0M1700 1471.4h0M1710.7 1471.7h0M1718.6 1470h0M1726.2 1471.2h0M1732.2 1465.9h0M1739.5 1465.8h0M1747.3 1469.3h0M1755.3 1467.2h0M1762.2 1467.9h0M1634.8 1477h0M1640.7 1475.9h0M1646.3 1476.2h0M1659.6 1473.9h0M1665.3 1477.7h0M1673.5 1474.7h0M1679.1 1477h0M1691.2 1477.9h0M1696 1477.1h0M1706.5 1474.9h0M1714.2 1475h0M1718.8 1472.6h0M1730 1477.2h0M1733.9 1473h0M1743.6 1473.9h0M1754 1473.8h0M1628.2 1485.1h0M1637.5 1483.8h0M1642.5 1482.7h0M1653.9 1485.1h0M1663.1 1481.2h0M1668.7 1485.4h0M1674.2 1480h0M1682.7 1484h0M1691.6 1483.8h0M1702.6 1484.4h0M1705.9 1483.7h0M1718.4 1483.8h0M1726.8 1484.5h0M1733.3 1484.8h0M1740.9 1480.2h0M1631.2 1490.6h0M1641.8 1488h0M1648.8 1490.3h0M1655.3 1489.7h0M1665.4 1492.2h0M1671.3 1487.5h0M1680.7 1490.1h0M1688.6 1492h0M1694.9 1489.6h0M1704.5 1487.7h0M1712.4 1489.2h0M1719.9 1491.1h0M1731.6 1492.3h0M1734.9 1488.7h0M1630.2 1498.5h0M1635.3 1498h0M1646.2 1497h0M1653.2 1496.8h0M1662.1 1497.6h0M1667.3 1497.3h0M1677.9 1496.2h0M1687 1495.3h0M1692.9 1496.8h0M1701.3 1494.5h0M1709.6 1494.1h0M1716.8 1496.1h0M1725.8 1498.6h0M1735.5 1494.8h0M1743.1 1496.3h0M1627.5 1501.3h0M1634.7 1505.7h0M1641.5 1502.4h0M1646.7 1503h0M1655.9 1501.9h0M1665.7 1504.2h0M1671.2 1501.4h0M1680.6 1504.6h0M1689.6 1504.2h0M1699 1504.9h0M1704.3 1504.8h0M1713.6 1502.4h0M1718.6 1502.6h0M1729.9 1504.9h0M1735.5 1503.6h0M1627 1510.9h0M1634.1 1509.6h0M1646 1508.8h0M1650.5 1511.8h0M1658.8 1512.7h0M1669.3 1512.6h0M1676.8 1510.2h0M1683.2 1507.6h0M1695.4 1508.6h0M1698.1 1512.9h0M1708.9 1510.8h0M1719.2 1511.7h0M1723.2 1509h0M1733.6 1511.4h0M1632.2 1514.4h0M1637.8 1519h0M1649.8 1516.5h0M1657.7 1519.1h0M1661.7 1518.7h0M1675.5 1519.4h0M1682.9 1516.9h0M1689.3 1514.9h0M1698.4 1518.2h0M1704.1 1514.5h0M1710.7 1516.6h0M1723.2 1517h0M1730.8 1515.3h0M1634 1526.7h0M1643.1 1522.5h0M1650.7 1524.7h0M1661.6 1523h0M1667.2 1521.2h0M1677.2 1525.4h0M1682.4 1522.6h0M1694.1 1525.4h0M1640.3 1529.2h0M1645.7 1530.6h0M1655 1529.6h0M1666.4 1532.5h0M1672.1 1528.2h0M1682.2 1529.6h0M1686.2 1532.6h0M1638.6 1536.8h0M1642 1540.8h0M1649.7 1537.5h0M1660.7 1540.9h0M1667.8 1536.4h0M1675.4 1537.2h0M1682.5 1540.4h0M1634.3 1543.3h0M1640.2 1547.5h0M1650.9 1547.1h0M1653.9 1547.8h0M1665 1542.8h0M1675.6 1542.7h0M1638.5 1551.8h0M1645.6 1550.2h0M1653.4 1549.3h0M1662.8 1549.9h0M1669.1 1553.9h0M1678.6 1554h0M1633.5 1556.6h0M1640.3 1559.2h0M1646 1557.8h0M1654 1561.2h0M1661.7 1556.7h0M1673.3 1557.2h0M1634.5 1563.4h0M1642.2 1567.6h0M1651.9 1562.7h0M1659.3 1565.8h0M1668.5 1563.6h0M1633.3 1574.6h0M1641.5 1574.9h0M1651.4 1574.8h0M1657.3 1572h0M1664.8 1571h0M1636.3 1578.9h0M1644.5 1577.4h0M1651 1579h0M1635.5 1585.5h0M1643 1588.9h0M1645.8 1586.8h0M1635.7 1591.4h0M1643 1594.2h0M1632.8 1603.2h0M1628.6 1609.4h0M1637.4 1605.6h0M1617.4 1611.2h0M1624.9 1616.1h0M1632.5 1613.4h0M1618.9 1620.1h0M1627.4 1619.5h0M1633.9 1619.4h0M1626.7 1625.2h0M1623.4 1637h0M1629.3 1637.7h0M1624.4 1643.3h0M1632.5 1643.3h0M1622.4 1650.7h0M1630.8 1646.5h0M1637 1647h0M1623.7 1657.6h0M1635 1654.2h0M1638.6 1652.8h0M1626.6 1665.5h0M1635.5 1661h0M1623.3 1671.8h0M1629.8 1669h0M1627.2 1675.3h0M1634.9 1679.1h0M1624.6 1686.1h0M1634.7 1686.2h0M1639.4 1683h0M1630.2 1692.5h0M1635 1692.6h0M1630.9 1695.4h0M1846.1 1264.6h0M1791.7 1415.9h0M1622.7 1499.5h0M1651.2 1409.9h0M1865.6 1273.4h0M1733.6 1522.7h0M1794 1389.9h0M1827.1 1265.4h0M1772.4 1470h0M1588.7 1752.5h0M1684.7 1375.7h0M1717 1345.7h0M1728 1338.1h0M1828.1 1258.7h0M1713.6 1356h0M1876.8 1276.4h0M1625.8 1604.7h0M1643.1 1668.2h0M1623.3 1623.2h0M1633.2 1472.7h0M1678.1 1554.6h0M1773.2 1356.1h0M1791.8 1429.8h0M1868.7 1273.7h0M1617.4 1626.4h0M1775.4 1293.4h0M1770.1 1383.6h0M1618.1 1659.7h0M1823.3 1302.3h0M1723.9 1345.2h0M1615.1 1683.5h0M1877.6 1280.3h0M1624.6 1543.2h0M1837.2 1271.2h0M1689 1550.1h0M1764.8 1375.9h0M1625.6 1605.1h0M1799.6 1280.3h0M1774.8 1389.5h0M1718.6 1348.4h0M1646.2 1422h0M1801 1453.3h0M1815.2 1309.5h0M1831.8 1283.4h0M1799.3 1448h0M1743 1335.8h0M1620.6 1447.2h0M1768 1370h0M1698.7 1531h0M1754.6 1481.9h0M1611.2 1742.1h0M1696 1528.5h0M1579.6 1468.8h0M1791.4 1362.6h0M1605.7 1726.2h0M1644.3 1429.3h0M1641 1651.4h0M1795.7 1447.2h0M1661.2 1386.1h0M1735.5 1506.1h0M1828 1270.4h0M1649.3 1596.1h0M1696.3 1368.7h0M1813.5 1352.9h0M1639.3 1659.6h0M1587.4 1464.1h0M1714.9 1525.2h0M1745.2 1514.4h0M1809.7 1318h0M1846.3 1269.4h0M1621.6 1630.7h0M1607.3 1446.8h0M1711.9 1350h0M1611.3 1700.3h0M1605.3 1452.2h0M1625.7 1588.1h0M1783.9 1415.3h0M1647.2 1432.3h0M1774.3 1364.1h0M1647.6 1414.6h0M1799.8 1355.7h0M1795.8 1472.3h0M1750.2 1522.9h0M1600.6 1457.1h0M1749 1482.8h0M1653.6 1385.8h0M1844 1242.6h0M1769.3 1393.7h0M1745.7 1490h0M1647 1401.5h0M1650.8 1594.4h0M1625.3 1607.9h0M1872.5 1267.8h0M1796.5 1426.8h0M1640.7 1436.3h0M1648.5 1436.1h0M1640.6 1598.1h0M1818.7 1357.6h0M1709.8 1350.1h0M1686.6 1371.3h0M1632.3 1547.4h0M1613.8 1637.6h0M1650 1585h0M1817.4 1262.2h0M1628.1 1584h0M1646.6 1657.2h0M1651.3 1582.9h0M1871.1 1279.7h0M1630.4 1524.7h0M1635.7 1561.5h0M1839.3 1241.8h0M1766.8 1314h0M1636.7 1562.8h0M1662.9 1380.2h0M1787.3 1462.6h0M1848.9 1253.5h0M1728.1 1330.9h0M1635.2 1628.7h0M1634.1 1605.7h0M1794 1444.4h0M1617.6 1645.3h0M1647.9 1416.8h0M1799.6 1459.3h0M1797.4 1458h0M1705.3 1520h0M1806.3 1421.9h0M1606 1612.8h0M1690 1367.5h0M1696.3 1529.8h0M1827.7 1269.8h0M1624.3 1638.2h0M1683.2 1549.1h0M1844.8 1267.4h0M1605.4 1450.4h0M1771.7 1306.2h0M1796.4 1354.7h0M1639 1692.6h0M1779.5 1403.7h0M1829.8 1305.4h0M1748.9 1317h0M1765.2 1387h0M1589.8 1456.3h0M1622.3 1647.6h0M1650.3 1424h0M1586.3 1471h0M1654.3 1397h0M1623.1 1591.9h0M1833.9 1266.9h0M1794.7 1446.7h0M1873.5 1267.8h0M1740.1 1338.3h0M1592.3 1470.1h0M1649.1 1397.6h0M1626 1550.5h0M1635 1446.5h0M1638.3 1600.4h0M1776.5 1367.3h0M1683.4 1378.5h0M1811.7 1312.1h0M1833.5 1251h0M1760 1472.8h0M1619.4 1703.6h0M1637.1 1412h0M1659.4 1681h0M1776.9 1298.3h0M1650.1 1439.3h0M1623.1 1681.7h0M1588.9 1471h0M1668.5 1577.3h0M1618.8 1502.8h0M1610.3 1604.8h0M1605.6 1462.3h0M1780.7 1367.4h0M1806 1338.6h0M1623 1521.8h0M1768.9 1376.2h0M1612.5 1625.6h0M1779 1461.9h0M1806.6 1419.4h0M1601.3 1445.8h0M1679.1 1547.4h0M1705.4 1528.7h0M1646.3 1603.5h0M1626.5 1473.6h0M1630 1467.1h0M1789.6 1268.6h0M1596.3 1469.7h0M1633.1 1628.2h0M1686.8 1380h0M1826.1 1273.6h0M1803.6 1418.8h0M1656.9 1407.7h0M1765.2 1464.2h0M1611.4 1606h0M1603.3 1461h0M1793.3 1470.9h0M1617.9 1744.8h0M1807.5 1318.8h0M1668.2 1577.9h0M1645 1697.3h0M1640.1 1686.4h0M1637.9 1626.5h0M1635.6 1443h0M1635.2 1529.7h0M1604.9 1719.4h0M1626.2 1527.8h0M1617.5 1644h0M1692.2 1531.7h0M1813.5 1350.8h0M1598.4 1738.3h0M1644.8 1593.6h0M1629.2 1510.6h0M1596.6 1454.6h0M1597.2 1744.4h0M1637.7 1652.7h0M1628 1608.8h0M1635.3 1700.9h0M1629.3 1567.7h0M1626.8 1685.4h0M1632.9 1620h0M1626 1469h0M1621.2 1479.2h0M1867 1271.5h0M1782.9 1387.9h0M1775.5 1461.7h0M1838 1268.6h0M1767.5 1379.9h0M1817.2 1305h0M1692.8 1373.1h0M1605.1 1721.5h0M1585.1 1465.6h0M1622.2 1741.2h0M1763.4 1313.5h0M1835.1 1282.9h0M1617 1701.4h0M1652.6 1411.7h0M1679.3 1558.6h0M1657.5 1678.9h0M1733.2 1336.5h0M1645 1642.9h0M1739.8 1323.9h0M1873.8 1261.8h0M1623.4 1481.4h0M1806.5 1319.1h0M1601.3 1747.8h0M1635.3 1626.3h0M1806.5 1329.2h0M1630 1538.2h0M1693.5 1369.6h0M1752.2 1326.1h0M1794.1 1445.2h0M1787.4 1444.5h0M1712.1 1351h0M1818.5 1355.6h0M1610.2 1449.9h0M1848.1 1243.5h0M1646.2 1584.9h0M1642.5 1655h0M1759.4 1299.8h0M1667.5 1571.4h0M1637.8 1711.7h0M1774.2 1400.8h0M1596.6 1463.4h0M1627.5 1558.7h0M1664.9 1578.4h0M1802.2 1462.2h0M1631.5 1635.8h0M1655.1 1394.5h0M1635.8 1416.3h0M1739.5 1495h0M1628.1 1584.5h0M1632.5 1700.2h0M1866.6 1270.5h0M1631.4 1456.8h0M1593.2 1469h0M1631.9 1411.5h0M1721.8 1334h0M1773.9 1373.8h0M1629.3 1623.2h0M1693.3 1531.2h0M1792.8 1426.5h0M1618.2 1501.1h0M1797.5 1279.4h0M1652.7 1407h0M1780.8 1408h0M1658.4 1391.2h0M1627.6 1487.7h0M1626.6 1541.9h0M1780.6 1388.2h0M1869.4 1272.3h0M1590.8 1744h0M1798.7 1361.4h0M1653 1578.9h0M1677.2 1568.5h0M1620.1 1500.8h0M1715.9 1532.2h0M1599.8 1744.3h0M1751.2 1317.3h0M1738.8 1518h0M1724.6 1345.4h0M1764.4 1312h0M1838.5 1243.3h0M1785.9 1276.3h0M1749.3 1314.3h0M1678.5 1541.4h0M1803.4 1267.6h0M1770.6 1273.3h0M1612.7 1462.5h0M1618.3 1663.6h0M1772.4 1467.8h0M1692 1539.3h0M1718.3 1343.2h0M1603.1 1742.2h0M1647.9 1582.3h0M1625.8 1597.7h0M1601 1725.8h0M1794.1 1435.3h0M1662.9 1577.8h0M1624.4 1463.5h0M1617.2 1662.7h0M1600.6 1739.3h0M1677.8 1372.5h0M1787.3 1467h0M1662.2 1577.5h0M1732 1337.7h0M1629.3 1550.3h0M1683 1374.9h0M1624 1747h0M1801.6 1457.7h0M1644.3 1419.6h0M1816.2 1416.8h0M1798.5 1277.3h0M1802.2 1329.7h0M1613.3 1668.2h0M1643 1592h0M1746.8 1512.6h0M1640.4 1420.3h0M1826.6 1284.8h0M1623.4 1740.3h0M1596.4 1465.5h0M1641.6 1618.7h0M1716.8 1523.7h0M1740.6 1506.8h0M1640.9 1700.1h0M1811.3 1309h0M1626.7 1570.3h0M1770.6 1361.2h0M1593.4 1458.3h0M1773.6 1466.6h0M1853 1255.3h0M1631.2 1416.3h0M1680.9 1375h0M1803.2 1353.3h0M1712.7 1525.8h0M1780.2 1471h0M1614.4 1501.5h0M1643.5 1412.6h0M1624.1 1743.8h0M1809.8 1333.5h0M1729.8 1329.8h0M1802.3 1454.7h0M1615.3 1675.7h0M1636.6 1633.1h0M1722.8 1520.5h0M1629.1 1496.6h0M1643.8 1667.7h0M1629.4 1582.6h0M1621.4 1593.6h0M1619 1662.5h0M1744.2 1333.9h0M1815.5 1416.7h0M1605.9 1739h0M1625.4 1479.5h0M1612.1 1619.2h0M1598.9 1731h0M1643.8 1652.9h0M1865.8 1270.6h0M1606.6 1753.1h0M1786.6 1466.5h0M1619.3 1695.1h0M1625.7 1748h0M1680.9 1552.3h0M1689.1 1367h0M1747.2 1515.2h0M1800.9 1277.8h0M1644.5 1616.7h0M1790.2 1355.5h0M1769.9 1470.6h0M1832.2 1290.4h0M1787.5 1416.4h0M1607.1 1717.4h0M1700.4 1519.8h0M1724 1336.9h0M1607 1733.8h0M1722.8 1530.6h0M1755.6 1321.5h0M1635.8 1558.8h0M1625.8 1570.9h0M1645.2 1657.9h0M1752.2 1468.9h0M1642.4 1614.4h0M1770.7 1279h0M1781.3 1418.6h0M1627.6 1552.3h0M1799.5 1412h0M1791.8 1452.3h0M1665.5 1376.7h0M1729.5 1522.3h0M1769.7 1310.6h0M1803.5 1276.3h0M1637.7 1623.1h0M1834.6 1256.9h0M1700.1 1519.7h0M1822.8 1411.4h0M1635.6 1733.4h0M1665.7 1386.6h0M1675.7 1567.7h0M1744.5 1510.2h0M1800.2 1280.8h0M1624.9 1548.4h0M1825.5 1256.9h0M1680.7 1553h0M1611 1702.6h0M1671 1389.4h0M1834 1272.4h0M1819.5 1416.4h0M1800.6 1384.7h0M1747.4 1326.3h0M1631.3 1452.3h0M1630.3 1514.9h0M1722.9 1338.8h0M1638.4 1540h0M1706.3 1354.3h0M1622.8 1596.6h0M1594 1468.6h0M1635.4 1416.7h0M1646.4 1605.2h0M1800.1 1421.1h0M1726.1 1339.5h0M1792.6 1475.4h0M1617.4 1642.5h0M1762.4 1475.3h0M1668 1384h0M1798.9 1452.5h0M1694.4 1350.6h0M1774.8 1371.7h0M1625.4 1637.2h0M1746.5 1493.8h0M1647.7 1443.6h0M1836.8 1294.7h0M1653.5 1415h0M1622.2 1625.1h0M1623.7 1485.4h0M1812.4 1323h0M1589.6 1753.8h0M1674.4 1576.3h0M1748.9 1320.8h0M1833.1 1301.5h0M1817.7 1311.1h0M1615.3 1680h0M1687.1 1368h0M1623.9 1657.9h0M1621.4 1461.4h0M1811.2 1349.4h0M1790.2 1428.6h0M1638.5 1619.5h0M1875.1 1271.1h0M1802.5 1461h0M1649.9 1581.6h0M1795.3 1387.6h0M1812.1 1324h0M1647.8 1391.7h0M1638.6 1600.8h0M1612.8 1499.8h0M1689 1543.7h0M1728.6 1331.9h0M1822.1 1264.7h0M1581.6 1472.7h0M1641.3 1617.4h0M1638.8 1626.8h0M1684.5 1541.5h0M1702.8 1367.1h0M1723.1 1622h0M1749.4 1626.4h0M1776.9 1622.5h0M1778 1625.3h0M1780.3 1626h0M1778.3 1647.2h0M1787.5 1664.6h0M1786.9 1665.1h0M1772.2 1669.6h0M1768.7 1670.1h0M1752.3 1668.4h0M1749.2 1665.3h0M1744.5 1657.1h0M1739.1 1648.2h0M1735.8 1640h0M1728.2 1621.1h0M1778.5 1656.8h0M1743.8 1648.6h0M1759.1 1659.6h0M1766.6 1635.4h0M1758.3 1657.6h0M1769.6 1643.2h0M1770 1650.7h0M1752.1 1651.8h0M1757.1 1655.4h0M1767.9 1642.8h0M1769.9 1649.8h0M1738.1 1644.5h0M1773.4 1661.8h0M1771.6 1648.8h0M1750.5 1665.4h0M1746.8 1652.4h0M1745.5 1630h0M1743.9 1636.1h0M1750.7 1650.5h0M1769.4 1644.3h0M1752 1657.1h0M1758.1 1643.8h0M1750 1632.8h0M1759.2 1647.1h0M1778.2 1648.6h0M1776.1 1662.3h0M1749.9 1654.4h0M1759.4 1651.9h0M1766.2 1632.9h0M1742.4 1651.9h0M1763.9 1654h0M1770.4 1631.1h0M1767.2 1666.8h0M1765.8 1632.6h0M1772.3 1659.2h0M1755.3 1666.5h0M1765.4 1653.9h0M1765.1 1659.4h0M1777.8 1647.9h0M1771.2 1665.7h0M1744.4 1634.9h0M1774.5 1657.7h0M1746.6 1636.2h0M1753 1661.5h0M1765 1648.2h0M1671.9 1589h0M1673.8 1610h0M1685.3 1604.3h0M1696.8 1587.1h0M1702.5 1594.7h0M1704.4 1604.3h0M1719.7 1608.1h0M1693 1579.4h0M1715.9 1556.5h0M1712.1 1566h0M1731.2 1564.1h0M1740.8 1548.8h0M1750.3 1548.8h0M1746.5 1564.1h0M1777.1 1553.6h0M1769.4 1566h0M1719.7 1581.3h0M1735 1581.3h0M1721.6 1590.9h0M1750.3 1589h0M1758 1596.6h0M1769.4 1591.9h0M1781.9 1581.3h0M1798.1 1573.7h0M1815.3 1558.4h0M1828.7 1550.7h0M1813.4 1577.5h0M1817.2 1590.9h0M1802 1594.7h0M1738.9 1609.1h0M1723.6 1621.5h0M1790.5 1611.9h0M1786.7 1620.5h0M1794.3 1634.9h0M1693 1649.8h0M1700.6 1651.1h0M1833.5 1611.9h0M1852.6 1616.7h0M1823 1652.1h0M1805.8 1652.1h0M1800 1657.8h0M1885.1 1563.2h0M1866.6 1546.9h0M1908.1 1519.2h0M1896.6 1488.6h0M1914.8 1486.7h0M1840.2 1508.7h0M1855.5 1510.6h0M1849.8 1525.9h0M1840.2 1537.4h0M1797.2 1521.1h0M1770.4 1514.4h0M1780.9 1497.2h0M1804.8 1502h0M1817.2 1489.6h0M1895.6 1295.3h0M1889.9 1302h0M1910.9 1313.5h0M1868.9 1320.2h0M1863.1 1334.5h0M1886.1 1325.9h0M1897.6 1329.7h0M1915.7 1332.6h0M1886.1 1346.9h0M1903.3 1346h0M1897.6 1360.3h0M1915.7 1362.2h0M1893.7 1375.6h0M1913.8 1381.3h0M1861.2 1381.3h0M1893.7 1394.7h0M1886.1 1399.5h0M1902.3 1404.3h0M1917.6 1406.2h0M1883.2 1414.8h0M1887 1429.1h0M1899.5 1438.7h0M1911.9 1442.5h0M1910 1451.1h0M1876.5 1446.3h0M1867 1447.3h0M1882.3 1459.7h0M1870.8 1469.3h0M1866 1457.8h0M1850.1 1454.4h0M1817.2 1345h0M1821.1 1358.4h0M2134.8 1097.2h0M2129 1106.8h0M2113.7 1103.9h0M2100.3 1101h0M2098.4 1116.3h0M2058.3 1116.3h0M2047.8 1124h0M2073.6 1123h0M2075.5 1137.4h0M2062.1 1140.2h0M2022 1131.6h0M2029.6 1137.4h0M2027.7 1149.8h0M1999 1138.3h0M2007.6 1143.1h0M2004.7 1173.7h0M2022.9 1179.4h0M1985.6 1174.6h0M1984.7 1193.8h0M1961.7 1172.7h0M1956.9 1179.4h0M1944.5 1178.5h0M1933 1181.3h0M1942.6 1186.1h0M1958.9 1189h0M1962.7 1200.5h0M1924.1 1196.3h0M1946.4 1216.7h0M1888.1 1226.3h0M1910.1 1227.6h0M1916.8 1240.6h0M1930.2 1241.6h0M1938.8 1240.6h0M1898.6 1250.2h0M1915.8 1251.1h0M1896.7 1296.1h0M1891.9 1301.8h0M1911.1 1313.3h0M1869 1320h0M1886.2 1324.7h0M1901.5 1322.8h0M1862.3 1334.3h0M1915.8 1332.4h0M1886.2 1345.8h0M1897.7 1338.1h0M1907.2 1346.7h0M1897.7 1353.4h0M1915.8 1362h0M1899.6 1366.8h0M1893.8 1376.4h0M1913.9 1381.1h0M1861.3 1382.1h0M1893.8 1393.6h0"/>
<line class="d" x1="1353.3" y1="1773.3" x2="2238.8" y2="1027"/>
<text transform="translate(1353.3 1842.1) scale(1 1.04)" text-anchor="middle">292</text>
<text transform="translate(1326 1790.2) scale(1 1.04)" text-anchor="end">292</text>
<text transform="translate(1530.4 1842.1) scale(1 1.04)" text-anchor="middle">296</text>
<text transform="translate(1326 1640.9) scale(1 1.04)" text-anchor="end">296</text>
<text transform="translate(1707.5 1842.1) scale(1 1.04)" text-anchor="middle">300</text>
<text transform="translate(1326 1491.7) scale(1 1.04)" text-anchor="end">300</text>
<text transform="translate(1884.6 1842.1) scale(1 1.04)" text-anchor="middle">304</text>
<text transform="translate(1326 1342.4) scale(1 1.04)" text-anchor="end">304</text>
<text transform="translate(2061.7 1842.1) scale(1 1.04)" text-anchor="middle">308</text>
<text transform="translate(1326 1193.2) scale(1 1.04)" text-anchor="end">308</text>
<text transform="translate(2238.8 1842.1) scale(1 1.04)" text-anchor="middle">312</text>
<text transform="translate(1326 1043.9) scale(1 1.04)" text-anchor="end">312</text>
<text transform="translate(1796.4 1908.9) scale(1 1.04)" text-anchor="middle" class="ax">L8 LST (K)</text>
<text transform="translate(1214.1 1399.4) rotate(-90) scale(1 1.04)" text-anchor="middle" class="ax">ESTARFM LST (K)</text>
<text transform="translate(1367.5 1087.6) scale(1 1.04)">RMSE = 2.18 K</text>
<text transform="translate(1383 1155.2) scale(1 1.04)">MAE = 1.90 K</text>
<text transform="translate(1429.2 1231) scale(1 1.04)">R<tspan class="sup" dy="-21.8">2</tspan><tspan dy="21.8"> = 0.41</tspan></text>
<text transform="translate(2074.2 1213) scale(1 1.02)" class="sm">1:1 line</text>
<text transform="translate(1873.5 1735.5) scale(1 1.04)">(d) 20210906</text>
</g>
</svg>
</body>
</html>
